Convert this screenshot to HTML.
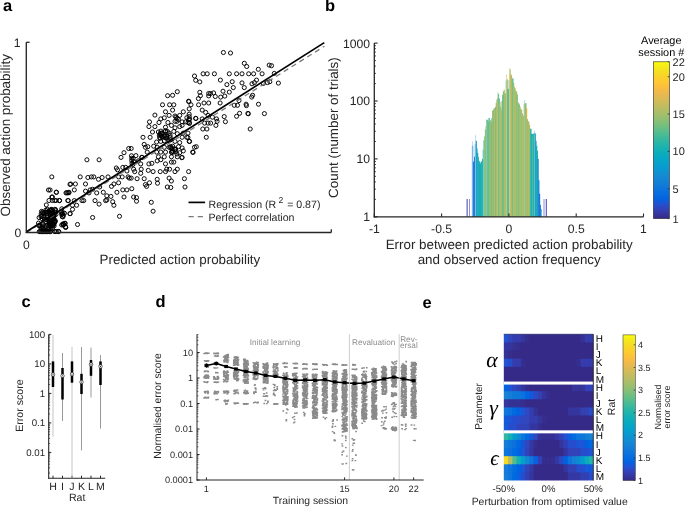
<!DOCTYPE html>
<html><head><meta charset="utf-8"><style>
html,body{margin:0;padding:0;background:#fff;}
body{width:685px;height:507px;overflow:hidden;}
svg{display:block;will-change:transform;text-rendering:geometricPrecision;}
</style></head><body>
<svg width="685" height="507" viewBox="0 0 685 507">
<rect width="685" height="507" fill="#fff"/>
<text x="3.00" y="11.40" font-size="16.5" text-anchor="start" fill="#000" font-family="&quot;Liberation Sans&quot;, sans-serif" font-weight="bold">a</text>
<text x="324.90" y="10.90" font-size="16.5" text-anchor="start" fill="#000" font-family="&quot;Liberation Sans&quot;, sans-serif" font-weight="bold">b</text>
<text x="21.40" y="307.30" font-size="16.5" text-anchor="start" fill="#000" font-family="&quot;Liberation Sans&quot;, sans-serif" font-weight="bold">c</text>
<text x="155.50" y="307.40" font-size="16.5" text-anchor="start" fill="#000" font-family="&quot;Liberation Sans&quot;, sans-serif" font-weight="bold">d</text>
<text x="422.60" y="307.60" font-size="16.5" text-anchor="start" fill="#000" font-family="&quot;Liberation Sans&quot;, sans-serif" font-weight="bold">e</text>
<g fill="none" stroke="#000" stroke-width="0.95">
<circle cx="223.4" cy="52.5" r="2.05"/>
<circle cx="230.5" cy="53.0" r="2.05"/>
<circle cx="244.3" cy="63.3" r="2.05"/>
<circle cx="246.7" cy="66.5" r="2.05"/>
<circle cx="269.2" cy="65.1" r="2.05"/>
<circle cx="271.5" cy="65.7" r="2.05"/>
<circle cx="258.3" cy="69.3" r="2.05"/>
<circle cx="214.4" cy="73.8" r="2.05"/>
<circle cx="229.3" cy="73.8" r="2.05"/>
<circle cx="236.6" cy="73.8" r="2.05"/>
<circle cx="242.0" cy="73.8" r="2.05"/>
<circle cx="248.7" cy="73.8" r="2.05"/>
<circle cx="253.6" cy="73.8" r="2.05"/>
<circle cx="262.1" cy="73.8" r="2.05"/>
<circle cx="274.3" cy="73.4" r="2.05"/>
<circle cx="220.4" cy="80.1" r="2.05"/>
<circle cx="232.2" cy="81.7" r="2.05"/>
<circle cx="226.9" cy="84.6" r="2.05"/>
<circle cx="233.3" cy="87.6" r="2.05"/>
<circle cx="242.0" cy="82.9" r="2.05"/>
<circle cx="244.3" cy="87.6" r="2.05"/>
<circle cx="256.5" cy="80.1" r="2.05"/>
<circle cx="252.0" cy="83.8" r="2.05"/>
<circle cx="254.4" cy="82.6" r="2.05"/>
<circle cx="263.3" cy="83.5" r="2.05"/>
<circle cx="267.4" cy="82.6" r="2.05"/>
<circle cx="269.8" cy="81.7" r="2.05"/>
<circle cx="278.4" cy="83.1" r="2.05"/>
<circle cx="223.0" cy="91.2" r="2.05"/>
<circle cx="229.3" cy="92.1" r="2.05"/>
<circle cx="213.6" cy="92.9" r="2.05"/>
<circle cx="215.3" cy="96.5" r="2.05"/>
<circle cx="220.7" cy="97.1" r="2.05"/>
<circle cx="224.8" cy="96.1" r="2.05"/>
<circle cx="252.6" cy="95.3" r="2.05"/>
<circle cx="251.7" cy="97.1" r="2.05"/>
<circle cx="239.0" cy="100.6" r="2.05"/>
<circle cx="220.1" cy="103.0" r="2.05"/>
<circle cx="246.1" cy="104.2" r="2.05"/>
<circle cx="258.5" cy="104.2" r="2.05"/>
<circle cx="210.5" cy="93.5" r="2.05"/>
<circle cx="234.3" cy="105.3" r="2.05"/>
<circle cx="237.5" cy="105.3" r="2.05"/>
<circle cx="246.4" cy="105.6" r="2.05"/>
<circle cx="239.6" cy="113.3" r="2.05"/>
<circle cx="236.6" cy="116.3" r="2.05"/>
<circle cx="247.9" cy="113.4" r="2.05"/>
<circle cx="248.3" cy="113.8" r="2.05"/>
<circle cx="264.4" cy="113.6" r="2.05"/>
<circle cx="224.2" cy="116.6" r="2.05"/>
<circle cx="225.4" cy="121.7" r="2.05"/>
<circle cx="216.5" cy="118.9" r="2.05"/>
<circle cx="217.1" cy="121.3" r="2.05"/>
<circle cx="215.9" cy="125.4" r="2.05"/>
<circle cx="210.6" cy="123.1" r="2.05"/>
<circle cx="250.2" cy="129.0" r="2.05"/>
<circle cx="212.4" cy="117.2" r="2.05"/>
<circle cx="194.5" cy="76.0" r="2.05"/>
<circle cx="195.7" cy="80.3" r="2.05"/>
<circle cx="199.8" cy="81.9" r="2.05"/>
<circle cx="203.1" cy="73.8" r="2.05"/>
<circle cx="207.2" cy="73.8" r="2.05"/>
<circle cx="177.3" cy="91.7" r="2.05"/>
<circle cx="172.6" cy="95.3" r="2.05"/>
<circle cx="167.6" cy="95.7" r="2.05"/>
<circle cx="199.8" cy="92.3" r="2.05"/>
<circle cx="200.4" cy="95.7" r="2.05"/>
<circle cx="198.4" cy="98.6" r="2.05"/>
<circle cx="208.7" cy="93.5" r="2.05"/>
<circle cx="208.7" cy="95.9" r="2.05"/>
<circle cx="188.6" cy="101.2" r="2.05"/>
<circle cx="188.9" cy="101.6" r="2.05"/>
<circle cx="204.0" cy="103.0" r="2.05"/>
<circle cx="162.5" cy="104.8" r="2.05"/>
<circle cx="169.6" cy="104.8" r="2.05"/>
<circle cx="173.8" cy="104.8" r="2.05"/>
<circle cx="191.0" cy="104.8" r="2.05"/>
<circle cx="198.6" cy="104.8" r="2.05"/>
<circle cx="208.7" cy="103.0" r="2.05"/>
<circle cx="165.5" cy="111.8" r="2.05"/>
<circle cx="172.6" cy="110.1" r="2.05"/>
<circle cx="183.3" cy="111.8" r="2.05"/>
<circle cx="189.2" cy="108.9" r="2.05"/>
<circle cx="202.2" cy="110.1" r="2.05"/>
<circle cx="205.7" cy="112.4" r="2.05"/>
<circle cx="154.9" cy="115.1" r="2.05"/>
<circle cx="160.8" cy="118.9" r="2.05"/>
<circle cx="164.3" cy="117.8" r="2.05"/>
<circle cx="169.1" cy="115.4" r="2.05"/>
<circle cx="175.0" cy="116.0" r="2.05"/>
<circle cx="179.7" cy="115.4" r="2.05"/>
<circle cx="189.2" cy="114.2" r="2.05"/>
<circle cx="189.2" cy="116.6" r="2.05"/>
<circle cx="195.7" cy="118.3" r="2.05"/>
<circle cx="195.9" cy="118.5" r="2.05"/>
<circle cx="202.2" cy="118.9" r="2.05"/>
<circle cx="208.1" cy="115.4" r="2.05"/>
<circle cx="149.5" cy="121.9" r="2.05"/>
<circle cx="159.0" cy="122.5" r="2.05"/>
<circle cx="167.9" cy="122.5" r="2.05"/>
<circle cx="175.0" cy="121.3" r="2.05"/>
<circle cx="178.5" cy="119.5" r="2.05"/>
<circle cx="182.1" cy="121.9" r="2.05"/>
<circle cx="185.6" cy="121.9" r="2.05"/>
<circle cx="188.0" cy="122.5" r="2.05"/>
<circle cx="204.6" cy="123.1" r="2.05"/>
<circle cx="208.1" cy="123.1" r="2.05"/>
<circle cx="148.9" cy="126.6" r="2.05"/>
<circle cx="154.9" cy="126.6" r="2.05"/>
<circle cx="165.5" cy="127.2" r="2.05"/>
<circle cx="171.4" cy="125.4" r="2.05"/>
<circle cx="175.0" cy="127.8" r="2.05"/>
<circle cx="179.7" cy="126.6" r="2.05"/>
<circle cx="182.1" cy="125.4" r="2.05"/>
<circle cx="202.8" cy="129.0" r="2.05"/>
<circle cx="206.9" cy="129.0" r="2.05"/>
<circle cx="152.5" cy="132.0" r="2.05"/>
<circle cx="158.4" cy="132.0" r="2.05"/>
<circle cx="162.0" cy="133.1" r="2.05"/>
<circle cx="165.5" cy="130.8" r="2.05"/>
<circle cx="169.1" cy="133.1" r="2.05"/>
<circle cx="173.8" cy="131.4" r="2.05"/>
<circle cx="177.3" cy="133.7" r="2.05"/>
<circle cx="183.3" cy="133.1" r="2.05"/>
<circle cx="188.0" cy="133.1" r="2.05"/>
<circle cx="143.0" cy="137.3" r="2.05"/>
<circle cx="150.1" cy="137.3" r="2.05"/>
<circle cx="159.6" cy="137.3" r="2.05"/>
<circle cx="162.0" cy="136.7" r="2.05"/>
<circle cx="165.5" cy="137.9" r="2.05"/>
<circle cx="170.2" cy="137.3" r="2.05"/>
<circle cx="182.1" cy="137.3" r="2.05"/>
<circle cx="186.8" cy="137.3" r="2.05"/>
<circle cx="206.3" cy="137.3" r="2.05"/>
<circle cx="156.6" cy="142.0" r="2.05"/>
<circle cx="160.8" cy="141.4" r="2.05"/>
<circle cx="164.3" cy="140.8" r="2.05"/>
<circle cx="169.1" cy="140.8" r="2.05"/>
<circle cx="175.0" cy="141.4" r="2.05"/>
<circle cx="179.7" cy="142.6" r="2.05"/>
<circle cx="189.2" cy="141.4" r="2.05"/>
<circle cx="144.2" cy="144.4" r="2.05"/>
<circle cx="145.4" cy="147.3" r="2.05"/>
<circle cx="147.8" cy="146.7" r="2.05"/>
<circle cx="153.7" cy="146.2" r="2.05"/>
<circle cx="157.2" cy="147.3" r="2.05"/>
<circle cx="164.3" cy="147.3" r="2.05"/>
<circle cx="169.1" cy="147.3" r="2.05"/>
<circle cx="172.6" cy="146.2" r="2.05"/>
<circle cx="178.5" cy="146.7" r="2.05"/>
<circle cx="182.1" cy="147.9" r="2.05"/>
<circle cx="194.5" cy="147.3" r="2.05"/>
<circle cx="196.3" cy="146.7" r="2.05"/>
<circle cx="131.2" cy="148.5" r="2.05"/>
<circle cx="135.9" cy="155.6" r="2.05"/>
<circle cx="147.2" cy="152.1" r="2.05"/>
<circle cx="156.6" cy="152.1" r="2.05"/>
<circle cx="160.8" cy="152.1" r="2.05"/>
<circle cx="165.5" cy="152.1" r="2.05"/>
<circle cx="171.4" cy="152.1" r="2.05"/>
<circle cx="175.0" cy="149.7" r="2.05"/>
<circle cx="179.7" cy="152.7" r="2.05"/>
<circle cx="183.3" cy="150.9" r="2.05"/>
<circle cx="192.7" cy="152.1" r="2.05"/>
<circle cx="141.8" cy="157.4" r="2.05"/>
<circle cx="158.4" cy="156.8" r="2.05"/>
<circle cx="164.3" cy="156.8" r="2.05"/>
<circle cx="171.4" cy="156.8" r="2.05"/>
<circle cx="177.3" cy="156.8" r="2.05"/>
<circle cx="182.1" cy="157.4" r="2.05"/>
<circle cx="193.1" cy="152.4" r="2.05"/>
<circle cx="181.8" cy="157.7" r="2.05"/>
<circle cx="187.9" cy="137.5" r="2.05"/>
<circle cx="189.6" cy="141.4" r="2.05"/>
<circle cx="164.4" cy="136.0" r="2.05"/>
<circle cx="170.1" cy="135.2" r="2.05"/>
<circle cx="165.1" cy="136.3" r="2.05"/>
<circle cx="161.2" cy="135.6" r="2.05"/>
<circle cx="166.6" cy="138.1" r="2.05"/>
<circle cx="160.1" cy="133.7" r="2.05"/>
<circle cx="160.1" cy="138.3" r="2.05"/>
<circle cx="167.3" cy="131.4" r="2.05"/>
<circle cx="170.8" cy="139.7" r="2.05"/>
<circle cx="166.8" cy="136.5" r="2.05"/>
<circle cx="160.9" cy="131.1" r="2.05"/>
<circle cx="165.3" cy="131.5" r="2.05"/>
<circle cx="161.3" cy="133.2" r="2.05"/>
<circle cx="159.4" cy="135.2" r="2.05"/>
<circle cx="172.0" cy="152.7" r="2.05"/>
<circle cx="172.7" cy="151.1" r="2.05"/>
<circle cx="172.5" cy="151.3" r="2.05"/>
<circle cx="172.1" cy="148.2" r="2.05"/>
<circle cx="177.0" cy="154.0" r="2.05"/>
<circle cx="175.6" cy="151.7" r="2.05"/>
<circle cx="170.8" cy="147.8" r="2.05"/>
<circle cx="170.6" cy="146.6" r="2.05"/>
<circle cx="174.9" cy="149.2" r="2.05"/>
<circle cx="175.6" cy="149.1" r="2.05"/>
<circle cx="189.4" cy="123.5" r="2.05"/>
<circle cx="176.0" cy="117.1" r="2.05"/>
<circle cx="188.7" cy="119.7" r="2.05"/>
<circle cx="189.7" cy="119.0" r="2.05"/>
<circle cx="177.0" cy="121.3" r="2.05"/>
<circle cx="186.9" cy="117.7" r="2.05"/>
<circle cx="177.2" cy="118.3" r="2.05"/>
<circle cx="189.5" cy="122.6" r="2.05"/>
<circle cx="148.9" cy="163.9" r="2.05"/>
<circle cx="151.9" cy="163.3" r="2.05"/>
<circle cx="157.2" cy="160.9" r="2.05"/>
<circle cx="160.8" cy="159.7" r="2.05"/>
<circle cx="165.5" cy="163.9" r="2.05"/>
<circle cx="171.4" cy="162.1" r="2.05"/>
<circle cx="173.8" cy="162.1" r="2.05"/>
<circle cx="140.7" cy="163.9" r="2.05"/>
<circle cx="133.6" cy="161.5" r="2.05"/>
<circle cx="133.6" cy="169.2" r="2.05"/>
<circle cx="134.7" cy="171.6" r="2.05"/>
<circle cx="141.2" cy="169.2" r="2.05"/>
<circle cx="148.3" cy="170.4" r="2.05"/>
<circle cx="153.1" cy="171.6" r="2.05"/>
<circle cx="160.2" cy="171.6" r="2.05"/>
<circle cx="165.5" cy="171.6" r="2.05"/>
<circle cx="166.7" cy="169.2" r="2.05"/>
<circle cx="169.6" cy="169.2" r="2.05"/>
<circle cx="175.0" cy="171.6" r="2.05"/>
<circle cx="177.3" cy="169.2" r="2.05"/>
<circle cx="188.6" cy="171.6" r="2.05"/>
<circle cx="140.7" cy="173.3" r="2.05"/>
<circle cx="131.2" cy="178.1" r="2.05"/>
<circle cx="137.1" cy="178.7" r="2.05"/>
<circle cx="144.2" cy="178.7" r="2.05"/>
<circle cx="149.5" cy="182.8" r="2.05"/>
<circle cx="145.4" cy="184.6" r="2.05"/>
<circle cx="146.6" cy="186.4" r="2.05"/>
<circle cx="157.2" cy="179.3" r="2.05"/>
<circle cx="157.5" cy="183.2" r="2.05"/>
<circle cx="169.1" cy="178.1" r="2.05"/>
<circle cx="171.4" cy="181.0" r="2.05"/>
<circle cx="184.4" cy="178.7" r="2.05"/>
<circle cx="131.8" cy="188.7" r="2.05"/>
<circle cx="167.3" cy="187.0" r="2.05"/>
<circle cx="170.8" cy="187.5" r="2.05"/>
<circle cx="185.0" cy="187.0" r="2.05"/>
<circle cx="133.6" cy="197.0" r="2.05"/>
<circle cx="136.5" cy="197.6" r="2.05"/>
<circle cx="136.5" cy="201.2" r="2.05"/>
<circle cx="151.3" cy="202.3" r="2.05"/>
<circle cx="153.1" cy="211.2" r="2.05"/>
<circle cx="131.8" cy="158.2" r="2.05"/>
<circle cx="131.5" cy="155.8" r="2.05"/>
<circle cx="142.0" cy="157.3" r="2.05"/>
<circle cx="138.4" cy="160.8" r="2.05"/>
<circle cx="132.9" cy="164.5" r="2.05"/>
<circle cx="132.0" cy="163.4" r="2.05"/>
<circle cx="131.7" cy="160.5" r="2.05"/>
<circle cx="133.2" cy="158.5" r="2.05"/>
<circle cx="121.0" cy="157.4" r="2.05"/>
<circle cx="124.0" cy="152.7" r="2.05"/>
<circle cx="128.7" cy="148.5" r="2.05"/>
<circle cx="86.9" cy="159.8" r="2.05"/>
<circle cx="99.1" cy="159.8" r="2.05"/>
<circle cx="51.8" cy="176.9" r="2.05"/>
<circle cx="80.2" cy="176.9" r="2.05"/>
<circle cx="87.9" cy="177.5" r="2.05"/>
<circle cx="91.4" cy="176.9" r="2.05"/>
<circle cx="93.8" cy="176.9" r="2.05"/>
<circle cx="98.5" cy="179.3" r="2.05"/>
<circle cx="102.1" cy="177.5" r="2.05"/>
<circle cx="108.0" cy="176.9" r="2.05"/>
<circle cx="116.3" cy="168.0" r="2.05"/>
<circle cx="117.5" cy="169.8" r="2.05"/>
<circle cx="122.8" cy="167.4" r="2.05"/>
<circle cx="125.7" cy="167.4" r="2.05"/>
<circle cx="126.9" cy="171.0" r="2.05"/>
<circle cx="118.6" cy="176.9" r="2.05"/>
<circle cx="122.2" cy="176.9" r="2.05"/>
<circle cx="128.1" cy="176.9" r="2.05"/>
<circle cx="129.3" cy="178.1" r="2.05"/>
<circle cx="70.7" cy="184.0" r="2.05"/>
<circle cx="75.4" cy="184.0" r="2.05"/>
<circle cx="85.5" cy="184.0" r="2.05"/>
<circle cx="74.3" cy="189.9" r="2.05"/>
<circle cx="56.5" cy="192.3" r="2.05"/>
<circle cx="66.0" cy="192.9" r="2.05"/>
<circle cx="67.8" cy="192.9" r="2.05"/>
<circle cx="68.9" cy="192.3" r="2.05"/>
<circle cx="85.5" cy="191.1" r="2.05"/>
<circle cx="89.0" cy="192.9" r="2.05"/>
<circle cx="90.2" cy="189.9" r="2.05"/>
<circle cx="92.6" cy="189.3" r="2.05"/>
<circle cx="99.7" cy="187.0" r="2.05"/>
<circle cx="96.7" cy="192.9" r="2.05"/>
<circle cx="103.3" cy="192.3" r="2.05"/>
<circle cx="106.8" cy="195.8" r="2.05"/>
<circle cx="110.9" cy="196.4" r="2.05"/>
<circle cx="111.5" cy="186.4" r="2.05"/>
<circle cx="113.9" cy="184.0" r="2.05"/>
<circle cx="118.6" cy="182.8" r="2.05"/>
<circle cx="116.9" cy="192.3" r="2.05"/>
<circle cx="122.8" cy="189.9" r="2.05"/>
<circle cx="126.9" cy="189.9" r="2.05"/>
<circle cx="124.0" cy="197.0" r="2.05"/>
<circle cx="52.4" cy="197.0" r="2.05"/>
<circle cx="54.7" cy="200.6" r="2.05"/>
<circle cx="59.5" cy="200.6" r="2.05"/>
<circle cx="68.3" cy="200.6" r="2.05"/>
<circle cx="74.3" cy="200.6" r="2.05"/>
<circle cx="82.0" cy="200.6" r="2.05"/>
<circle cx="83.7" cy="200.6" r="2.05"/>
<circle cx="95.0" cy="200.6" r="2.05"/>
<circle cx="99.1" cy="204.1" r="2.05"/>
<circle cx="105.6" cy="200.6" r="2.05"/>
<circle cx="106.8" cy="200.0" r="2.05"/>
<circle cx="112.7" cy="201.7" r="2.05"/>
<circle cx="113.9" cy="205.3" r="2.05"/>
<circle cx="72.5" cy="205.3" r="2.05"/>
<circle cx="76.6" cy="205.3" r="2.05"/>
<circle cx="72.5" cy="209.4" r="2.05"/>
<circle cx="70.1" cy="213.6" r="2.05"/>
<circle cx="61.8" cy="208.8" r="2.05"/>
<circle cx="63.0" cy="213.0" r="2.05"/>
<circle cx="92.6" cy="217.5" r="2.05"/>
<circle cx="119.5" cy="216.3" r="2.05"/>
<circle cx="77.5" cy="224.5" r="2.05"/>
<circle cx="65.8" cy="227.4" r="2.05"/>
<circle cx="62.9" cy="223.9" r="2.05"/>
<circle cx="58.8" cy="231.5" r="2.05"/>
<circle cx="56.4" cy="231.5" r="2.05"/>
<circle cx="54.7" cy="231.5" r="2.05"/>
<circle cx="61.7" cy="214.5" r="2.05"/>
<circle cx="62.9" cy="216.9" r="2.05"/>
<circle cx="65.2" cy="223.3" r="2.05"/>
<circle cx="64.0" cy="224.5" r="2.05"/>
<circle cx="61.7" cy="225.0" r="2.05"/>
<circle cx="48.5" cy="190.0" r="2.05"/>
<circle cx="50.1" cy="190.0" r="2.05"/>
<circle cx="56.2" cy="192.2" r="2.05"/>
<circle cx="66.7" cy="192.7" r="2.05"/>
<circle cx="68.9" cy="192.7" r="2.05"/>
<circle cx="70.0" cy="184.4" r="2.05"/>
<circle cx="51.8" cy="197.1" r="2.05"/>
<circle cx="49.0" cy="200.5" r="2.05"/>
<circle cx="52.3" cy="200.5" r="2.05"/>
<circle cx="56.2" cy="200.5" r="2.05"/>
<circle cx="59.5" cy="200.5" r="2.05"/>
<circle cx="67.8" cy="200.5" r="2.05"/>
<circle cx="46.3" cy="204.9" r="2.05"/>
<circle cx="70.0" cy="213.7" r="2.05"/>
<circle cx="61.2" cy="212.1" r="2.05"/>
<circle cx="63.4" cy="215.4" r="2.05"/>
<circle cx="64.5" cy="213.2" r="2.05"/>
<circle cx="65.6" cy="227.0" r="2.05"/>
<circle cx="63.4" cy="224.2" r="2.05"/>
<circle cx="39.1" cy="217.6" r="2.05"/>
<circle cx="38.5" cy="223.1" r="2.05"/>
<circle cx="39.1" cy="225.4" r="2.05"/>
<circle cx="52.9" cy="225.5" r="2.05"/>
<circle cx="54.2" cy="214.2" r="2.05"/>
<circle cx="46.3" cy="212.6" r="2.05"/>
<circle cx="50.3" cy="223.5" r="2.05"/>
<circle cx="55.8" cy="210.7" r="2.05"/>
<circle cx="44.1" cy="212.6" r="2.05"/>
<circle cx="45.3" cy="222.1" r="2.05"/>
<circle cx="41.2" cy="214.0" r="2.05"/>
<circle cx="50.2" cy="210.5" r="2.05"/>
<circle cx="49.6" cy="213.1" r="2.05"/>
<circle cx="47.3" cy="215.3" r="2.05"/>
<circle cx="47.7" cy="225.3" r="2.05"/>
<circle cx="53.9" cy="218.8" r="2.05"/>
<circle cx="42.5" cy="212.1" r="2.05"/>
<circle cx="53.1" cy="224.4" r="2.05"/>
<circle cx="43.0" cy="213.2" r="2.05"/>
<circle cx="55.0" cy="221.6" r="2.05"/>
<circle cx="55.2" cy="212.3" r="2.05"/>
<circle cx="49.7" cy="224.0" r="2.05"/>
<circle cx="41.7" cy="216.2" r="2.05"/>
<circle cx="55.5" cy="209.7" r="2.05"/>
<circle cx="51.3" cy="213.1" r="2.05"/>
<circle cx="53.2" cy="213.4" r="2.05"/>
<circle cx="44.7" cy="219.1" r="2.05"/>
<circle cx="51.5" cy="212.0" r="2.05"/>
<circle cx="45.8" cy="210.2" r="2.05"/>
<circle cx="53.6" cy="218.5" r="2.05"/>
<circle cx="44.5" cy="219.4" r="2.05"/>
<circle cx="43.3" cy="224.6" r="2.05"/>
<circle cx="47.3" cy="209.3" r="2.05"/>
<circle cx="41.0" cy="216.6" r="2.05"/>
<circle cx="45.9" cy="212.0" r="2.05"/>
<circle cx="42.1" cy="218.7" r="2.05"/>
<circle cx="54.3" cy="215.2" r="2.05"/>
<circle cx="50.5" cy="225.7" r="2.05"/>
<circle cx="49.4" cy="220.8" r="2.05"/>
<circle cx="41.5" cy="211.4" r="2.05"/>
<circle cx="54.9" cy="209.3" r="2.05"/>
<circle cx="55.4" cy="220.9" r="2.05"/>
<circle cx="51.6" cy="209.4" r="2.05"/>
<circle cx="51.7" cy="217.2" r="2.05"/>
<circle cx="56.0" cy="214.4" r="2.05"/>
<circle cx="49.9" cy="210.3" r="2.05"/>
<circle cx="54.4" cy="221.5" r="2.05"/>
<circle cx="51.3" cy="221.5" r="2.05"/>
<circle cx="54.6" cy="222.5" r="2.05"/>
<circle cx="51.0" cy="215.0" r="2.05"/>
<circle cx="53.9" cy="224.3" r="2.05"/>
<circle cx="52.6" cy="216.1" r="2.05"/>
<circle cx="49.2" cy="223.7" r="2.05"/>
<circle cx="46.1" cy="219.6" r="2.05"/>
<circle cx="49.7" cy="218.9" r="2.05"/>
<circle cx="51.1" cy="210.4" r="2.05"/>
<circle cx="54.1" cy="225.9" r="2.05"/>
<circle cx="46.2" cy="221.4" r="2.05"/>
<circle cx="49.3" cy="221.5" r="2.05"/>
<circle cx="53.4" cy="216.5" r="2.05"/>
<circle cx="52.6" cy="210.4" r="2.05"/>
<circle cx="51.1" cy="209.5" r="2.05"/>
<circle cx="43.7" cy="217.2" r="2.05"/>
<circle cx="52.0" cy="218.0" r="2.05"/>
<circle cx="51.1" cy="223.0" r="2.05"/>
<circle cx="47.6" cy="212.1" r="2.05"/>
<circle cx="48.0" cy="220.1" r="2.05"/>
<circle cx="47.0" cy="214.0" r="2.05"/>
<circle cx="54.1" cy="219.9" r="2.05"/>
<circle cx="49.4" cy="222.7" r="2.05"/>
<circle cx="48.3" cy="220.0" r="2.05"/>
<circle cx="47.0" cy="217.2" r="2.05"/>
<circle cx="53.1" cy="223.0" r="2.05"/>
<circle cx="53.8" cy="216.6" r="2.05"/>
<circle cx="50.8" cy="215.8" r="2.05"/>
<circle cx="40.9" cy="227.5" r="2.05"/>
<circle cx="50.7" cy="228.9" r="2.05"/>
<circle cx="49.0" cy="229.3" r="2.05"/>
<circle cx="42.9" cy="226.2" r="2.05"/>
<circle cx="45.3" cy="226.6" r="2.05"/>
<circle cx="42.0" cy="227.2" r="2.05"/>
<circle cx="47.8" cy="227.5" r="2.05"/>
<circle cx="43.4" cy="228.9" r="2.05"/>
<circle cx="52.7" cy="227.3" r="2.05"/>
<circle cx="40.0" cy="225.6" r="2.05"/>
<circle cx="51.2" cy="225.7" r="2.05"/>
<circle cx="48.9" cy="227.8" r="2.05"/>
<circle cx="43.3" cy="228.7" r="2.05"/>
<circle cx="39.3" cy="226.0" r="2.05"/>
<circle cx="39.3" cy="231.6" r="2.05"/>
<circle cx="40.1" cy="231.6" r="2.05"/>
<circle cx="40.9" cy="231.6" r="2.05"/>
<circle cx="41.7" cy="231.6" r="2.05"/>
<circle cx="42.5" cy="231.6" r="2.05"/>
<circle cx="43.3" cy="231.6" r="2.05"/>
<circle cx="44.1" cy="231.6" r="2.05"/>
<circle cx="44.9" cy="231.6" r="2.05"/>
<circle cx="45.7" cy="231.6" r="2.05"/>
<circle cx="46.5" cy="231.6" r="2.05"/>
<circle cx="47.3" cy="231.6" r="2.05"/>
<circle cx="48.1" cy="231.6" r="2.05"/>
<circle cx="48.9" cy="231.6" r="2.05"/>
<circle cx="49.7" cy="231.6" r="2.05"/>
<circle cx="50.5" cy="231.6" r="2.05"/>
<circle cx="55.2" cy="231.6" r="2.05"/>
<circle cx="58.4" cy="231.6" r="2.05"/>
<circle cx="62.3" cy="213.9" r="2.05"/>
<circle cx="62.3" cy="216.7" r="2.05"/>
<circle cx="61.5" cy="212.0" r="2.05"/>
<circle cx="64.7" cy="223.4" r="2.05"/>
<circle cx="65.5" cy="227.0" r="2.05"/>
<circle cx="63.1" cy="225.0" r="2.05"/>
</g>
<line x1="26.30" y1="232.45" x2="324.40" y2="46.30" stroke="#7a7a7a" stroke-width="1.3" stroke-dasharray="5.2,4.0"/>
<line x1="26.50" y1="231.80" x2="324.30" y2="42.60" stroke="#000" stroke-width="1.7"/>
<line x1="26.30" y1="42.30" x2="26.30" y2="233.05" stroke="#262626" stroke-width="1.35"/>
<line x1="25.70" y1="232.45" x2="331.30" y2="232.45" stroke="#262626" stroke-width="1.35"/>
<line x1="26.30" y1="42.30" x2="29.60" y2="42.30" stroke="#262626" stroke-width="1.3"/>
<line x1="331.30" y1="232.45" x2="331.30" y2="229.15" stroke="#262626" stroke-width="1.3"/>
<text x="20.60" y="46.60" font-size="12.2" text-anchor="end" fill="#262626" font-family="&quot;Liberation Sans&quot;, sans-serif">1</text>
<text x="21.40" y="236.85" font-size="12.2" text-anchor="end" fill="#262626" font-family="&quot;Liberation Sans&quot;, sans-serif">0</text>
<text x="26.30" y="248.50" font-size="12.2" text-anchor="middle" fill="#262626" font-family="&quot;Liberation Sans&quot;, sans-serif">0</text>
<text x="179.90" y="263.80" font-size="13.4" text-anchor="middle" fill="#262626" font-family="&quot;Liberation Sans&quot;, sans-serif">Predicted action probability</text>
<text x="9.80" y="135.30" font-size="13.4" text-anchor="middle" fill="#262626" font-family="&quot;Liberation Sans&quot;, sans-serif" transform="rotate(-90 9.80 135.30)">Observed action probability</text>
<line x1="188.50" y1="202.40" x2="205.10" y2="202.40" stroke="#000" stroke-width="1.7"/>
<line x1="188.50" y1="216.70" x2="205.10" y2="216.70" stroke="#7a7a7a" stroke-width="1.3" stroke-dasharray="5.2,4.0"/>
<text x="208.5" y="207.5" font-size="10.6" fill="#262626" font-family="&quot;Liberation Sans&quot;, sans-serif">Regression (R<tspan dx="2.2" dy="-4.8" font-size="8.6">2</tspan><tspan dx="1.0" dy="4.8"> = 0.87)</tspan></text>
<text x="208.50" y="220.70" font-size="10.6" text-anchor="start" fill="#262626" font-family="&quot;Liberation Sans&quot;, sans-serif">Perfect correlation</text>
<rect x="471.90" y="145.81" width="1.32" height="70.99" fill="#2a86d8"/>
<rect x="472.62" y="162.10" width="1.32" height="54.70" fill="#2a86d8"/>
<rect x="473.34" y="161.36" width="1.32" height="55.44" fill="#1f6fe0"/>
<rect x="474.06" y="156.74" width="1.32" height="60.06" fill="#1f6fe0"/>
<rect x="474.78" y="143.79" width="1.32" height="73.01" fill="#17a6c2"/>
<rect x="475.50" y="140.82" width="1.32" height="75.98" fill="#1590d0"/>
<rect x="476.22" y="148.38" width="1.32" height="68.42" fill="#17a6c2"/>
<rect x="476.94" y="152.79" width="1.32" height="64.01" fill="#15a8c0"/>
<rect x="477.66" y="156.81" width="1.32" height="59.99" fill="#3ab8a4"/>
<rect x="478.38" y="160.87" width="1.32" height="55.93" fill="#15a8c0"/>
<rect x="479.10" y="162.31" width="1.32" height="54.49" fill="#15a8c0"/>
<rect x="479.82" y="163.66" width="1.32" height="53.14" fill="#15a8c0"/>
<rect x="480.54" y="162.38" width="1.32" height="54.42" fill="#20b2b0"/>
<rect x="481.26" y="161.06" width="1.32" height="55.74" fill="#20b2b0"/>
<rect x="481.98" y="159.11" width="1.32" height="57.69" fill="#20b2b0"/>
<rect x="482.70" y="149.70" width="1.32" height="67.10" fill="#3ab8a4"/>
<rect x="483.42" y="140.48" width="1.32" height="76.32" fill="#20b2b0"/>
<rect x="484.14" y="136.33" width="1.32" height="80.47" fill="#8cc27a"/>
<rect x="484.86" y="129.46" width="1.32" height="87.34" fill="#8cc27a"/>
<rect x="485.58" y="125.94" width="1.32" height="90.86" fill="#8cc27a"/>
<rect x="486.30" y="120.00" width="1.32" height="96.80" fill="#30b4aa"/>
<rect x="487.02" y="119.76" width="1.32" height="97.04" fill="#6cbf88"/>
<rect x="487.74" y="121.88" width="1.32" height="94.92" fill="#8cc27a"/>
<rect x="488.46" y="117.93" width="1.32" height="98.87" fill="#4dbb98"/>
<rect x="489.18" y="120.15" width="1.32" height="96.65" fill="#8ac07a"/>
<rect x="489.90" y="120.59" width="1.32" height="96.21" fill="#80bf80"/>
<rect x="490.62" y="122.85" width="1.32" height="93.95" fill="#dcb446"/>
<rect x="491.34" y="118.28" width="1.32" height="98.52" fill="#4cbb9a"/>
<rect x="492.06" y="110.73" width="1.32" height="106.07" fill="#8cc07a"/>
<rect x="492.78" y="110.09" width="1.32" height="106.71" fill="#d0b854"/>
<rect x="493.50" y="108.37" width="1.32" height="108.43" fill="#55bb95"/>
<rect x="494.22" y="108.26" width="1.32" height="108.54" fill="#d0b854"/>
<rect x="494.94" y="106.98" width="1.32" height="109.82" fill="#62bd8e"/>
<rect x="495.66" y="102.88" width="1.32" height="113.92" fill="#d0b854"/>
<rect x="496.38" y="99.53" width="1.32" height="117.27" fill="#a4bd6c"/>
<rect x="497.10" y="98.35" width="1.32" height="118.45" fill="#b4bc62"/>
<rect x="497.82" y="93.90" width="1.32" height="122.90" fill="#62bd8e"/>
<rect x="498.54" y="98.47" width="1.32" height="118.33" fill="#55bb95"/>
<rect x="499.26" y="101.96" width="1.32" height="114.84" fill="#b4bc62"/>
<rect x="499.98" y="106.82" width="1.32" height="109.98" fill="#aabd68"/>
<rect x="500.70" y="110.48" width="1.32" height="106.32" fill="#d4b950"/>
<rect x="501.42" y="100.92" width="1.32" height="115.88" fill="#80bf80"/>
<rect x="502.14" y="94.88" width="1.32" height="121.92" fill="#62bd8e"/>
<rect x="502.86" y="91.53" width="1.32" height="125.27" fill="#4cbb9a"/>
<rect x="503.58" y="89.72" width="1.32" height="127.08" fill="#d4b950"/>
<rect x="504.30" y="93.55" width="1.32" height="123.25" fill="#8cc07a"/>
<rect x="505.02" y="93.26" width="1.32" height="123.54" fill="#d4b950"/>
<rect x="505.74" y="80.75" width="1.32" height="136.05" fill="#62bd8e"/>
<rect x="506.46" y="79.22" width="1.32" height="137.58" fill="#8cc07a"/>
<rect x="507.18" y="89.14" width="1.32" height="127.66" fill="#55bb95"/>
<rect x="507.90" y="88.87" width="1.32" height="127.93" fill="#62bd8e"/>
<rect x="508.62" y="80.18" width="1.32" height="136.62" fill="#4cbb9a"/>
<rect x="509.34" y="69.28" width="1.32" height="147.52" fill="#96c074"/>
<rect x="510.06" y="73.86" width="1.32" height="142.94" fill="#d0b854"/>
<rect x="510.78" y="75.37" width="1.32" height="141.43" fill="#b4bc62"/>
<rect x="511.50" y="79.15" width="1.32" height="137.65" fill="#96c074"/>
<rect x="512.22" y="78.26" width="1.32" height="138.54" fill="#62bd8e"/>
<rect x="512.94" y="82.79" width="1.32" height="134.01" fill="#96c074"/>
<rect x="513.66" y="86.86" width="1.32" height="129.94" fill="#d0b854"/>
<rect x="514.38" y="88.25" width="1.32" height="128.55" fill="#96c074"/>
<rect x="515.10" y="91.00" width="1.32" height="125.80" fill="#b4bc62"/>
<rect x="515.82" y="91.40" width="1.32" height="125.40" fill="#96c074"/>
<rect x="516.54" y="94.44" width="1.32" height="122.36" fill="#80bf80"/>
<rect x="517.26" y="102.31" width="1.32" height="114.49" fill="#a4bd6c"/>
<rect x="517.98" y="103.22" width="1.32" height="113.58" fill="#80bf80"/>
<rect x="518.70" y="104.58" width="1.32" height="112.22" fill="#80bf80"/>
<rect x="519.42" y="106.80" width="1.32" height="110.00" fill="#b4bc62"/>
<rect x="520.14" y="109.47" width="1.32" height="107.33" fill="#a4bd6c"/>
<rect x="520.86" y="109.62" width="1.32" height="107.18" fill="#a4bd6c"/>
<rect x="521.58" y="113.47" width="1.32" height="103.33" fill="#8cc07a"/>
<rect x="522.30" y="116.85" width="1.32" height="99.95" fill="#b4bc62"/>
<rect x="523.02" y="115.74" width="1.32" height="101.06" fill="#aabd68"/>
<rect x="523.74" y="103.88" width="1.32" height="112.92" fill="#aabd68"/>
<rect x="524.46" y="104.17" width="1.32" height="112.63" fill="#dcb446"/>
<rect x="525.18" y="102.98" width="1.32" height="113.82" fill="#80bf80"/>
<rect x="525.90" y="108.30" width="1.32" height="108.50" fill="#dcb446"/>
<rect x="526.62" y="119.17" width="1.32" height="97.63" fill="#8ac07a"/>
<rect x="527.34" y="121.21" width="1.32" height="95.59" fill="#96c074"/>
<rect x="528.06" y="121.67" width="1.32" height="95.13" fill="#aabd68"/>
<rect x="528.78" y="124.90" width="1.32" height="91.90" fill="#b4bc62"/>
<rect x="529.50" y="128.65" width="1.32" height="88.15" fill="#8cc27a"/>
<rect x="530.22" y="128.84" width="1.32" height="87.96" fill="#20b0b4"/>
<rect x="530.94" y="134.05" width="1.32" height="82.75" fill="#20b0b4"/>
<rect x="531.66" y="133.79" width="1.32" height="83.01" fill="#20b0b4"/>
<rect x="532.38" y="136.51" width="1.32" height="80.29" fill="#66be8a"/>
<rect x="533.10" y="133.71" width="1.32" height="83.09" fill="#20b0b4"/>
<rect x="533.82" y="133.07" width="1.32" height="83.73" fill="#18acbc"/>
<rect x="534.54" y="133.52" width="1.32" height="83.28" fill="#139ccc"/>
<rect x="535.26" y="140.83" width="1.32" height="75.97" fill="#139ccc"/>
<rect x="535.98" y="145.80" width="1.32" height="71.00" fill="#18acbc"/>
<rect x="536.70" y="150.77" width="1.32" height="66.03" fill="#22b2b0"/>
<rect x="537.42" y="158.87" width="1.32" height="57.93" fill="#1a8ad6"/>
<rect x="538.14" y="180.18" width="1.32" height="36.62" fill="#1a8ad6"/>
<rect x="538.86" y="193.72" width="1.32" height="23.08" fill="#1f72df"/>
<rect x="539.58" y="204.85" width="1.32" height="11.95" fill="#1f72df"/>
<rect x="540.30" y="209.06" width="1.32" height="7.74" fill="#1a8ad6"/>
<rect x="472.05" y="141.50" width="0.8" height="75.30" fill="#a8c8f0" opacity="0.85"/>
<rect x="475.15" y="135.00" width="0.8" height="81.80" fill="#a8d0f0" opacity="0.85"/>
<rect x="483.35" y="140.40" width="0.8" height="76.40" fill="#b0dcd8" opacity="0.85"/>
<rect x="486.05" y="119.40" width="0.8" height="97.40" fill="#9ad0c8" opacity="0.85"/>
<rect x="509.25" y="67.60" width="0.8" height="149.20" fill="#e6d6a0" opacity="0.85"/>
<rect x="506.05" y="74.50" width="0.8" height="142.30" fill="#e0c880" opacity="0.85"/>
<rect x="523.95" y="100.00" width="0.8" height="116.80" fill="#8ad0c0" opacity="0.85"/>
<rect x="534.25" y="130.80" width="0.8" height="86.00" fill="#80d0c8" opacity="0.85"/>
<rect x="497.55" y="91.80" width="0.8" height="125.00" fill="#a8d0a0" opacity="0.85"/>
<rect x="466.5" y="199.0" width="1.3" height="17.80" fill="#6a6ac6"/>
<rect x="469.0" y="199.0" width="1.0" height="17.80" fill="#8f8fda"/>
<rect x="543.5" y="199.0" width="1.0" height="17.80" fill="#8f8fda"/>
<rect x="545.7" y="199.0" width="1.3" height="17.80" fill="#6a6ac6"/>
<line x1="374.30" y1="43.10" x2="374.30" y2="217.40" stroke="#262626" stroke-width="1.3"/>
<line x1="373.70" y1="216.80" x2="643.50" y2="216.80" stroke="#262626" stroke-width="1.3"/>
<line x1="374.30" y1="216.80" x2="377.60" y2="216.80" stroke="#262626" stroke-width="1.1"/>
<line x1="374.30" y1="199.37" x2="376.00" y2="199.37" stroke="#262626" stroke-width="0.8"/>
<line x1="374.30" y1="189.17" x2="376.00" y2="189.17" stroke="#262626" stroke-width="0.8"/>
<line x1="374.30" y1="181.94" x2="376.00" y2="181.94" stroke="#262626" stroke-width="0.8"/>
<line x1="374.30" y1="176.33" x2="376.00" y2="176.33" stroke="#262626" stroke-width="0.8"/>
<line x1="374.30" y1="171.75" x2="376.00" y2="171.75" stroke="#262626" stroke-width="0.8"/>
<line x1="374.30" y1="167.87" x2="376.00" y2="167.87" stroke="#262626" stroke-width="0.8"/>
<line x1="374.30" y1="164.51" x2="376.00" y2="164.51" stroke="#262626" stroke-width="0.8"/>
<line x1="374.30" y1="161.55" x2="376.00" y2="161.55" stroke="#262626" stroke-width="0.8"/>
<line x1="374.30" y1="158.90" x2="377.60" y2="158.90" stroke="#262626" stroke-width="1.1"/>
<line x1="374.30" y1="141.47" x2="376.00" y2="141.47" stroke="#262626" stroke-width="0.8"/>
<line x1="374.30" y1="131.27" x2="376.00" y2="131.27" stroke="#262626" stroke-width="0.8"/>
<line x1="374.30" y1="124.04" x2="376.00" y2="124.04" stroke="#262626" stroke-width="0.8"/>
<line x1="374.30" y1="118.43" x2="376.00" y2="118.43" stroke="#262626" stroke-width="0.8"/>
<line x1="374.30" y1="113.85" x2="376.00" y2="113.85" stroke="#262626" stroke-width="0.8"/>
<line x1="374.30" y1="109.97" x2="376.00" y2="109.97" stroke="#262626" stroke-width="0.8"/>
<line x1="374.30" y1="106.61" x2="376.00" y2="106.61" stroke="#262626" stroke-width="0.8"/>
<line x1="374.30" y1="103.65" x2="376.00" y2="103.65" stroke="#262626" stroke-width="0.8"/>
<line x1="374.30" y1="101.00" x2="377.60" y2="101.00" stroke="#262626" stroke-width="1.1"/>
<line x1="374.30" y1="83.57" x2="376.00" y2="83.57" stroke="#262626" stroke-width="0.8"/>
<line x1="374.30" y1="73.37" x2="376.00" y2="73.37" stroke="#262626" stroke-width="0.8"/>
<line x1="374.30" y1="66.14" x2="376.00" y2="66.14" stroke="#262626" stroke-width="0.8"/>
<line x1="374.30" y1="60.53" x2="376.00" y2="60.53" stroke="#262626" stroke-width="0.8"/>
<line x1="374.30" y1="55.95" x2="376.00" y2="55.95" stroke="#262626" stroke-width="0.8"/>
<line x1="374.30" y1="52.07" x2="376.00" y2="52.07" stroke="#262626" stroke-width="0.8"/>
<line x1="374.30" y1="48.71" x2="376.00" y2="48.71" stroke="#262626" stroke-width="0.8"/>
<line x1="374.30" y1="45.75" x2="376.00" y2="45.75" stroke="#262626" stroke-width="0.8"/>
<line x1="374.30" y1="43.10" x2="377.60" y2="43.10" stroke="#262626" stroke-width="1.1"/>
<line x1="374.30" y1="216.80" x2="374.30" y2="213.50" stroke="#262626" stroke-width="1.1"/>
<text x="374.30" y="233.20" font-size="12.2" text-anchor="middle" fill="#262626" font-family="&quot;Liberation Sans&quot;, sans-serif">-1</text>
<line x1="441.60" y1="216.80" x2="441.60" y2="213.50" stroke="#262626" stroke-width="1.1"/>
<text x="441.60" y="233.20" font-size="12.2" text-anchor="middle" fill="#262626" font-family="&quot;Liberation Sans&quot;, sans-serif">-0.5</text>
<line x1="508.90" y1="216.80" x2="508.90" y2="213.50" stroke="#262626" stroke-width="1.1"/>
<text x="508.90" y="233.20" font-size="12.2" text-anchor="middle" fill="#262626" font-family="&quot;Liberation Sans&quot;, sans-serif">0</text>
<line x1="576.20" y1="216.80" x2="576.20" y2="213.50" stroke="#262626" stroke-width="1.1"/>
<text x="576.20" y="233.20" font-size="12.2" text-anchor="middle" fill="#262626" font-family="&quot;Liberation Sans&quot;, sans-serif">0.5</text>
<line x1="643.50" y1="216.80" x2="643.50" y2="213.50" stroke="#262626" stroke-width="1.1"/>
<text x="643.50" y="233.20" font-size="12.2" text-anchor="middle" fill="#262626" font-family="&quot;Liberation Sans&quot;, sans-serif">1</text>
<text x="370.00" y="221.20" font-size="12.2" text-anchor="end" fill="#262626" font-family="&quot;Liberation Sans&quot;, sans-serif">1</text>
<text x="370.00" y="163.30" font-size="12.2" text-anchor="end" fill="#262626" font-family="&quot;Liberation Sans&quot;, sans-serif">10</text>
<text x="370.00" y="105.40" font-size="12.2" text-anchor="end" fill="#262626" font-family="&quot;Liberation Sans&quot;, sans-serif">100</text>
<text x="370.00" y="47.50" font-size="12.2" text-anchor="end" fill="#262626" font-family="&quot;Liberation Sans&quot;, sans-serif">1000</text>
<text x="337.60" y="127.60" font-size="13.4" text-anchor="middle" fill="#262626" font-family="&quot;Liberation Sans&quot;, sans-serif" transform="rotate(-90 337.60 127.60)">Count (number of trials)</text>
<text x="509.20" y="248.50" font-size="13.4" text-anchor="middle" fill="#262626" font-family="&quot;Liberation Sans&quot;, sans-serif">Error between predicted action probability</text>
<text x="509.20" y="263.80" font-size="13.4" text-anchor="middle" fill="#262626" font-family="&quot;Liberation Sans&quot;, sans-serif">and observed action frequency</text>
<defs><linearGradient id="par1" x1="0" y1="1" x2="0" y2="0"><stop offset="0.0000" stop-color="#352a87"/><stop offset="0.0312" stop-color="#36369f"/><stop offset="0.0625" stop-color="#3243b9"/><stop offset="0.0938" stop-color="#2152d3"/><stop offset="0.1250" stop-color="#0462e0"/><stop offset="0.1562" stop-color="#046ce0"/><stop offset="0.1875" stop-color="#0c74dd"/><stop offset="0.2188" stop-color="#127cd8"/><stop offset="0.2500" stop-color="#1484d4"/><stop offset="0.2812" stop-color="#118dd2"/><stop offset="0.3125" stop-color="#0a97d1"/><stop offset="0.3438" stop-color="#069fce"/><stop offset="0.3750" stop-color="#06a6c7"/><stop offset="0.4062" stop-color="#09abbf"/><stop offset="0.4375" stop-color="#13b0b6"/><stop offset="0.4688" stop-color="#21b4ac"/><stop offset="0.5000" stop-color="#33b8a1"/><stop offset="0.5312" stop-color="#47bb95"/><stop offset="0.5625" stop-color="#5ebe89"/><stop offset="0.5938" stop-color="#75bf7e"/><stop offset="0.6250" stop-color="#8bbf75"/><stop offset="0.6562" stop-color="#9fbe6d"/><stop offset="0.6875" stop-color="#b1bd66"/><stop offset="0.7188" stop-color="#c2bc5f"/><stop offset="0.7500" stop-color="#d3bb58"/><stop offset="0.7812" stop-color="#e3b951"/><stop offset="0.8125" stop-color="#f2b949"/><stop offset="0.8438" stop-color="#febf3c"/><stop offset="0.8750" stop-color="#fec932"/><stop offset="0.9062" stop-color="#f9d329"/><stop offset="0.9375" stop-color="#f5de21"/><stop offset="0.9688" stop-color="#f5eb18"/><stop offset="1.0000" stop-color="#f9fb0e"/></linearGradient></defs>
<rect x="653.40" y="61.80" width="16.00" height="156.80" fill="url(#par1)" stroke="#262626" stroke-width="0.6"/>
<line x1="667.70" y1="218.60" x2="669.40" y2="218.60" stroke="#262626" stroke-width="0.8"/>
<text x="672.60" y="222.60" font-size="11.0" text-anchor="start" fill="#262626" font-family="&quot;Liberation Sans&quot;, sans-serif">1</text>
<line x1="667.70" y1="188.73" x2="669.40" y2="188.73" stroke="#262626" stroke-width="0.8"/>
<text x="672.60" y="192.73" font-size="11.0" text-anchor="start" fill="#262626" font-family="&quot;Liberation Sans&quot;, sans-serif">5</text>
<line x1="667.70" y1="151.40" x2="669.40" y2="151.40" stroke="#262626" stroke-width="0.8"/>
<text x="672.60" y="155.40" font-size="11.0" text-anchor="start" fill="#262626" font-family="&quot;Liberation Sans&quot;, sans-serif">10</text>
<line x1="667.70" y1="114.07" x2="669.40" y2="114.07" stroke="#262626" stroke-width="0.8"/>
<text x="672.60" y="118.07" font-size="11.0" text-anchor="start" fill="#262626" font-family="&quot;Liberation Sans&quot;, sans-serif">15</text>
<line x1="667.70" y1="76.73" x2="669.40" y2="76.73" stroke="#262626" stroke-width="0.8"/>
<text x="672.60" y="80.73" font-size="11.0" text-anchor="start" fill="#262626" font-family="&quot;Liberation Sans&quot;, sans-serif">20</text>
<line x1="667.70" y1="61.80" x2="669.40" y2="61.80" stroke="#262626" stroke-width="0.8"/>
<text x="672.60" y="65.80" font-size="11.0" text-anchor="start" fill="#262626" font-family="&quot;Liberation Sans&quot;, sans-serif">22</text>
<text x="661.30" y="43.60" font-size="10.9" text-anchor="middle" fill="#000" font-family="&quot;Liberation Sans&quot;, sans-serif">Average</text>
<text x="661.30" y="56.20" font-size="10.9" text-anchor="middle" fill="#000" font-family="&quot;Liberation Sans&quot;, sans-serif">session #</text>
<line x1="48.70" y1="334.40" x2="48.70" y2="478.80" stroke="#262626" stroke-width="1.1"/>
<line x1="48.20" y1="478.30" x2="105.20" y2="478.30" stroke="#262626" stroke-width="1.1"/>
<line x1="48.70" y1="473.02" x2="50.10" y2="473.02" stroke="#262626" stroke-width="0.7"/>
<line x1="48.70" y1="467.82" x2="50.10" y2="467.82" stroke="#262626" stroke-width="0.7"/>
<line x1="48.70" y1="464.14" x2="50.10" y2="464.14" stroke="#262626" stroke-width="0.7"/>
<line x1="48.70" y1="461.28" x2="50.10" y2="461.28" stroke="#262626" stroke-width="0.7"/>
<line x1="48.70" y1="458.94" x2="50.10" y2="458.94" stroke="#262626" stroke-width="0.7"/>
<line x1="48.70" y1="456.97" x2="50.10" y2="456.97" stroke="#262626" stroke-width="0.7"/>
<line x1="48.70" y1="455.26" x2="50.10" y2="455.26" stroke="#262626" stroke-width="0.7"/>
<line x1="48.70" y1="453.75" x2="50.10" y2="453.75" stroke="#262626" stroke-width="0.7"/>
<line x1="48.70" y1="452.40" x2="51.30" y2="452.40" stroke="#262626" stroke-width="1.0"/>
<line x1="48.70" y1="443.52" x2="50.10" y2="443.52" stroke="#262626" stroke-width="0.7"/>
<line x1="48.70" y1="438.32" x2="50.10" y2="438.32" stroke="#262626" stroke-width="0.7"/>
<line x1="48.70" y1="434.64" x2="50.10" y2="434.64" stroke="#262626" stroke-width="0.7"/>
<line x1="48.70" y1="431.78" x2="50.10" y2="431.78" stroke="#262626" stroke-width="0.7"/>
<line x1="48.70" y1="429.44" x2="50.10" y2="429.44" stroke="#262626" stroke-width="0.7"/>
<line x1="48.70" y1="427.47" x2="50.10" y2="427.47" stroke="#262626" stroke-width="0.7"/>
<line x1="48.70" y1="425.76" x2="50.10" y2="425.76" stroke="#262626" stroke-width="0.7"/>
<line x1="48.70" y1="424.25" x2="50.10" y2="424.25" stroke="#262626" stroke-width="0.7"/>
<line x1="48.70" y1="422.90" x2="51.30" y2="422.90" stroke="#262626" stroke-width="1.0"/>
<line x1="48.70" y1="414.02" x2="50.10" y2="414.02" stroke="#262626" stroke-width="0.7"/>
<line x1="48.70" y1="408.82" x2="50.10" y2="408.82" stroke="#262626" stroke-width="0.7"/>
<line x1="48.70" y1="405.14" x2="50.10" y2="405.14" stroke="#262626" stroke-width="0.7"/>
<line x1="48.70" y1="402.28" x2="50.10" y2="402.28" stroke="#262626" stroke-width="0.7"/>
<line x1="48.70" y1="399.94" x2="50.10" y2="399.94" stroke="#262626" stroke-width="0.7"/>
<line x1="48.70" y1="397.97" x2="50.10" y2="397.97" stroke="#262626" stroke-width="0.7"/>
<line x1="48.70" y1="396.26" x2="50.10" y2="396.26" stroke="#262626" stroke-width="0.7"/>
<line x1="48.70" y1="394.75" x2="50.10" y2="394.75" stroke="#262626" stroke-width="0.7"/>
<line x1="48.70" y1="393.40" x2="51.30" y2="393.40" stroke="#262626" stroke-width="1.0"/>
<line x1="48.70" y1="384.52" x2="50.10" y2="384.52" stroke="#262626" stroke-width="0.7"/>
<line x1="48.70" y1="379.32" x2="50.10" y2="379.32" stroke="#262626" stroke-width="0.7"/>
<line x1="48.70" y1="375.64" x2="50.10" y2="375.64" stroke="#262626" stroke-width="0.7"/>
<line x1="48.70" y1="372.78" x2="50.10" y2="372.78" stroke="#262626" stroke-width="0.7"/>
<line x1="48.70" y1="370.44" x2="50.10" y2="370.44" stroke="#262626" stroke-width="0.7"/>
<line x1="48.70" y1="368.47" x2="50.10" y2="368.47" stroke="#262626" stroke-width="0.7"/>
<line x1="48.70" y1="366.76" x2="50.10" y2="366.76" stroke="#262626" stroke-width="0.7"/>
<line x1="48.70" y1="365.25" x2="50.10" y2="365.25" stroke="#262626" stroke-width="0.7"/>
<line x1="48.70" y1="363.90" x2="51.30" y2="363.90" stroke="#262626" stroke-width="1.0"/>
<line x1="48.70" y1="355.02" x2="50.10" y2="355.02" stroke="#262626" stroke-width="0.7"/>
<line x1="48.70" y1="349.82" x2="50.10" y2="349.82" stroke="#262626" stroke-width="0.7"/>
<line x1="48.70" y1="346.14" x2="50.10" y2="346.14" stroke="#262626" stroke-width="0.7"/>
<line x1="48.70" y1="343.28" x2="50.10" y2="343.28" stroke="#262626" stroke-width="0.7"/>
<line x1="48.70" y1="340.94" x2="50.10" y2="340.94" stroke="#262626" stroke-width="0.7"/>
<line x1="48.70" y1="338.97" x2="50.10" y2="338.97" stroke="#262626" stroke-width="0.7"/>
<line x1="48.70" y1="337.26" x2="50.10" y2="337.26" stroke="#262626" stroke-width="0.7"/>
<line x1="48.70" y1="335.75" x2="50.10" y2="335.75" stroke="#262626" stroke-width="0.7"/>
<line x1="48.70" y1="334.40" x2="51.30" y2="334.40" stroke="#262626" stroke-width="1.0"/>
<text x="45.10" y="337.80" font-size="9.7" text-anchor="end" fill="#262626" font-family="&quot;Liberation Sans&quot;, sans-serif">100</text>
<text x="45.10" y="367.30" font-size="9.7" text-anchor="end" fill="#262626" font-family="&quot;Liberation Sans&quot;, sans-serif">10</text>
<text x="45.10" y="396.80" font-size="9.7" text-anchor="end" fill="#262626" font-family="&quot;Liberation Sans&quot;, sans-serif">1</text>
<text x="45.10" y="426.30" font-size="9.7" text-anchor="end" fill="#262626" font-family="&quot;Liberation Sans&quot;, sans-serif">0.1</text>
<text x="45.10" y="455.80" font-size="9.7" text-anchor="end" fill="#262626" font-family="&quot;Liberation Sans&quot;, sans-serif">0.01</text>
<line x1="53.00" y1="478.30" x2="53.00" y2="475.70" stroke="#262626" stroke-width="1.0"/>
<text x="53.00" y="490.30" font-size="10.6" text-anchor="middle" fill="#262626" font-family="&quot;Liberation Sans&quot;, sans-serif">H</text>
<line x1="53.00" y1="334.80" x2="53.00" y2="436.50" stroke="#bdbdbd" stroke-width="0.9"/>
<line x1="53.00" y1="361.40" x2="53.00" y2="387.00" stroke="#000" stroke-width="2.5"/>
<circle cx="53.00" cy="374.60" r="1.75" fill="#fff" stroke="#333" stroke-width="0.7"/><circle cx="53.00" cy="374.60" r="0.55" fill="#222"/>
<line x1="62.50" y1="478.30" x2="62.50" y2="475.70" stroke="#262626" stroke-width="1.0"/>
<text x="62.50" y="490.30" font-size="10.6" text-anchor="middle" fill="#262626" font-family="&quot;Liberation Sans&quot;, sans-serif">I</text>
<line x1="62.50" y1="353.00" x2="62.50" y2="421.00" stroke="#8c8c8c" stroke-width="0.9"/>
<line x1="62.50" y1="368.00" x2="62.50" y2="399.50" stroke="#000" stroke-width="2.5"/>
<circle cx="62.50" cy="375.80" r="1.75" fill="#fff" stroke="#333" stroke-width="0.7"/><circle cx="62.50" cy="375.80" r="0.55" fill="#222"/>
<line x1="72.00" y1="478.30" x2="72.00" y2="475.70" stroke="#262626" stroke-width="1.0"/>
<text x="72.00" y="490.30" font-size="10.6" text-anchor="middle" fill="#262626" font-family="&quot;Liberation Sans&quot;, sans-serif">J</text>
<line x1="72.00" y1="347.00" x2="72.00" y2="478.30" stroke="#bdbdbd" stroke-width="0.9"/>
<line x1="72.00" y1="361.40" x2="72.00" y2="382.70" stroke="#000" stroke-width="2.5"/>
<circle cx="72.00" cy="374.20" r="1.75" fill="#fff" stroke="#333" stroke-width="0.7"/><circle cx="72.00" cy="374.20" r="0.55" fill="#222"/>
<line x1="81.50" y1="478.30" x2="81.50" y2="475.70" stroke="#262626" stroke-width="1.0"/>
<text x="81.50" y="490.30" font-size="10.6" text-anchor="middle" fill="#262626" font-family="&quot;Liberation Sans&quot;, sans-serif">K</text>
<line x1="81.50" y1="347.00" x2="81.50" y2="450.30" stroke="#8c8c8c" stroke-width="0.9"/>
<line x1="81.50" y1="373.80" x2="81.50" y2="394.00" stroke="#000" stroke-width="2.5"/>
<circle cx="81.50" cy="382.10" r="1.75" fill="#fff" stroke="#333" stroke-width="0.7"/><circle cx="81.50" cy="382.10" r="0.55" fill="#222"/>
<line x1="91.00" y1="478.30" x2="91.00" y2="475.70" stroke="#262626" stroke-width="1.0"/>
<text x="91.00" y="490.30" font-size="10.6" text-anchor="middle" fill="#262626" font-family="&quot;Liberation Sans&quot;, sans-serif">L</text>
<line x1="91.00" y1="347.60" x2="91.00" y2="397.50" stroke="#8c8c8c" stroke-width="0.9"/>
<line x1="91.00" y1="360.00" x2="91.00" y2="375.80" stroke="#000" stroke-width="2.5"/>
<circle cx="91.00" cy="364.40" r="1.75" fill="#fff" stroke="#333" stroke-width="0.7"/><circle cx="91.00" cy="364.40" r="0.55" fill="#222"/>
<line x1="100.50" y1="478.30" x2="100.50" y2="475.70" stroke="#262626" stroke-width="1.0"/>
<text x="100.50" y="490.30" font-size="10.6" text-anchor="middle" fill="#262626" font-family="&quot;Liberation Sans&quot;, sans-serif">M</text>
<line x1="100.50" y1="355.00" x2="100.50" y2="428.60" stroke="#8c8c8c" stroke-width="0.9"/>
<line x1="100.50" y1="361.40" x2="100.50" y2="385.00" stroke="#000" stroke-width="2.5"/>
<circle cx="100.50" cy="366.40" r="1.75" fill="#fff" stroke="#333" stroke-width="0.7"/><circle cx="100.50" cy="366.40" r="0.55" fill="#222"/>
<text x="77.20" y="501.40" font-size="10.6" text-anchor="middle" fill="#262626" font-family="&quot;Liberation Sans&quot;, sans-serif">Rat</text>
<text x="23.00" y="405.60" font-size="10.6" text-anchor="middle" fill="#262626" font-family="&quot;Liberation Sans&quot;, sans-serif" transform="rotate(-90 23.00 405.60)">Error score</text>
<path fill="#8a8a8a" d="M204.3 352.6h1.7v1.4h-1.7zM204.9 352.7h1.7v1.4h-1.7zM206.2 352.3h1.7v1.4h-1.7zM203.2 352.9h1.7v1.4h-1.7zM204.4 352.4h1.7v1.4h-1.7zM207.9 352.6h1.7v1.4h-1.7zM207.2 352.6h1.7v1.4h-1.7zM206.2 352.3h1.7v1.4h-1.7zM206.2 352.9h1.7v1.4h-1.7zM205.7 352.8h1.7v1.4h-1.7zM206.4 352.3h1.7v1.4h-1.7zM206.8 352.7h1.7v1.4h-1.7zM204.6 352.2h1.7v1.4h-1.7zM207.3 360.3h1.7v1.4h-1.7zM206.6 360.6h1.7v1.4h-1.7zM206.6 360.6h1.7v1.4h-1.7zM205.0 360.5h1.7v1.4h-1.7zM205.3 360.6h1.7v1.4h-1.7zM207.4 360.0h1.7v1.4h-1.7zM203.8 360.1h1.7v1.4h-1.7zM207.8 360.2h1.7v1.4h-1.7zM206.2 360.1h1.7v1.4h-1.7zM205.6 360.2h1.7v1.4h-1.7zM204.8 360.4h1.7v1.4h-1.7zM206.0 366.0h1.7v1.4h-1.7zM206.5 366.1h1.7v1.4h-1.7zM207.3 366.3h1.7v1.4h-1.7zM206.4 363.8h1.7v1.4h-1.7zM207.4 366.2h1.7v1.4h-1.7zM207.5 370.7h1.7v1.4h-1.7zM206.6 370.4h1.7v1.4h-1.7zM207.1 370.7h1.7v1.4h-1.7zM204.5 370.3h1.7v1.4h-1.7zM207.2 371.0h1.7v1.4h-1.7zM203.6 370.8h1.7v1.4h-1.7zM205.1 370.3h1.7v1.4h-1.7zM204.6 370.8h1.7v1.4h-1.7zM207.4 374.4h1.7v1.4h-1.7zM206.1 374.4h1.7v1.4h-1.7zM206.6 375.4h1.7v1.4h-1.7zM207.5 377.5h1.7v1.4h-1.7zM205.6 377.6h1.7v1.4h-1.7zM204.6 374.6h1.7v1.4h-1.7zM206.0 374.4h1.7v1.4h-1.7zM204.0 375.6h1.7v1.4h-1.7zM206.1 374.8h1.7v1.4h-1.7zM203.3 377.2h1.7v1.4h-1.7zM204.6 377.5h1.7v1.4h-1.7zM207.5 375.5h1.7v1.4h-1.7zM205.4 376.0h1.7v1.4h-1.7zM206.3 376.3h1.7v1.4h-1.7zM205.8 376.3h1.7v1.4h-1.7zM207.8 376.0h1.7v1.4h-1.7zM205.2 376.7h1.7v1.4h-1.7zM204.2 375.3h1.7v1.4h-1.7zM207.9 376.0h1.7v1.4h-1.7zM205.8 374.3h1.7v1.4h-1.7zM205.1 376.2h1.7v1.4h-1.7zM203.2 376.3h1.7v1.4h-1.7zM206.2 374.5h1.7v1.4h-1.7zM206.2 375.8h1.7v1.4h-1.7zM206.4 381.4h1.7v1.4h-1.7zM206.5 381.7h1.7v1.4h-1.7zM203.3 381.1h1.7v1.4h-1.7zM206.4 381.9h1.7v1.4h-1.7zM204.4 381.5h1.7v1.4h-1.7zM206.0 381.4h1.7v1.4h-1.7zM204.9 381.4h1.7v1.4h-1.7zM204.9 381.6h1.7v1.4h-1.7zM204.6 381.4h1.7v1.4h-1.7zM206.9 381.1h1.7v1.4h-1.7zM205.9 381.7h1.7v1.4h-1.7zM204.6 391.0h1.7v1.4h-1.7zM207.1 391.0h1.7v1.4h-1.7zM204.0 391.6h1.7v1.4h-1.7zM206.5 390.6h1.7v1.4h-1.7zM204.7 391.3h1.7v1.4h-1.7zM207.2 391.6h1.7v1.4h-1.7zM207.3 390.8h1.7v1.4h-1.7zM204.7 392.3h1.7v1.4h-1.7zM207.5 391.7h1.7v1.4h-1.7zM204.2 390.7h1.7v1.4h-1.7zM205.7 390.9h1.7v1.4h-1.7zM207.1 392.8h1.7v1.4h-1.7zM204.0 391.1h1.7v1.4h-1.7zM207.1 392.2h1.7v1.4h-1.7zM207.1 391.3h1.7v1.4h-1.7zM203.7 391.2h1.7v1.4h-1.7zM207.0 391.1h1.7v1.4h-1.7zM204.8 391.6h1.7v1.4h-1.7zM205.2 396.8h1.7v1.4h-1.7zM207.6 396.6h1.7v1.4h-1.7zM203.2 397.3h1.7v1.4h-1.7zM207.4 397.3h1.7v1.4h-1.7zM205.2 397.3h1.7v1.4h-1.7zM207.6 396.7h1.7v1.4h-1.7zM206.7 397.2h1.7v1.4h-1.7zM206.3 396.9h1.7v1.4h-1.7zM204.5 396.8h1.7v1.4h-1.7zM204.2 396.6h1.7v1.4h-1.7zM206.0 396.7h1.7v1.4h-1.7zM216.9 352.2h1.7v1.4h-1.7zM217.4 352.8h1.7v1.4h-1.7zM217.5 352.9h1.7v1.4h-1.7zM217.3 352.7h1.7v1.4h-1.7zM213.1 352.8h1.7v1.4h-1.7zM213.8 352.4h1.7v1.4h-1.7zM216.2 352.6h1.7v1.4h-1.7zM215.0 353.0h1.7v1.4h-1.7zM216.0 352.5h1.7v1.4h-1.7zM214.2 352.9h1.7v1.4h-1.7zM215.3 352.8h1.7v1.4h-1.7zM214.7 355.0h1.7v1.4h-1.7zM215.6 355.5h1.7v1.4h-1.7zM213.8 355.4h1.7v1.4h-1.7zM217.4 355.4h1.7v1.4h-1.7zM217.0 354.8h1.7v1.4h-1.7zM216.0 355.5h1.7v1.4h-1.7zM213.3 362.7h1.7v1.4h-1.7zM214.3 362.9h1.7v1.4h-1.7zM215.1 362.9h1.7v1.4h-1.7zM216.7 362.5h1.7v1.4h-1.7zM213.3 362.6h1.7v1.4h-1.7zM213.6 362.6h1.7v1.4h-1.7zM217.7 363.2h1.7v1.4h-1.7zM213.4 362.9h1.7v1.4h-1.7zM214.5 362.8h1.7v1.4h-1.7zM214.7 363.0h1.7v1.4h-1.7zM215.8 362.8h1.7v1.4h-1.7zM213.9 367.2h1.7v1.4h-1.7zM213.6 367.3h1.7v1.4h-1.7zM216.5 367.2h1.7v1.4h-1.7zM213.4 367.0h1.7v1.4h-1.7zM214.8 367.4h1.7v1.4h-1.7zM216.8 367.2h1.7v1.4h-1.7zM216.9 372.0h1.7v1.4h-1.7zM215.1 371.8h1.7v1.4h-1.7zM215.4 372.1h1.7v1.4h-1.7zM215.0 372.1h1.7v1.4h-1.7zM215.2 371.7h1.7v1.4h-1.7zM215.6 372.1h1.7v1.4h-1.7zM213.3 377.1h1.7v1.4h-1.7zM215.0 378.5h1.7v1.4h-1.7zM217.6 376.9h1.7v1.4h-1.7zM217.4 378.2h1.7v1.4h-1.7zM214.2 377.2h1.7v1.4h-1.7zM213.5 378.3h1.7v1.4h-1.7zM216.2 378.5h1.7v1.4h-1.7zM216.9 377.8h1.7v1.4h-1.7zM216.6 377.5h1.7v1.4h-1.7zM213.4 377.6h1.7v1.4h-1.7zM212.9 376.2h1.7v1.4h-1.7zM216.8 375.8h1.7v1.4h-1.7zM213.4 376.0h1.7v1.4h-1.7zM217.3 376.3h1.7v1.4h-1.7zM213.0 378.4h1.7v1.4h-1.7zM213.5 378.4h1.7v1.4h-1.7zM216.3 378.4h1.7v1.4h-1.7zM217.7 377.6h1.7v1.4h-1.7zM216.9 375.8h1.7v1.4h-1.7zM216.8 377.3h1.7v1.4h-1.7zM216.5 376.0h1.7v1.4h-1.7zM216.7 378.7h1.7v1.4h-1.7zM213.2 376.7h1.7v1.4h-1.7zM215.7 381.8h1.7v1.4h-1.7zM214.2 381.2h1.7v1.4h-1.7zM214.2 381.6h1.7v1.4h-1.7zM216.6 381.4h1.7v1.4h-1.7zM214.8 381.4h1.7v1.4h-1.7zM214.7 381.4h1.7v1.4h-1.7zM213.4 381.5h1.7v1.4h-1.7zM217.7 381.4h1.7v1.4h-1.7zM216.6 381.2h1.7v1.4h-1.7zM216.3 381.7h1.7v1.4h-1.7zM216.3 381.5h1.7v1.4h-1.7zM215.3 392.2h1.7v1.4h-1.7zM217.4 390.7h1.7v1.4h-1.7zM213.4 392.5h1.7v1.4h-1.7zM217.5 391.9h1.7v1.4h-1.7zM215.1 392.5h1.7v1.4h-1.7zM213.9 391.1h1.7v1.4h-1.7zM213.9 392.1h1.7v1.4h-1.7zM214.5 391.0h1.7v1.4h-1.7zM216.4 393.2h1.7v1.4h-1.7zM214.4 392.4h1.7v1.4h-1.7zM215.0 392.9h1.7v1.4h-1.7zM215.8 391.1h1.7v1.4h-1.7zM214.0 390.4h1.7v1.4h-1.7zM215.3 391.4h1.7v1.4h-1.7zM213.8 391.4h1.7v1.4h-1.7zM214.5 392.6h1.7v1.4h-1.7zM213.6 393.3h1.7v1.4h-1.7zM215.3 398.9h1.7v1.4h-1.7zM215.3 399.1h1.7v1.4h-1.7zM217.0 398.8h1.7v1.4h-1.7zM215.3 399.0h1.7v1.4h-1.7zM227.1 356.9h1.7v1.4h-1.7zM226.5 361.9h1.7v1.4h-1.7zM225.1 355.4h1.7v1.4h-1.7zM224.0 359.8h1.7v1.4h-1.7zM226.2 361.9h1.7v1.4h-1.7zM227.1 355.5h1.7v1.4h-1.7zM223.7 355.6h1.7v1.4h-1.7zM223.7 359.6h1.7v1.4h-1.7zM227.1 361.4h1.7v1.4h-1.7zM224.1 361.1h1.7v1.4h-1.7zM224.4 357.1h1.7v1.4h-1.7zM226.4 354.1h1.7v1.4h-1.7zM223.3 360.8h1.7v1.4h-1.7zM224.2 356.5h1.7v1.4h-1.7zM225.7 359.4h1.7v1.4h-1.7zM222.8 356.3h1.7v1.4h-1.7zM225.0 357.7h1.7v1.4h-1.7zM223.8 358.6h1.7v1.4h-1.7zM227.6 356.8h1.7v1.4h-1.7zM225.5 354.4h1.7v1.4h-1.7zM224.2 359.3h1.7v1.4h-1.7zM223.4 361.3h1.7v1.4h-1.7zM227.3 354.2h1.7v1.4h-1.7zM227.5 356.7h1.7v1.4h-1.7zM226.7 360.1h1.7v1.4h-1.7zM224.3 359.4h1.7v1.4h-1.7zM226.1 360.6h1.7v1.4h-1.7zM224.1 360.1h1.7v1.4h-1.7zM227.6 359.4h1.7v1.4h-1.7zM225.5 354.3h1.7v1.4h-1.7zM225.3 356.5h1.7v1.4h-1.7zM226.4 359.4h1.7v1.4h-1.7zM225.6 354.9h1.7v1.4h-1.7zM226.0 359.0h1.7v1.4h-1.7zM223.7 361.3h1.7v1.4h-1.7zM226.1 354.4h1.7v1.4h-1.7zM227.4 354.6h1.7v1.4h-1.7zM224.4 359.8h1.7v1.4h-1.7zM225.8 358.3h1.7v1.4h-1.7zM226.0 357.4h1.7v1.4h-1.7zM224.4 354.9h1.7v1.4h-1.7zM223.1 359.7h1.7v1.4h-1.7zM226.6 358.2h1.7v1.4h-1.7zM226.5 356.5h1.7v1.4h-1.7zM224.1 356.8h1.7v1.4h-1.7zM227.2 353.7h1.7v1.4h-1.7zM225.3 355.5h1.7v1.4h-1.7zM226.6 356.5h1.7v1.4h-1.7zM224.5 356.9h1.7v1.4h-1.7zM225.5 360.2h1.7v1.4h-1.7zM224.6 379.7h1.7v1.4h-1.7zM223.4 373.0h1.7v1.4h-1.7zM223.3 371.2h1.7v1.4h-1.7zM226.7 378.3h1.7v1.4h-1.7zM223.7 372.1h1.7v1.4h-1.7zM224.9 378.5h1.7v1.4h-1.7zM226.9 378.6h1.7v1.4h-1.7zM225.7 371.6h1.7v1.4h-1.7zM224.8 372.1h1.7v1.4h-1.7zM225.4 376.5h1.7v1.4h-1.7zM223.8 372.8h1.7v1.4h-1.7zM226.7 370.2h1.7v1.4h-1.7zM226.8 380.2h1.7v1.4h-1.7zM227.5 374.3h1.7v1.4h-1.7zM225.6 376.7h1.7v1.4h-1.7zM226.0 381.2h1.7v1.4h-1.7zM226.2 373.4h1.7v1.4h-1.7zM227.1 375.5h1.7v1.4h-1.7zM225.8 378.3h1.7v1.4h-1.7zM222.8 378.8h1.7v1.4h-1.7zM226.1 375.6h1.7v1.4h-1.7zM225.4 375.2h1.7v1.4h-1.7zM223.8 376.0h1.7v1.4h-1.7zM223.0 375.7h1.7v1.4h-1.7zM226.0 375.1h1.7v1.4h-1.7zM225.6 381.0h1.7v1.4h-1.7zM227.3 371.5h1.7v1.4h-1.7zM226.8 377.1h1.7v1.4h-1.7zM223.0 374.1h1.7v1.4h-1.7zM224.0 370.8h1.7v1.4h-1.7zM225.5 380.7h1.7v1.4h-1.7zM224.4 380.0h1.7v1.4h-1.7zM226.3 371.5h1.7v1.4h-1.7zM227.1 376.9h1.7v1.4h-1.7zM227.4 378.2h1.7v1.4h-1.7zM226.5 373.9h1.7v1.4h-1.7zM226.8 380.7h1.7v1.4h-1.7zM227.1 375.0h1.7v1.4h-1.7zM226.6 375.5h1.7v1.4h-1.7zM223.3 370.4h1.7v1.4h-1.7zM223.2 372.2h1.7v1.4h-1.7zM223.6 375.7h1.7v1.4h-1.7zM226.3 376.1h1.7v1.4h-1.7zM224.9 377.4h1.7v1.4h-1.7zM224.3 375.3h1.7v1.4h-1.7zM226.6 374.6h1.7v1.4h-1.7zM223.7 380.3h1.7v1.4h-1.7zM226.4 374.2h1.7v1.4h-1.7zM224.6 376.0h1.7v1.4h-1.7zM225.8 372.5h1.7v1.4h-1.7zM222.8 372.3h1.7v1.4h-1.7zM226.7 371.6h1.7v1.4h-1.7zM225.1 372.2h1.7v1.4h-1.7zM223.8 371.9h1.7v1.4h-1.7zM224.8 371.9h1.7v1.4h-1.7zM222.9 371.2h1.7v1.4h-1.7zM223.6 375.6h1.7v1.4h-1.7zM223.1 370.2h1.7v1.4h-1.7zM225.0 374.6h1.7v1.4h-1.7zM226.3 370.5h1.7v1.4h-1.7zM224.8 374.5h1.7v1.4h-1.7zM222.9 381.1h1.7v1.4h-1.7zM223.9 371.0h1.7v1.4h-1.7zM225.2 371.8h1.7v1.4h-1.7zM225.9 391.3h1.7v1.4h-1.7zM223.4 390.5h1.7v1.4h-1.7zM226.4 391.1h1.7v1.4h-1.7zM226.7 391.7h1.7v1.4h-1.7zM227.5 391.2h1.7v1.4h-1.7zM224.0 391.1h1.7v1.4h-1.7zM226.9 392.2h1.7v1.4h-1.7zM224.5 390.6h1.7v1.4h-1.7zM226.2 393.2h1.7v1.4h-1.7zM225.8 390.3h1.7v1.4h-1.7zM222.9 390.6h1.7v1.4h-1.7zM223.6 390.4h1.7v1.4h-1.7zM223.1 392.3h1.7v1.4h-1.7zM227.3 390.9h1.7v1.4h-1.7zM227.7 391.7h1.7v1.4h-1.7zM226.8 393.1h1.7v1.4h-1.7zM227.5 390.4h1.7v1.4h-1.7zM224.3 392.1h1.7v1.4h-1.7zM227.5 390.6h1.7v1.4h-1.7zM224.3 401.0h1.7v1.4h-1.7zM223.4 400.1h1.7v1.4h-1.7zM224.5 400.7h1.7v1.4h-1.7zM227.4 399.6h1.7v1.4h-1.7zM226.5 400.8h1.7v1.4h-1.7zM227.0 400.4h1.7v1.4h-1.7zM227.4 400.0h1.7v1.4h-1.7zM224.9 399.8h1.7v1.4h-1.7zM226.7 400.3h1.7v1.4h-1.7zM224.1 399.6h1.7v1.4h-1.7zM226.4 400.5h1.7v1.4h-1.7zM226.3 400.1h1.7v1.4h-1.7zM225.2 403.0h1.7v1.4h-1.7zM226.3 402.9h1.7v1.4h-1.7zM225.1 403.5h1.7v1.4h-1.7zM226.1 403.0h1.7v1.4h-1.7zM233.8 363.4h1.7v1.4h-1.7zM235.9 363.7h1.7v1.4h-1.7zM237.0 359.8h1.7v1.4h-1.7zM237.1 362.4h1.7v1.4h-1.7zM234.3 359.1h1.7v1.4h-1.7zM233.0 359.4h1.7v1.4h-1.7zM237.4 356.7h1.7v1.4h-1.7zM235.5 356.8h1.7v1.4h-1.7zM233.1 361.6h1.7v1.4h-1.7zM233.9 356.2h1.7v1.4h-1.7zM233.4 361.6h1.7v1.4h-1.7zM235.6 355.9h1.7v1.4h-1.7zM233.8 364.5h1.7v1.4h-1.7zM233.8 360.9h1.7v1.4h-1.7zM234.8 362.8h1.7v1.4h-1.7zM235.7 362.9h1.7v1.4h-1.7zM235.3 357.5h1.7v1.4h-1.7zM233.5 356.5h1.7v1.4h-1.7zM236.8 356.8h1.7v1.4h-1.7zM232.8 364.5h1.7v1.4h-1.7zM233.7 363.8h1.7v1.4h-1.7zM233.1 360.0h1.7v1.4h-1.7zM233.8 363.3h1.7v1.4h-1.7zM235.7 361.6h1.7v1.4h-1.7zM236.5 363.6h1.7v1.4h-1.7zM234.4 361.2h1.7v1.4h-1.7zM234.9 356.8h1.7v1.4h-1.7zM236.8 361.1h1.7v1.4h-1.7zM236.7 357.7h1.7v1.4h-1.7zM235.4 360.0h1.7v1.4h-1.7zM236.3 356.5h1.7v1.4h-1.7zM234.4 360.2h1.7v1.4h-1.7zM233.0 360.8h1.7v1.4h-1.7zM236.3 359.6h1.7v1.4h-1.7zM235.9 361.3h1.7v1.4h-1.7zM233.7 359.0h1.7v1.4h-1.7zM237.6 358.8h1.7v1.4h-1.7zM234.8 356.6h1.7v1.4h-1.7zM233.7 357.3h1.7v1.4h-1.7zM237.3 362.3h1.7v1.4h-1.7zM237.0 364.7h1.7v1.4h-1.7zM235.7 364.2h1.7v1.4h-1.7zM235.3 359.6h1.7v1.4h-1.7zM237.4 363.9h1.7v1.4h-1.7zM237.4 360.2h1.7v1.4h-1.7zM236.5 359.5h1.7v1.4h-1.7zM237.6 364.1h1.7v1.4h-1.7zM234.1 364.2h1.7v1.4h-1.7zM233.6 356.7h1.7v1.4h-1.7zM236.3 358.4h1.7v1.4h-1.7zM235.3 361.6h1.7v1.4h-1.7zM232.9 362.5h1.7v1.4h-1.7zM234.0 374.4h1.7v1.4h-1.7zM234.4 377.5h1.7v1.4h-1.7zM236.4 372.9h1.7v1.4h-1.7zM233.2 373.0h1.7v1.4h-1.7zM234.7 370.7h1.7v1.4h-1.7zM233.4 377.8h1.7v1.4h-1.7zM236.2 380.0h1.7v1.4h-1.7zM237.6 378.9h1.7v1.4h-1.7zM234.5 371.6h1.7v1.4h-1.7zM234.2 374.7h1.7v1.4h-1.7zM235.3 375.5h1.7v1.4h-1.7zM234.5 378.7h1.7v1.4h-1.7zM234.1 374.7h1.7v1.4h-1.7zM237.1 378.2h1.7v1.4h-1.7zM234.1 372.4h1.7v1.4h-1.7zM236.7 370.0h1.7v1.4h-1.7zM233.3 375.4h1.7v1.4h-1.7zM235.3 371.6h1.7v1.4h-1.7zM232.9 372.0h1.7v1.4h-1.7zM236.5 374.7h1.7v1.4h-1.7zM237.6 378.0h1.7v1.4h-1.7zM237.6 370.3h1.7v1.4h-1.7zM233.6 370.0h1.7v1.4h-1.7zM234.8 373.4h1.7v1.4h-1.7zM232.9 375.5h1.7v1.4h-1.7zM233.1 373.1h1.7v1.4h-1.7zM233.9 378.2h1.7v1.4h-1.7zM234.8 372.6h1.7v1.4h-1.7zM232.9 374.3h1.7v1.4h-1.7zM235.8 376.9h1.7v1.4h-1.7zM237.2 378.2h1.7v1.4h-1.7zM233.9 371.3h1.7v1.4h-1.7zM236.5 378.0h1.7v1.4h-1.7zM235.2 378.5h1.7v1.4h-1.7zM235.4 372.8h1.7v1.4h-1.7zM233.5 370.1h1.7v1.4h-1.7zM235.9 379.1h1.7v1.4h-1.7zM237.2 374.7h1.7v1.4h-1.7zM236.0 379.5h1.7v1.4h-1.7zM236.7 376.1h1.7v1.4h-1.7zM234.7 375.2h1.7v1.4h-1.7zM233.5 371.8h1.7v1.4h-1.7zM236.1 380.1h1.7v1.4h-1.7zM235.4 374.1h1.7v1.4h-1.7zM234.4 374.6h1.7v1.4h-1.7zM236.7 374.6h1.7v1.4h-1.7zM237.5 371.5h1.7v1.4h-1.7zM234.2 375.3h1.7v1.4h-1.7zM234.7 378.7h1.7v1.4h-1.7zM236.8 379.5h1.7v1.4h-1.7zM235.7 370.2h1.7v1.4h-1.7zM235.5 375.6h1.7v1.4h-1.7zM235.1 372.8h1.7v1.4h-1.7zM236.2 379.3h1.7v1.4h-1.7zM233.2 376.8h1.7v1.4h-1.7zM234.5 375.2h1.7v1.4h-1.7zM237.1 379.8h1.7v1.4h-1.7zM235.9 371.9h1.7v1.4h-1.7zM237.3 371.8h1.7v1.4h-1.7zM234.6 392.4h1.7v1.4h-1.7zM234.2 390.3h1.7v1.4h-1.7zM237.4 392.8h1.7v1.4h-1.7zM234.2 390.8h1.7v1.4h-1.7zM234.1 389.8h1.7v1.4h-1.7zM233.9 392.9h1.7v1.4h-1.7zM233.1 390.2h1.7v1.4h-1.7zM233.7 389.6h1.7v1.4h-1.7zM235.3 392.0h1.7v1.4h-1.7zM236.9 391.6h1.7v1.4h-1.7zM236.7 389.3h1.7v1.4h-1.7zM234.1 392.9h1.7v1.4h-1.7zM233.0 390.3h1.7v1.4h-1.7zM235.1 390.3h1.7v1.4h-1.7zM235.4 389.5h1.7v1.4h-1.7zM233.8 392.8h1.7v1.4h-1.7zM233.4 392.7h1.7v1.4h-1.7zM233.5 393.0h1.7v1.4h-1.7zM236.0 402.7h1.7v1.4h-1.7zM233.4 402.2h1.7v1.4h-1.7zM236.4 402.3h1.7v1.4h-1.7zM233.7 402.9h1.7v1.4h-1.7zM237.0 402.2h1.7v1.4h-1.7zM237.4 402.6h1.7v1.4h-1.7zM234.6 402.3h1.7v1.4h-1.7zM234.6 403.0h1.7v1.4h-1.7zM243.9 361.5h1.7v1.4h-1.7zM243.3 361.4h1.7v1.4h-1.7zM244.3 380.7h1.7v1.4h-1.7zM242.9 363.0h1.7v1.4h-1.7zM247.2 382.7h1.7v1.4h-1.7zM247.4 364.3h1.7v1.4h-1.7zM244.3 381.6h1.7v1.4h-1.7zM245.0 375.5h1.7v1.4h-1.7zM244.1 358.8h1.7v1.4h-1.7zM244.3 376.6h1.7v1.4h-1.7zM246.4 372.2h1.7v1.4h-1.7zM244.9 371.5h1.7v1.4h-1.7zM244.7 371.4h1.7v1.4h-1.7zM246.7 363.2h1.7v1.4h-1.7zM245.5 381.2h1.7v1.4h-1.7zM246.8 362.7h1.7v1.4h-1.7zM247.3 378.9h1.7v1.4h-1.7zM243.4 364.8h1.7v1.4h-1.7zM243.5 359.6h1.7v1.4h-1.7zM247.4 368.3h1.7v1.4h-1.7zM246.9 361.1h1.7v1.4h-1.7zM242.6 379.6h1.7v1.4h-1.7zM246.5 382.6h1.7v1.4h-1.7zM246.0 371.2h1.7v1.4h-1.7zM246.4 360.6h1.7v1.4h-1.7zM245.2 369.1h1.7v1.4h-1.7zM243.3 373.0h1.7v1.4h-1.7zM244.1 370.7h1.7v1.4h-1.7zM244.4 366.1h1.7v1.4h-1.7zM244.3 373.0h1.7v1.4h-1.7zM247.4 381.2h1.7v1.4h-1.7zM246.8 378.8h1.7v1.4h-1.7zM244.0 382.2h1.7v1.4h-1.7zM243.9 361.3h1.7v1.4h-1.7zM245.0 376.2h1.7v1.4h-1.7zM244.2 374.1h1.7v1.4h-1.7zM243.9 382.0h1.7v1.4h-1.7zM244.8 370.0h1.7v1.4h-1.7zM245.2 379.7h1.7v1.4h-1.7zM247.5 371.2h1.7v1.4h-1.7zM244.7 373.4h1.7v1.4h-1.7zM242.9 368.7h1.7v1.4h-1.7zM246.8 377.3h1.7v1.4h-1.7zM242.8 379.2h1.7v1.4h-1.7zM244.5 382.3h1.7v1.4h-1.7zM244.4 363.6h1.7v1.4h-1.7zM245.3 380.0h1.7v1.4h-1.7zM244.7 379.6h1.7v1.4h-1.7zM246.1 367.2h1.7v1.4h-1.7zM244.0 370.7h1.7v1.4h-1.7zM244.5 367.4h1.7v1.4h-1.7zM245.8 379.7h1.7v1.4h-1.7zM245.5 361.9h1.7v1.4h-1.7zM243.6 367.4h1.7v1.4h-1.7zM245.6 361.7h1.7v1.4h-1.7zM242.9 366.2h1.7v1.4h-1.7zM243.9 359.0h1.7v1.4h-1.7zM245.2 380.9h1.7v1.4h-1.7zM245.2 376.4h1.7v1.4h-1.7zM246.7 378.8h1.7v1.4h-1.7zM247.1 369.1h1.7v1.4h-1.7zM245.9 361.3h1.7v1.4h-1.7zM246.9 367.6h1.7v1.4h-1.7zM244.9 380.1h1.7v1.4h-1.7zM244.0 363.0h1.7v1.4h-1.7zM246.6 373.0h1.7v1.4h-1.7zM243.0 359.0h1.7v1.4h-1.7zM244.3 358.5h1.7v1.4h-1.7zM246.7 362.8h1.7v1.4h-1.7zM243.9 367.8h1.7v1.4h-1.7zM245.1 368.9h1.7v1.4h-1.7zM245.7 374.5h1.7v1.4h-1.7zM244.7 360.7h1.7v1.4h-1.7zM247.4 375.2h1.7v1.4h-1.7zM242.9 369.1h1.7v1.4h-1.7zM246.3 382.6h1.7v1.4h-1.7zM242.9 358.5h1.7v1.4h-1.7zM244.9 368.6h1.7v1.4h-1.7zM247.0 378.5h1.7v1.4h-1.7zM244.2 368.6h1.7v1.4h-1.7zM245.4 380.0h1.7v1.4h-1.7zM243.5 367.9h1.7v1.4h-1.7zM243.0 374.0h1.7v1.4h-1.7zM242.7 381.2h1.7v1.4h-1.7zM245.1 372.4h1.7v1.4h-1.7zM243.0 364.0h1.7v1.4h-1.7zM244.9 379.3h1.7v1.4h-1.7zM245.2 365.3h1.7v1.4h-1.7zM247.4 374.5h1.7v1.4h-1.7zM245.2 363.3h1.7v1.4h-1.7zM244.0 380.3h1.7v1.4h-1.7zM243.2 371.3h1.7v1.4h-1.7zM245.6 367.0h1.7v1.4h-1.7zM246.4 380.6h1.7v1.4h-1.7zM246.8 376.4h1.7v1.4h-1.7zM243.5 359.8h1.7v1.4h-1.7zM244.7 365.9h1.7v1.4h-1.7zM243.5 379.6h1.7v1.4h-1.7zM243.6 378.5h1.7v1.4h-1.7zM247.2 361.2h1.7v1.4h-1.7zM247.1 368.0h1.7v1.4h-1.7zM243.6 362.9h1.7v1.4h-1.7zM242.7 370.5h1.7v1.4h-1.7zM244.5 379.2h1.7v1.4h-1.7zM246.7 359.7h1.7v1.4h-1.7zM244.5 367.8h1.7v1.4h-1.7zM243.4 364.4h1.7v1.4h-1.7zM243.8 375.3h1.7v1.4h-1.7zM244.2 361.0h1.7v1.4h-1.7zM243.6 369.1h1.7v1.4h-1.7zM245.4 364.3h1.7v1.4h-1.7zM246.0 363.6h1.7v1.4h-1.7zM245.9 373.2h1.7v1.4h-1.7zM243.4 376.7h1.7v1.4h-1.7zM244.5 371.5h1.7v1.4h-1.7zM245.5 373.7h1.7v1.4h-1.7zM244.7 359.7h1.7v1.4h-1.7zM246.5 379.4h1.7v1.4h-1.7zM245.0 372.5h1.7v1.4h-1.7zM243.9 380.3h1.7v1.4h-1.7zM246.0 363.7h1.7v1.4h-1.7zM246.6 382.5h1.7v1.4h-1.7zM244.3 382.7h1.7v1.4h-1.7zM244.9 362.7h1.7v1.4h-1.7zM246.1 366.6h1.7v1.4h-1.7zM246.2 372.6h1.7v1.4h-1.7zM243.1 371.2h1.7v1.4h-1.7zM246.8 370.0h1.7v1.4h-1.7zM245.2 379.4h1.7v1.4h-1.7zM244.8 370.4h1.7v1.4h-1.7zM245.4 378.5h1.7v1.4h-1.7zM243.5 360.6h1.7v1.4h-1.7zM246.3 371.8h1.7v1.4h-1.7zM244.0 380.2h1.7v1.4h-1.7zM247.0 371.6h1.7v1.4h-1.7zM247.5 378.8h1.7v1.4h-1.7zM246.3 365.4h1.7v1.4h-1.7zM242.6 374.9h1.7v1.4h-1.7zM246.2 366.9h1.7v1.4h-1.7zM244.9 372.2h1.7v1.4h-1.7zM243.8 375.4h1.7v1.4h-1.7zM245.3 367.7h1.7v1.4h-1.7zM243.1 371.9h1.7v1.4h-1.7zM244.1 376.1h1.7v1.4h-1.7zM243.4 368.0h1.7v1.4h-1.7zM243.5 368.3h1.7v1.4h-1.7zM245.4 360.9h1.7v1.4h-1.7zM242.8 370.1h1.7v1.4h-1.7zM243.5 370.7h1.7v1.4h-1.7zM243.4 360.8h1.7v1.4h-1.7zM245.2 380.9h1.7v1.4h-1.7zM246.9 370.9h1.7v1.4h-1.7zM244.5 359.9h1.7v1.4h-1.7zM243.9 366.0h1.7v1.4h-1.7zM247.2 361.2h1.7v1.4h-1.7zM247.3 370.0h1.7v1.4h-1.7zM244.7 364.7h1.7v1.4h-1.7zM247.3 362.9h1.7v1.4h-1.7zM245.4 370.8h1.7v1.4h-1.7zM243.5 390.2h1.7v1.4h-1.7zM247.5 392.5h1.7v1.4h-1.7zM246.2 392.9h1.7v1.4h-1.7zM243.0 392.1h1.7v1.4h-1.7zM246.3 390.2h1.7v1.4h-1.7zM244.8 393.2h1.7v1.4h-1.7zM244.2 392.3h1.7v1.4h-1.7zM243.4 392.0h1.7v1.4h-1.7zM243.9 391.3h1.7v1.4h-1.7zM244.4 392.8h1.7v1.4h-1.7zM246.3 391.3h1.7v1.4h-1.7zM246.0 391.0h1.7v1.4h-1.7zM246.6 390.3h1.7v1.4h-1.7zM245.3 391.6h1.7v1.4h-1.7zM244.5 389.5h1.7v1.4h-1.7zM243.4 391.9h1.7v1.4h-1.7zM243.6 392.3h1.7v1.4h-1.7zM245.1 393.1h1.7v1.4h-1.7zM246.8 392.2h1.7v1.4h-1.7zM244.4 402.9h1.7v1.4h-1.7zM245.3 403.5h1.7v1.4h-1.7zM247.1 403.1h1.7v1.4h-1.7zM243.4 403.7h1.7v1.4h-1.7zM246.2 403.3h1.7v1.4h-1.7zM246.2 403.0h1.7v1.4h-1.7zM245.2 403.4h1.7v1.4h-1.7zM245.5 403.0h1.7v1.4h-1.7zM243.3 403.4h1.7v1.4h-1.7zM246.9 403.0h1.7v1.4h-1.7zM242.7 403.0h1.7v1.4h-1.7zM256.3 368.4h1.7v1.4h-1.7zM254.7 378.8h1.7v1.4h-1.7zM255.5 366.2h1.7v1.4h-1.7zM255.9 361.6h1.7v1.4h-1.7zM253.8 373.7h1.7v1.4h-1.7zM253.3 362.2h1.7v1.4h-1.7zM255.0 367.3h1.7v1.4h-1.7zM257.3 363.4h1.7v1.4h-1.7zM256.4 368.3h1.7v1.4h-1.7zM256.4 369.3h1.7v1.4h-1.7zM255.7 367.3h1.7v1.4h-1.7zM253.5 369.4h1.7v1.4h-1.7zM256.4 367.6h1.7v1.4h-1.7zM253.5 368.8h1.7v1.4h-1.7zM252.9 367.1h1.7v1.4h-1.7zM255.3 371.0h1.7v1.4h-1.7zM255.4 366.6h1.7v1.4h-1.7zM252.5 362.1h1.7v1.4h-1.7zM254.1 365.0h1.7v1.4h-1.7zM255.2 366.2h1.7v1.4h-1.7zM256.2 372.0h1.7v1.4h-1.7zM255.7 374.3h1.7v1.4h-1.7zM255.0 369.0h1.7v1.4h-1.7zM253.9 362.7h1.7v1.4h-1.7zM256.4 370.3h1.7v1.4h-1.7zM252.9 377.6h1.7v1.4h-1.7zM255.3 372.4h1.7v1.4h-1.7zM254.6 363.8h1.7v1.4h-1.7zM257.4 364.5h1.7v1.4h-1.7zM254.2 378.9h1.7v1.4h-1.7zM253.0 370.2h1.7v1.4h-1.7zM254.8 365.9h1.7v1.4h-1.7zM257.0 368.8h1.7v1.4h-1.7zM252.5 369.8h1.7v1.4h-1.7zM252.4 373.9h1.7v1.4h-1.7zM256.7 377.3h1.7v1.4h-1.7zM252.6 373.3h1.7v1.4h-1.7zM253.9 369.8h1.7v1.4h-1.7zM253.9 366.9h1.7v1.4h-1.7zM253.1 372.4h1.7v1.4h-1.7zM252.8 378.3h1.7v1.4h-1.7zM252.6 378.3h1.7v1.4h-1.7zM253.4 363.0h1.7v1.4h-1.7zM256.1 370.8h1.7v1.4h-1.7zM256.2 370.4h1.7v1.4h-1.7zM255.6 363.0h1.7v1.4h-1.7zM255.8 370.5h1.7v1.4h-1.7zM257.2 361.7h1.7v1.4h-1.7zM252.7 373.3h1.7v1.4h-1.7zM257.0 368.9h1.7v1.4h-1.7zM256.0 371.3h1.7v1.4h-1.7zM254.4 369.7h1.7v1.4h-1.7zM255.4 362.1h1.7v1.4h-1.7zM253.9 374.4h1.7v1.4h-1.7zM253.7 369.8h1.7v1.4h-1.7zM253.7 367.8h1.7v1.4h-1.7zM255.7 374.5h1.7v1.4h-1.7zM257.2 369.8h1.7v1.4h-1.7zM253.4 367.4h1.7v1.4h-1.7zM252.7 365.7h1.7v1.4h-1.7zM255.3 372.2h1.7v1.4h-1.7zM253.6 364.7h1.7v1.4h-1.7zM252.9 364.7h1.7v1.4h-1.7zM254.9 366.0h1.7v1.4h-1.7zM256.8 371.4h1.7v1.4h-1.7zM254.1 369.1h1.7v1.4h-1.7zM252.6 374.3h1.7v1.4h-1.7zM256.2 367.9h1.7v1.4h-1.7zM256.0 366.3h1.7v1.4h-1.7zM253.5 365.5h1.7v1.4h-1.7zM253.4 372.1h1.7v1.4h-1.7zM255.6 374.2h1.7v1.4h-1.7zM252.9 374.9h1.7v1.4h-1.7zM254.8 368.1h1.7v1.4h-1.7zM254.9 369.1h1.7v1.4h-1.7zM253.4 368.4h1.7v1.4h-1.7zM255.6 374.0h1.7v1.4h-1.7zM257.0 365.0h1.7v1.4h-1.7zM256.9 375.4h1.7v1.4h-1.7zM256.0 378.5h1.7v1.4h-1.7zM253.1 375.0h1.7v1.4h-1.7zM256.9 363.7h1.7v1.4h-1.7zM255.4 378.0h1.7v1.4h-1.7zM253.9 376.4h1.7v1.4h-1.7zM256.9 369.1h1.7v1.4h-1.7zM253.1 365.3h1.7v1.4h-1.7zM256.5 368.9h1.7v1.4h-1.7zM254.0 369.3h1.7v1.4h-1.7zM257.0 366.0h1.7v1.4h-1.7zM252.5 378.0h1.7v1.4h-1.7zM254.0 368.3h1.7v1.4h-1.7zM257.3 366.5h1.7v1.4h-1.7zM252.8 377.0h1.7v1.4h-1.7zM253.6 365.4h1.7v1.4h-1.7zM257.1 365.6h1.7v1.4h-1.7zM256.9 367.4h1.7v1.4h-1.7zM253.9 365.3h1.7v1.4h-1.7zM255.1 371.3h1.7v1.4h-1.7zM254.4 370.4h1.7v1.4h-1.7zM253.9 376.1h1.7v1.4h-1.7zM257.1 374.6h1.7v1.4h-1.7zM256.5 362.8h1.7v1.4h-1.7zM253.7 365.1h1.7v1.4h-1.7zM253.2 378.4h1.7v1.4h-1.7zM256.9 377.4h1.7v1.4h-1.7zM255.2 363.6h1.7v1.4h-1.7zM254.5 362.6h1.7v1.4h-1.7zM256.9 366.2h1.7v1.4h-1.7zM253.8 378.0h1.7v1.4h-1.7zM253.4 377.6h1.7v1.4h-1.7zM254.0 373.1h1.7v1.4h-1.7zM252.9 377.1h1.7v1.4h-1.7zM254.4 367.6h1.7v1.4h-1.7zM255.7 371.9h1.7v1.4h-1.7zM253.7 363.7h1.7v1.4h-1.7zM255.3 362.0h1.7v1.4h-1.7zM256.8 367.5h1.7v1.4h-1.7zM253.2 367.3h1.7v1.4h-1.7zM253.0 367.1h1.7v1.4h-1.7zM255.1 368.6h1.7v1.4h-1.7zM254.1 366.6h1.7v1.4h-1.7zM254.8 375.1h1.7v1.4h-1.7zM254.6 374.9h1.7v1.4h-1.7zM254.8 363.7h1.7v1.4h-1.7zM253.3 376.3h1.7v1.4h-1.7zM254.8 387.4h1.7v1.4h-1.7zM255.0 391.6h1.7v1.4h-1.7zM254.3 387.3h1.7v1.4h-1.7zM254.2 384.1h1.7v1.4h-1.7zM255.1 388.3h1.7v1.4h-1.7zM254.9 388.1h1.7v1.4h-1.7zM254.8 390.4h1.7v1.4h-1.7zM253.3 392.8h1.7v1.4h-1.7zM253.0 391.8h1.7v1.4h-1.7zM253.3 391.2h1.7v1.4h-1.7zM253.7 384.7h1.7v1.4h-1.7zM255.1 391.6h1.7v1.4h-1.7zM256.6 402.1h1.7v1.4h-1.7zM257.2 401.4h1.7v1.4h-1.7zM254.3 401.5h1.7v1.4h-1.7zM256.1 401.8h1.7v1.4h-1.7zM256.1 402.0h1.7v1.4h-1.7zM257.3 401.9h1.7v1.4h-1.7zM256.7 401.8h1.7v1.4h-1.7zM252.9 402.1h1.7v1.4h-1.7zM262.7 364.1h1.7v1.4h-1.7zM266.4 368.1h1.7v1.4h-1.7zM265.6 362.9h1.7v1.4h-1.7zM263.3 377.0h1.7v1.4h-1.7zM262.5 372.8h1.7v1.4h-1.7zM267.0 366.7h1.7v1.4h-1.7zM265.8 377.5h1.7v1.4h-1.7zM265.4 378.0h1.7v1.4h-1.7zM265.8 362.6h1.7v1.4h-1.7zM263.2 373.3h1.7v1.4h-1.7zM267.1 366.7h1.7v1.4h-1.7zM265.2 364.9h1.7v1.4h-1.7zM266.5 371.4h1.7v1.4h-1.7zM264.9 376.0h1.7v1.4h-1.7zM263.0 377.2h1.7v1.4h-1.7zM266.3 379.9h1.7v1.4h-1.7zM263.7 367.1h1.7v1.4h-1.7zM263.1 380.7h1.7v1.4h-1.7zM264.5 370.3h1.7v1.4h-1.7zM264.9 376.6h1.7v1.4h-1.7zM263.9 369.2h1.7v1.4h-1.7zM266.1 378.2h1.7v1.4h-1.7zM263.7 363.8h1.7v1.4h-1.7zM266.9 377.3h1.7v1.4h-1.7zM265.2 370.6h1.7v1.4h-1.7zM267.1 371.1h1.7v1.4h-1.7zM263.4 364.4h1.7v1.4h-1.7zM264.0 374.6h1.7v1.4h-1.7zM264.1 381.7h1.7v1.4h-1.7zM265.5 371.7h1.7v1.4h-1.7zM265.6 374.6h1.7v1.4h-1.7zM265.4 372.5h1.7v1.4h-1.7zM264.9 372.4h1.7v1.4h-1.7zM266.4 366.2h1.7v1.4h-1.7zM266.2 368.4h1.7v1.4h-1.7zM266.5 363.8h1.7v1.4h-1.7zM264.7 371.4h1.7v1.4h-1.7zM265.8 366.4h1.7v1.4h-1.7zM263.6 365.0h1.7v1.4h-1.7zM265.1 374.1h1.7v1.4h-1.7zM262.3 365.9h1.7v1.4h-1.7zM263.3 381.9h1.7v1.4h-1.7zM264.5 373.9h1.7v1.4h-1.7zM263.7 375.8h1.7v1.4h-1.7zM266.3 376.1h1.7v1.4h-1.7zM262.3 371.3h1.7v1.4h-1.7zM264.7 363.2h1.7v1.4h-1.7zM266.2 368.8h1.7v1.4h-1.7zM263.7 375.1h1.7v1.4h-1.7zM265.2 372.5h1.7v1.4h-1.7zM266.6 372.9h1.7v1.4h-1.7zM264.0 363.6h1.7v1.4h-1.7zM265.0 369.8h1.7v1.4h-1.7zM265.0 369.4h1.7v1.4h-1.7zM262.3 363.1h1.7v1.4h-1.7zM263.1 364.2h1.7v1.4h-1.7zM266.5 374.2h1.7v1.4h-1.7zM263.5 376.9h1.7v1.4h-1.7zM265.4 363.6h1.7v1.4h-1.7zM266.0 367.0h1.7v1.4h-1.7zM267.3 365.2h1.7v1.4h-1.7zM263.7 367.4h1.7v1.4h-1.7zM266.6 379.1h1.7v1.4h-1.7zM265.2 365.4h1.7v1.4h-1.7zM264.4 376.7h1.7v1.4h-1.7zM262.6 381.2h1.7v1.4h-1.7zM266.5 381.4h1.7v1.4h-1.7zM265.8 375.0h1.7v1.4h-1.7zM267.1 367.8h1.7v1.4h-1.7zM263.8 364.8h1.7v1.4h-1.7zM263.2 378.7h1.7v1.4h-1.7zM262.7 377.6h1.7v1.4h-1.7zM264.3 380.3h1.7v1.4h-1.7zM266.1 376.4h1.7v1.4h-1.7zM266.5 363.2h1.7v1.4h-1.7zM263.6 369.9h1.7v1.4h-1.7zM264.4 376.0h1.7v1.4h-1.7zM266.7 377.5h1.7v1.4h-1.7zM266.9 376.6h1.7v1.4h-1.7zM264.1 372.7h1.7v1.4h-1.7zM266.0 379.0h1.7v1.4h-1.7zM264.1 369.6h1.7v1.4h-1.7zM265.3 367.0h1.7v1.4h-1.7zM266.7 362.3h1.7v1.4h-1.7zM265.5 372.3h1.7v1.4h-1.7zM263.2 374.0h1.7v1.4h-1.7zM264.6 382.0h1.7v1.4h-1.7zM266.7 374.3h1.7v1.4h-1.7zM266.6 380.4h1.7v1.4h-1.7zM263.1 379.3h1.7v1.4h-1.7zM266.4 382.6h1.7v1.4h-1.7zM266.1 370.3h1.7v1.4h-1.7zM263.3 375.7h1.7v1.4h-1.7zM263.3 377.8h1.7v1.4h-1.7zM265.1 379.2h1.7v1.4h-1.7zM264.1 368.5h1.7v1.4h-1.7zM266.8 375.9h1.7v1.4h-1.7zM264.2 373.8h1.7v1.4h-1.7zM264.4 375.5h1.7v1.4h-1.7zM264.9 368.2h1.7v1.4h-1.7zM267.2 380.4h1.7v1.4h-1.7zM266.1 368.0h1.7v1.4h-1.7zM263.2 377.3h1.7v1.4h-1.7zM266.4 375.7h1.7v1.4h-1.7zM263.3 377.1h1.7v1.4h-1.7zM264.9 370.0h1.7v1.4h-1.7zM265.2 371.5h1.7v1.4h-1.7zM265.5 377.7h1.7v1.4h-1.7zM267.2 364.6h1.7v1.4h-1.7zM265.1 381.7h1.7v1.4h-1.7zM265.6 374.2h1.7v1.4h-1.7zM266.5 362.9h1.7v1.4h-1.7zM266.2 375.1h1.7v1.4h-1.7zM265.2 368.7h1.7v1.4h-1.7zM265.4 364.9h1.7v1.4h-1.7zM264.9 367.6h1.7v1.4h-1.7zM266.9 378.8h1.7v1.4h-1.7zM264.6 377.8h1.7v1.4h-1.7zM264.2 373.0h1.7v1.4h-1.7zM263.1 379.9h1.7v1.4h-1.7zM266.1 377.9h1.7v1.4h-1.7zM262.7 379.1h1.7v1.4h-1.7zM262.3 373.9h1.7v1.4h-1.7zM264.7 363.5h1.7v1.4h-1.7zM264.4 380.5h1.7v1.4h-1.7zM265.4 368.7h1.7v1.4h-1.7zM266.3 369.6h1.7v1.4h-1.7zM266.8 370.5h1.7v1.4h-1.7zM262.7 382.2h1.7v1.4h-1.7zM262.6 367.5h1.7v1.4h-1.7zM266.1 364.7h1.7v1.4h-1.7zM265.0 379.9h1.7v1.4h-1.7zM265.2 369.4h1.7v1.4h-1.7zM266.1 379.2h1.7v1.4h-1.7zM265.2 375.2h1.7v1.4h-1.7zM263.9 370.7h1.7v1.4h-1.7zM267.2 382.2h1.7v1.4h-1.7zM262.3 366.3h1.7v1.4h-1.7zM263.4 378.6h1.7v1.4h-1.7zM263.3 365.8h1.7v1.4h-1.7zM266.1 365.8h1.7v1.4h-1.7zM267.2 371.6h1.7v1.4h-1.7zM266.8 379.1h1.7v1.4h-1.7zM263.3 378.4h1.7v1.4h-1.7zM264.3 366.9h1.7v1.4h-1.7zM262.5 376.7h1.7v1.4h-1.7zM265.1 368.5h1.7v1.4h-1.7zM266.4 366.3h1.7v1.4h-1.7zM264.5 387.5h1.7v1.4h-1.7zM264.0 395.7h1.7v1.4h-1.7zM264.8 388.2h1.7v1.4h-1.7zM263.5 393.2h1.7v1.4h-1.7zM263.7 395.7h1.7v1.4h-1.7zM262.6 395.5h1.7v1.4h-1.7zM265.4 395.1h1.7v1.4h-1.7zM264.0 387.3h1.7v1.4h-1.7zM263.1 393.1h1.7v1.4h-1.7zM262.4 387.7h1.7v1.4h-1.7zM266.2 395.6h1.7v1.4h-1.7zM266.6 395.2h1.7v1.4h-1.7zM265.0 395.6h1.7v1.4h-1.7zM265.8 392.3h1.7v1.4h-1.7zM264.4 386.9h1.7v1.4h-1.7zM262.7 389.2h1.7v1.4h-1.7zM264.6 399.8h1.7v1.4h-1.7zM267.1 401.6h1.7v1.4h-1.7zM266.0 402.9h1.7v1.4h-1.7zM263.4 402.8h1.7v1.4h-1.7zM267.1 400.4h1.7v1.4h-1.7zM272.8 373.6h1.7v1.4h-1.7zM276.6 373.6h1.7v1.4h-1.7zM274.2 371.0h1.7v1.4h-1.7zM272.7 366.0h1.7v1.4h-1.7zM274.2 372.9h1.7v1.4h-1.7zM272.6 375.3h1.7v1.4h-1.7zM272.3 375.9h1.7v1.4h-1.7zM273.3 373.9h1.7v1.4h-1.7zM276.2 375.7h1.7v1.4h-1.7zM274.5 372.3h1.7v1.4h-1.7zM273.6 374.1h1.7v1.4h-1.7zM272.7 374.7h1.7v1.4h-1.7zM275.1 363.7h1.7v1.4h-1.7zM276.8 367.1h1.7v1.4h-1.7zM272.5 366.4h1.7v1.4h-1.7zM272.3 366.7h1.7v1.4h-1.7zM275.7 376.1h1.7v1.4h-1.7zM275.3 374.3h1.7v1.4h-1.7zM276.3 372.5h1.7v1.4h-1.7zM274.1 366.3h1.7v1.4h-1.7zM272.9 370.2h1.7v1.4h-1.7zM273.2 372.8h1.7v1.4h-1.7zM273.7 370.7h1.7v1.4h-1.7zM274.9 371.3h1.7v1.4h-1.7zM272.9 366.3h1.7v1.4h-1.7zM275.6 365.8h1.7v1.4h-1.7zM275.5 375.8h1.7v1.4h-1.7zM274.1 375.8h1.7v1.4h-1.7zM275.2 375.6h1.7v1.4h-1.7zM274.8 373.0h1.7v1.4h-1.7zM275.6 365.5h1.7v1.4h-1.7zM274.7 370.7h1.7v1.4h-1.7zM274.5 371.7h1.7v1.4h-1.7zM276.7 373.6h1.7v1.4h-1.7zM276.2 364.8h1.7v1.4h-1.7zM275.7 371.3h1.7v1.4h-1.7zM276.8 362.9h1.7v1.4h-1.7zM273.0 376.0h1.7v1.4h-1.7zM274.0 372.4h1.7v1.4h-1.7zM275.1 368.2h1.7v1.4h-1.7zM274.3 370.4h1.7v1.4h-1.7zM277.1 370.0h1.7v1.4h-1.7zM276.1 367.0h1.7v1.4h-1.7zM275.7 371.0h1.7v1.4h-1.7zM275.9 374.7h1.7v1.4h-1.7zM272.5 375.9h1.7v1.4h-1.7zM275.2 366.4h1.7v1.4h-1.7zM274.5 364.2h1.7v1.4h-1.7zM273.3 374.1h1.7v1.4h-1.7zM275.7 374.5h1.7v1.4h-1.7zM273.0 364.3h1.7v1.4h-1.7zM274.0 369.5h1.7v1.4h-1.7zM275.7 366.9h1.7v1.4h-1.7zM275.8 370.7h1.7v1.4h-1.7zM273.6 373.5h1.7v1.4h-1.7zM272.5 370.8h1.7v1.4h-1.7zM273.1 363.5h1.7v1.4h-1.7zM274.5 369.9h1.7v1.4h-1.7zM275.2 367.9h1.7v1.4h-1.7zM276.8 373.4h1.7v1.4h-1.7zM272.9 363.0h1.7v1.4h-1.7zM276.9 368.4h1.7v1.4h-1.7zM272.7 365.3h1.7v1.4h-1.7zM275.6 365.3h1.7v1.4h-1.7zM274.0 372.0h1.7v1.4h-1.7zM273.9 371.7h1.7v1.4h-1.7zM276.9 373.5h1.7v1.4h-1.7zM275.3 371.3h1.7v1.4h-1.7zM273.7 371.5h1.7v1.4h-1.7zM275.4 370.8h1.7v1.4h-1.7zM274.6 373.0h1.7v1.4h-1.7zM273.2 372.5h1.7v1.4h-1.7zM277.0 363.4h1.7v1.4h-1.7zM273.4 376.1h1.7v1.4h-1.7zM272.6 373.9h1.7v1.4h-1.7zM275.0 363.8h1.7v1.4h-1.7zM275.3 363.0h1.7v1.4h-1.7zM276.4 367.0h1.7v1.4h-1.7zM276.8 374.9h1.7v1.4h-1.7zM272.8 368.3h1.7v1.4h-1.7zM272.9 392.5h1.7v1.4h-1.7zM272.6 383.7h1.7v1.4h-1.7zM272.7 393.8h1.7v1.4h-1.7zM273.4 386.9h1.7v1.4h-1.7zM274.4 389.9h1.7v1.4h-1.7zM274.2 394.9h1.7v1.4h-1.7zM273.8 388.9h1.7v1.4h-1.7zM276.5 385.9h1.7v1.4h-1.7zM273.0 393.5h1.7v1.4h-1.7zM273.7 394.2h1.7v1.4h-1.7zM276.3 387.6h1.7v1.4h-1.7zM273.8 384.1h1.7v1.4h-1.7zM276.5 388.5h1.7v1.4h-1.7zM273.9 385.1h1.7v1.4h-1.7zM273.3 394.0h1.7v1.4h-1.7zM272.8 389.9h1.7v1.4h-1.7zM275.3 389.5h1.7v1.4h-1.7zM274.7 403.2h1.7v1.4h-1.7zM273.2 403.6h1.7v1.4h-1.7zM276.5 403.4h1.7v1.4h-1.7zM273.4 403.6h1.7v1.4h-1.7zM273.2 403.0h1.7v1.4h-1.7zM275.2 403.6h1.7v1.4h-1.7zM275.0 403.0h1.7v1.4h-1.7zM276.9 403.0h1.7v1.4h-1.7zM283.8 362.9h1.7v1.4h-1.7zM285.9 362.7h1.7v1.4h-1.7zM282.5 362.8h1.7v1.4h-1.7zM284.0 362.1h1.7v1.4h-1.7zM285.9 362.8h1.7v1.4h-1.7zM282.3 362.5h1.7v1.4h-1.7zM286.4 362.4h1.7v1.4h-1.7zM283.6 362.7h1.7v1.4h-1.7zM284.2 366.5h1.7v1.4h-1.7zM286.2 366.4h1.7v1.4h-1.7zM285.5 365.9h1.7v1.4h-1.7zM285.4 366.2h1.7v1.4h-1.7zM284.4 366.2h1.7v1.4h-1.7zM283.6 365.9h1.7v1.4h-1.7zM286.6 383.8h1.7v1.4h-1.7zM282.5 403.5h1.7v1.4h-1.7zM284.6 393.8h1.7v1.4h-1.7zM283.7 376.7h1.7v1.4h-1.7zM283.7 398.9h1.7v1.4h-1.7zM283.4 401.5h1.7v1.4h-1.7zM283.5 401.0h1.7v1.4h-1.7zM282.9 386.3h1.7v1.4h-1.7zM282.7 376.7h1.7v1.4h-1.7zM284.6 383.7h1.7v1.4h-1.7zM284.7 378.9h1.7v1.4h-1.7zM283.6 382.3h1.7v1.4h-1.7zM286.5 374.5h1.7v1.4h-1.7zM284.1 399.6h1.7v1.4h-1.7zM284.9 380.2h1.7v1.4h-1.7zM287.0 375.4h1.7v1.4h-1.7zM282.7 372.5h1.7v1.4h-1.7zM284.2 399.7h1.7v1.4h-1.7zM283.4 381.2h1.7v1.4h-1.7zM286.0 374.4h1.7v1.4h-1.7zM282.1 393.4h1.7v1.4h-1.7zM282.5 389.0h1.7v1.4h-1.7zM282.7 391.4h1.7v1.4h-1.7zM286.3 386.6h1.7v1.4h-1.7zM283.4 392.1h1.7v1.4h-1.7zM285.5 373.7h1.7v1.4h-1.7zM283.2 384.1h1.7v1.4h-1.7zM284.5 380.8h1.7v1.4h-1.7zM285.3 380.2h1.7v1.4h-1.7zM286.5 383.3h1.7v1.4h-1.7zM283.1 374.4h1.7v1.4h-1.7zM282.6 378.9h1.7v1.4h-1.7zM286.4 385.4h1.7v1.4h-1.7zM284.2 403.0h1.7v1.4h-1.7zM286.8 396.7h1.7v1.4h-1.7zM283.2 382.5h1.7v1.4h-1.7zM284.5 380.3h1.7v1.4h-1.7zM283.7 378.8h1.7v1.4h-1.7zM283.2 396.2h1.7v1.4h-1.7zM285.0 386.3h1.7v1.4h-1.7zM284.4 391.8h1.7v1.4h-1.7zM285.4 372.6h1.7v1.4h-1.7zM286.2 386.9h1.7v1.4h-1.7zM283.7 403.0h1.7v1.4h-1.7zM285.8 383.3h1.7v1.4h-1.7zM282.1 386.1h1.7v1.4h-1.7zM284.2 384.0h1.7v1.4h-1.7zM282.5 390.6h1.7v1.4h-1.7zM283.3 396.6h1.7v1.4h-1.7zM284.7 381.4h1.7v1.4h-1.7zM286.1 386.4h1.7v1.4h-1.7zM282.4 381.0h1.7v1.4h-1.7zM282.3 385.8h1.7v1.4h-1.7zM286.6 402.4h1.7v1.4h-1.7zM285.3 376.9h1.7v1.4h-1.7zM283.2 378.5h1.7v1.4h-1.7zM283.9 392.6h1.7v1.4h-1.7zM282.1 387.8h1.7v1.4h-1.7zM284.1 393.3h1.7v1.4h-1.7zM286.1 384.8h1.7v1.4h-1.7zM285.0 380.7h1.7v1.4h-1.7zM284.3 392.5h1.7v1.4h-1.7zM282.3 388.6h1.7v1.4h-1.7zM284.5 377.8h1.7v1.4h-1.7zM283.3 398.6h1.7v1.4h-1.7zM283.8 378.1h1.7v1.4h-1.7zM283.4 388.8h1.7v1.4h-1.7zM284.0 383.3h1.7v1.4h-1.7zM283.6 378.9h1.7v1.4h-1.7zM284.5 391.3h1.7v1.4h-1.7zM282.5 391.0h1.7v1.4h-1.7zM283.5 403.6h1.7v1.4h-1.7zM286.7 376.2h1.7v1.4h-1.7zM285.5 383.1h1.7v1.4h-1.7zM282.6 400.3h1.7v1.4h-1.7zM286.6 397.4h1.7v1.4h-1.7zM285.2 403.6h1.7v1.4h-1.7zM284.8 393.8h1.7v1.4h-1.7zM285.3 399.7h1.7v1.4h-1.7zM286.3 381.8h1.7v1.4h-1.7zM283.0 389.6h1.7v1.4h-1.7zM285.0 383.3h1.7v1.4h-1.7zM286.3 399.4h1.7v1.4h-1.7zM285.4 389.2h1.7v1.4h-1.7zM285.5 378.2h1.7v1.4h-1.7zM286.0 376.0h1.7v1.4h-1.7zM286.5 392.2h1.7v1.4h-1.7zM283.4 378.1h1.7v1.4h-1.7zM285.0 386.9h1.7v1.4h-1.7zM285.5 375.1h1.7v1.4h-1.7zM286.4 385.8h1.7v1.4h-1.7zM284.2 395.8h1.7v1.4h-1.7zM285.0 386.3h1.7v1.4h-1.7zM283.5 387.0h1.7v1.4h-1.7zM282.2 380.2h1.7v1.4h-1.7zM286.1 375.8h1.7v1.4h-1.7zM282.4 399.4h1.7v1.4h-1.7zM283.9 389.1h1.7v1.4h-1.7zM284.9 395.2h1.7v1.4h-1.7zM283.6 396.8h1.7v1.4h-1.7zM282.0 399.4h1.7v1.4h-1.7zM283.6 392.2h1.7v1.4h-1.7zM283.5 396.2h1.7v1.4h-1.7zM283.9 391.4h1.7v1.4h-1.7zM283.6 398.9h1.7v1.4h-1.7zM285.9 378.4h1.7v1.4h-1.7zM285.8 402.4h1.7v1.4h-1.7zM283.2 378.1h1.7v1.4h-1.7zM286.7 403.1h1.7v1.4h-1.7zM282.7 397.0h1.7v1.4h-1.7zM286.7 380.4h1.7v1.4h-1.7zM285.9 381.5h1.7v1.4h-1.7zM285.9 388.4h1.7v1.4h-1.7zM284.4 375.9h1.7v1.4h-1.7zM285.3 394.6h1.7v1.4h-1.7zM283.5 373.4h1.7v1.4h-1.7zM282.5 380.3h1.7v1.4h-1.7zM287.0 396.0h1.7v1.4h-1.7zM286.5 396.2h1.7v1.4h-1.7zM282.7 384.4h1.7v1.4h-1.7zM286.8 399.5h1.7v1.4h-1.7zM287.0 398.5h1.7v1.4h-1.7zM285.6 396.6h1.7v1.4h-1.7zM286.6 385.8h1.7v1.4h-1.7zM282.2 382.0h1.7v1.4h-1.7zM282.1 380.7h1.7v1.4h-1.7zM285.0 380.8h1.7v1.4h-1.7zM283.3 375.0h1.7v1.4h-1.7zM283.8 388.6h1.7v1.4h-1.7zM285.0 402.5h1.7v1.4h-1.7zM282.4 380.2h1.7v1.4h-1.7zM282.4 402.0h1.7v1.4h-1.7zM285.2 393.2h1.7v1.4h-1.7zM286.1 372.0h1.7v1.4h-1.7zM286.5 382.7h1.7v1.4h-1.7zM285.2 385.0h1.7v1.4h-1.7zM285.7 381.7h1.7v1.4h-1.7zM283.4 380.0h1.7v1.4h-1.7zM285.6 386.7h1.7v1.4h-1.7zM282.8 383.4h1.7v1.4h-1.7zM284.8 384.0h1.7v1.4h-1.7zM285.0 399.2h1.7v1.4h-1.7zM285.2 397.9h1.7v1.4h-1.7zM283.5 400.1h1.7v1.4h-1.7zM286.7 389.1h1.7v1.4h-1.7zM282.1 374.7h1.7v1.4h-1.7zM285.8 400.0h1.7v1.4h-1.7zM285.6 388.4h1.7v1.4h-1.7zM284.7 375.6h1.7v1.4h-1.7zM285.0 404.3h1.7v1.4h-1.7zM283.0 391.7h1.7v1.4h-1.7zM286.3 393.0h1.7v1.4h-1.7zM283.8 379.6h1.7v1.4h-1.7zM285.7 402.0h1.7v1.4h-1.7zM286.4 384.9h1.7v1.4h-1.7zM285.7 398.2h1.7v1.4h-1.7zM283.9 396.4h1.7v1.4h-1.7zM283.9 378.4h1.7v1.4h-1.7zM282.0 395.4h1.7v1.4h-1.7zM285.8 373.3h1.7v1.4h-1.7zM282.3 382.2h1.7v1.4h-1.7zM283.1 395.6h1.7v1.4h-1.7zM283.0 390.9h1.7v1.4h-1.7zM284.8 383.2h1.7v1.4h-1.7zM286.3 386.1h1.7v1.4h-1.7zM284.6 393.5h1.7v1.4h-1.7zM284.0 377.9h1.7v1.4h-1.7zM286.8 396.3h1.7v1.4h-1.7zM284.7 388.0h1.7v1.4h-1.7zM285.1 381.5h1.7v1.4h-1.7zM282.4 389.6h1.7v1.4h-1.7zM286.5 375.1h1.7v1.4h-1.7zM286.9 384.0h1.7v1.4h-1.7zM287.0 396.8h1.7v1.4h-1.7zM283.4 378.8h1.7v1.4h-1.7zM286.5 403.6h1.7v1.4h-1.7zM286.0 390.8h1.7v1.4h-1.7zM284.7 397.2h1.7v1.4h-1.7zM286.1 398.9h1.7v1.4h-1.7zM283.5 398.7h1.7v1.4h-1.7zM286.8 390.5h1.7v1.4h-1.7zM282.1 378.0h1.7v1.4h-1.7zM285.3 385.7h1.7v1.4h-1.7zM286.6 392.7h1.7v1.4h-1.7zM285.5 376.8h1.7v1.4h-1.7zM284.6 394.9h1.7v1.4h-1.7zM286.6 401.1h1.7v1.4h-1.7zM283.3 388.2h1.7v1.4h-1.7zM286.9 409.0h1.7v1.4h-1.7zM282.4 410.3h1.7v1.4h-1.7zM285.7 412.3h1.7v1.4h-1.7zM285.5 419.5h1.7v1.4h-1.7zM286.1 408.3h1.7v1.4h-1.7zM285.5 419.1h1.7v1.4h-1.7zM285.5 420.1h1.7v1.4h-1.7zM295.9 363.0h1.7v1.4h-1.7zM296.1 362.9h1.7v1.4h-1.7zM292.5 362.7h1.7v1.4h-1.7zM296.5 362.8h1.7v1.4h-1.7zM294.2 363.2h1.7v1.4h-1.7zM295.3 363.1h1.7v1.4h-1.7zM294.2 362.9h1.7v1.4h-1.7zM292.4 362.7h1.7v1.4h-1.7zM292.7 362.9h1.7v1.4h-1.7zM294.5 362.6h1.7v1.4h-1.7zM295.0 362.6h1.7v1.4h-1.7zM293.8 366.9h1.7v1.4h-1.7zM294.3 367.0h1.7v1.4h-1.7zM296.5 367.2h1.7v1.4h-1.7zM296.0 367.3h1.7v1.4h-1.7zM293.6 367.6h1.7v1.4h-1.7zM293.3 367.3h1.7v1.4h-1.7zM295.0 367.7h1.7v1.4h-1.7zM295.4 366.9h1.7v1.4h-1.7zM294.2 405.2h1.7v1.4h-1.7zM296.2 385.1h1.7v1.4h-1.7zM292.5 381.6h1.7v1.4h-1.7zM295.7 378.5h1.7v1.4h-1.7zM296.3 381.5h1.7v1.4h-1.7zM295.3 396.3h1.7v1.4h-1.7zM293.1 390.2h1.7v1.4h-1.7zM295.0 381.6h1.7v1.4h-1.7zM294.5 394.0h1.7v1.4h-1.7zM296.7 382.1h1.7v1.4h-1.7zM292.7 389.8h1.7v1.4h-1.7zM294.9 389.2h1.7v1.4h-1.7zM296.4 379.3h1.7v1.4h-1.7zM294.4 388.6h1.7v1.4h-1.7zM292.9 388.0h1.7v1.4h-1.7zM294.1 385.3h1.7v1.4h-1.7zM295.7 406.4h1.7v1.4h-1.7zM296.7 379.8h1.7v1.4h-1.7zM293.7 405.1h1.7v1.4h-1.7zM292.3 375.4h1.7v1.4h-1.7zM292.2 405.5h1.7v1.4h-1.7zM294.4 387.3h1.7v1.4h-1.7zM292.4 402.9h1.7v1.4h-1.7zM296.8 396.1h1.7v1.4h-1.7zM296.4 392.0h1.7v1.4h-1.7zM293.4 378.5h1.7v1.4h-1.7zM293.4 377.5h1.7v1.4h-1.7zM293.7 373.9h1.7v1.4h-1.7zM292.1 403.3h1.7v1.4h-1.7zM296.1 400.5h1.7v1.4h-1.7zM293.6 387.9h1.7v1.4h-1.7zM294.6 399.5h1.7v1.4h-1.7zM293.4 390.0h1.7v1.4h-1.7zM294.6 401.4h1.7v1.4h-1.7zM293.6 372.4h1.7v1.4h-1.7zM293.9 402.9h1.7v1.4h-1.7zM292.8 394.0h1.7v1.4h-1.7zM292.5 381.7h1.7v1.4h-1.7zM295.0 375.9h1.7v1.4h-1.7zM294.2 392.6h1.7v1.4h-1.7zM293.8 398.5h1.7v1.4h-1.7zM296.1 382.0h1.7v1.4h-1.7zM295.7 398.4h1.7v1.4h-1.7zM294.9 392.8h1.7v1.4h-1.7zM294.7 397.9h1.7v1.4h-1.7zM295.3 381.7h1.7v1.4h-1.7zM295.1 396.9h1.7v1.4h-1.7zM294.2 403.3h1.7v1.4h-1.7zM293.5 391.4h1.7v1.4h-1.7zM294.7 393.2h1.7v1.4h-1.7zM292.8 395.4h1.7v1.4h-1.7zM292.5 390.8h1.7v1.4h-1.7zM294.1 396.4h1.7v1.4h-1.7zM296.2 406.4h1.7v1.4h-1.7zM293.0 403.8h1.7v1.4h-1.7zM294.2 389.8h1.7v1.4h-1.7zM292.1 402.0h1.7v1.4h-1.7zM293.0 381.9h1.7v1.4h-1.7zM293.4 380.4h1.7v1.4h-1.7zM293.3 382.3h1.7v1.4h-1.7zM294.5 384.8h1.7v1.4h-1.7zM295.7 404.6h1.7v1.4h-1.7zM296.5 385.3h1.7v1.4h-1.7zM295.3 397.6h1.7v1.4h-1.7zM295.5 386.1h1.7v1.4h-1.7zM292.8 398.5h1.7v1.4h-1.7zM295.2 384.5h1.7v1.4h-1.7zM295.2 374.6h1.7v1.4h-1.7zM295.8 403.4h1.7v1.4h-1.7zM296.7 376.2h1.7v1.4h-1.7zM295.3 399.3h1.7v1.4h-1.7zM292.6 393.4h1.7v1.4h-1.7zM292.8 379.8h1.7v1.4h-1.7zM292.0 382.0h1.7v1.4h-1.7zM296.1 392.6h1.7v1.4h-1.7zM295.9 405.9h1.7v1.4h-1.7zM292.6 401.6h1.7v1.4h-1.7zM296.4 394.8h1.7v1.4h-1.7zM293.5 378.4h1.7v1.4h-1.7zM294.1 385.2h1.7v1.4h-1.7zM293.2 395.6h1.7v1.4h-1.7zM295.1 381.2h1.7v1.4h-1.7zM292.7 389.6h1.7v1.4h-1.7zM295.4 395.3h1.7v1.4h-1.7zM295.1 403.3h1.7v1.4h-1.7zM295.7 387.6h1.7v1.4h-1.7zM295.6 395.3h1.7v1.4h-1.7zM293.6 378.1h1.7v1.4h-1.7zM293.8 397.1h1.7v1.4h-1.7zM295.6 382.8h1.7v1.4h-1.7zM294.6 374.9h1.7v1.4h-1.7zM294.9 387.8h1.7v1.4h-1.7zM295.7 402.1h1.7v1.4h-1.7zM292.1 405.7h1.7v1.4h-1.7zM292.7 405.7h1.7v1.4h-1.7zM296.8 380.0h1.7v1.4h-1.7zM293.3 377.3h1.7v1.4h-1.7zM296.4 398.5h1.7v1.4h-1.7zM296.7 400.2h1.7v1.4h-1.7zM293.7 399.1h1.7v1.4h-1.7zM293.7 383.7h1.7v1.4h-1.7zM294.0 396.5h1.7v1.4h-1.7zM293.5 391.7h1.7v1.4h-1.7zM294.7 399.8h1.7v1.4h-1.7zM294.2 386.8h1.7v1.4h-1.7zM294.7 388.2h1.7v1.4h-1.7zM295.5 376.0h1.7v1.4h-1.7zM292.8 373.6h1.7v1.4h-1.7zM293.9 401.7h1.7v1.4h-1.7zM294.9 394.3h1.7v1.4h-1.7zM296.6 400.7h1.7v1.4h-1.7zM293.3 380.0h1.7v1.4h-1.7zM294.6 380.2h1.7v1.4h-1.7zM294.9 375.0h1.7v1.4h-1.7zM293.8 397.3h1.7v1.4h-1.7zM293.2 377.5h1.7v1.4h-1.7zM295.6 379.0h1.7v1.4h-1.7zM296.4 393.5h1.7v1.4h-1.7zM296.3 390.7h1.7v1.4h-1.7zM294.3 381.2h1.7v1.4h-1.7zM292.2 405.3h1.7v1.4h-1.7zM293.0 375.1h1.7v1.4h-1.7zM296.5 390.9h1.7v1.4h-1.7zM294.8 404.1h1.7v1.4h-1.7zM295.5 381.3h1.7v1.4h-1.7zM293.3 395.0h1.7v1.4h-1.7zM295.3 380.1h1.7v1.4h-1.7zM293.1 389.9h1.7v1.4h-1.7zM292.2 400.1h1.7v1.4h-1.7zM295.2 377.5h1.7v1.4h-1.7zM294.8 392.8h1.7v1.4h-1.7zM292.3 387.2h1.7v1.4h-1.7zM295.8 388.0h1.7v1.4h-1.7zM295.5 380.4h1.7v1.4h-1.7zM296.9 395.4h1.7v1.4h-1.7zM294.7 372.7h1.7v1.4h-1.7zM293.7 372.4h1.7v1.4h-1.7zM294.1 378.4h1.7v1.4h-1.7zM293.1 382.9h1.7v1.4h-1.7zM292.6 382.1h1.7v1.4h-1.7zM294.4 376.9h1.7v1.4h-1.7zM294.7 405.1h1.7v1.4h-1.7zM295.5 405.3h1.7v1.4h-1.7zM292.4 395.2h1.7v1.4h-1.7zM293.1 404.6h1.7v1.4h-1.7zM294.4 397.3h1.7v1.4h-1.7zM295.8 376.9h1.7v1.4h-1.7zM292.4 400.3h1.7v1.4h-1.7zM296.0 387.3h1.7v1.4h-1.7zM292.0 373.1h1.7v1.4h-1.7zM295.9 396.4h1.7v1.4h-1.7zM293.7 395.7h1.7v1.4h-1.7zM295.9 372.5h1.7v1.4h-1.7zM295.6 406.1h1.7v1.4h-1.7zM296.2 402.9h1.7v1.4h-1.7zM294.1 393.3h1.7v1.4h-1.7zM292.5 399.7h1.7v1.4h-1.7zM295.2 386.3h1.7v1.4h-1.7zM292.1 378.5h1.7v1.4h-1.7zM293.9 404.2h1.7v1.4h-1.7zM294.2 402.3h1.7v1.4h-1.7zM292.8 381.1h1.7v1.4h-1.7zM293.1 382.2h1.7v1.4h-1.7zM295.9 385.1h1.7v1.4h-1.7zM293.5 395.9h1.7v1.4h-1.7zM294.1 402.7h1.7v1.4h-1.7zM295.4 401.1h1.7v1.4h-1.7zM294.0 386.0h1.7v1.4h-1.7zM294.1 406.5h1.7v1.4h-1.7zM296.6 391.9h1.7v1.4h-1.7zM294.3 374.8h1.7v1.4h-1.7zM296.2 393.4h1.7v1.4h-1.7zM293.9 378.1h1.7v1.4h-1.7zM294.2 396.8h1.7v1.4h-1.7zM293.2 381.5h1.7v1.4h-1.7zM294.4 389.5h1.7v1.4h-1.7zM291.9 374.5h1.7v1.4h-1.7zM293.8 396.8h1.7v1.4h-1.7zM293.8 372.8h1.7v1.4h-1.7zM293.1 379.1h1.7v1.4h-1.7zM295.7 380.2h1.7v1.4h-1.7zM296.8 382.3h1.7v1.4h-1.7zM292.8 373.0h1.7v1.4h-1.7zM294.3 390.1h1.7v1.4h-1.7zM295.8 395.4h1.7v1.4h-1.7zM294.6 374.1h1.7v1.4h-1.7zM296.5 380.9h1.7v1.4h-1.7zM293.1 378.3h1.7v1.4h-1.7zM294.8 395.0h1.7v1.4h-1.7zM293.5 381.2h1.7v1.4h-1.7zM291.9 392.8h1.7v1.4h-1.7zM295.4 376.4h1.7v1.4h-1.7zM293.1 398.3h1.7v1.4h-1.7zM295.4 377.0h1.7v1.4h-1.7zM296.8 397.1h1.7v1.4h-1.7zM295.5 383.4h1.7v1.4h-1.7zM296.7 387.6h1.7v1.4h-1.7zM295.1 406.3h1.7v1.4h-1.7zM296.1 378.4h1.7v1.4h-1.7zM292.5 379.5h1.7v1.4h-1.7zM292.5 402.9h1.7v1.4h-1.7zM294.6 388.8h1.7v1.4h-1.7zM293.7 389.5h1.7v1.4h-1.7zM294.1 397.4h1.7v1.4h-1.7zM294.0 402.3h1.7v1.4h-1.7zM296.1 402.3h1.7v1.4h-1.7zM295.6 378.3h1.7v1.4h-1.7zM294.0 401.4h1.7v1.4h-1.7zM293.7 418.8h1.7v1.4h-1.7zM292.9 422.2h1.7v1.4h-1.7zM293.5 415.9h1.7v1.4h-1.7zM296.0 412.3h1.7v1.4h-1.7zM291.9 416.8h1.7v1.4h-1.7zM294.1 412.6h1.7v1.4h-1.7zM293.8 421.4h1.7v1.4h-1.7zM306.1 363.8h1.7v1.4h-1.7zM305.7 363.2h1.7v1.4h-1.7zM303.6 363.5h1.7v1.4h-1.7zM302.0 363.7h1.7v1.4h-1.7zM303.2 363.7h1.7v1.4h-1.7zM305.1 363.3h1.7v1.4h-1.7zM303.5 363.5h1.7v1.4h-1.7zM302.8 363.1h1.7v1.4h-1.7zM303.9 363.3h1.7v1.4h-1.7zM303.1 363.7h1.7v1.4h-1.7zM305.4 363.4h1.7v1.4h-1.7zM302.0 368.2h1.7v1.4h-1.7zM303.1 367.7h1.7v1.4h-1.7zM305.5 368.3h1.7v1.4h-1.7zM303.1 368.0h1.7v1.4h-1.7zM306.1 368.0h1.7v1.4h-1.7zM303.5 367.7h1.7v1.4h-1.7zM302.0 368.3h1.7v1.4h-1.7zM305.7 367.7h1.7v1.4h-1.7zM304.9 367.8h1.7v1.4h-1.7zM305.4 367.9h1.7v1.4h-1.7zM305.2 368.0h1.7v1.4h-1.7zM302.2 392.8h1.7v1.4h-1.7zM305.0 374.7h1.7v1.4h-1.7zM301.9 382.4h1.7v1.4h-1.7zM305.4 406.9h1.7v1.4h-1.7zM304.0 402.8h1.7v1.4h-1.7zM305.3 382.5h1.7v1.4h-1.7zM304.0 402.3h1.7v1.4h-1.7zM304.2 390.6h1.7v1.4h-1.7zM305.4 378.2h1.7v1.4h-1.7zM304.0 391.1h1.7v1.4h-1.7zM304.6 397.1h1.7v1.4h-1.7zM303.1 389.5h1.7v1.4h-1.7zM304.1 376.7h1.7v1.4h-1.7zM305.7 406.3h1.7v1.4h-1.7zM304.5 387.3h1.7v1.4h-1.7zM303.6 388.8h1.7v1.4h-1.7zM303.6 382.5h1.7v1.4h-1.7zM306.5 385.8h1.7v1.4h-1.7zM302.8 395.9h1.7v1.4h-1.7zM301.8 385.3h1.7v1.4h-1.7zM304.6 401.4h1.7v1.4h-1.7zM303.3 374.9h1.7v1.4h-1.7zM306.6 373.5h1.7v1.4h-1.7zM303.8 390.8h1.7v1.4h-1.7zM306.7 385.4h1.7v1.4h-1.7zM303.0 383.0h1.7v1.4h-1.7zM303.6 378.1h1.7v1.4h-1.7zM306.2 390.9h1.7v1.4h-1.7zM305.4 382.7h1.7v1.4h-1.7zM305.1 404.7h1.7v1.4h-1.7zM302.9 406.2h1.7v1.4h-1.7zM303.2 397.9h1.7v1.4h-1.7zM306.5 389.1h1.7v1.4h-1.7zM306.4 386.8h1.7v1.4h-1.7zM303.9 405.1h1.7v1.4h-1.7zM304.8 374.9h1.7v1.4h-1.7zM302.5 391.6h1.7v1.4h-1.7zM303.4 375.1h1.7v1.4h-1.7zM305.8 384.4h1.7v1.4h-1.7zM306.3 385.8h1.7v1.4h-1.7zM302.7 387.7h1.7v1.4h-1.7zM305.9 404.4h1.7v1.4h-1.7zM304.6 381.8h1.7v1.4h-1.7zM304.4 382.2h1.7v1.4h-1.7zM303.6 373.4h1.7v1.4h-1.7zM301.8 405.4h1.7v1.4h-1.7zM305.6 381.5h1.7v1.4h-1.7zM304.8 374.5h1.7v1.4h-1.7zM305.9 394.3h1.7v1.4h-1.7zM305.4 388.0h1.7v1.4h-1.7zM303.9 401.3h1.7v1.4h-1.7zM303.3 375.8h1.7v1.4h-1.7zM302.3 404.8h1.7v1.4h-1.7zM303.1 375.3h1.7v1.4h-1.7zM304.6 377.6h1.7v1.4h-1.7zM303.9 399.9h1.7v1.4h-1.7zM302.9 387.7h1.7v1.4h-1.7zM306.4 403.2h1.7v1.4h-1.7zM306.1 374.4h1.7v1.4h-1.7zM306.6 392.5h1.7v1.4h-1.7zM302.5 407.2h1.7v1.4h-1.7zM302.4 407.2h1.7v1.4h-1.7zM301.9 375.8h1.7v1.4h-1.7zM304.1 394.2h1.7v1.4h-1.7zM304.7 401.4h1.7v1.4h-1.7zM302.3 398.2h1.7v1.4h-1.7zM303.4 406.1h1.7v1.4h-1.7zM304.9 397.0h1.7v1.4h-1.7zM302.4 404.7h1.7v1.4h-1.7zM303.2 380.3h1.7v1.4h-1.7zM303.9 400.2h1.7v1.4h-1.7zM303.4 389.4h1.7v1.4h-1.7zM304.8 381.6h1.7v1.4h-1.7zM302.3 387.2h1.7v1.4h-1.7zM305.3 396.6h1.7v1.4h-1.7zM302.8 395.9h1.7v1.4h-1.7zM305.9 397.4h1.7v1.4h-1.7zM302.7 374.6h1.7v1.4h-1.7zM306.7 397.7h1.7v1.4h-1.7zM303.1 398.8h1.7v1.4h-1.7zM304.7 394.9h1.7v1.4h-1.7zM303.5 396.2h1.7v1.4h-1.7zM303.7 386.4h1.7v1.4h-1.7zM303.4 398.6h1.7v1.4h-1.7zM306.1 383.2h1.7v1.4h-1.7zM302.1 381.8h1.7v1.4h-1.7zM305.5 385.4h1.7v1.4h-1.7zM301.8 402.3h1.7v1.4h-1.7zM303.9 375.4h1.7v1.4h-1.7zM305.5 390.7h1.7v1.4h-1.7zM306.0 402.0h1.7v1.4h-1.7zM305.9 403.6h1.7v1.4h-1.7zM303.7 401.1h1.7v1.4h-1.7zM304.2 395.7h1.7v1.4h-1.7zM302.8 394.7h1.7v1.4h-1.7zM302.1 402.9h1.7v1.4h-1.7zM302.6 392.8h1.7v1.4h-1.7zM306.0 401.7h1.7v1.4h-1.7zM306.0 387.8h1.7v1.4h-1.7zM302.1 407.2h1.7v1.4h-1.7zM303.3 403.0h1.7v1.4h-1.7zM303.8 388.4h1.7v1.4h-1.7zM304.5 392.0h1.7v1.4h-1.7zM305.6 393.4h1.7v1.4h-1.7zM302.6 391.5h1.7v1.4h-1.7zM302.2 402.6h1.7v1.4h-1.7zM302.6 385.7h1.7v1.4h-1.7zM304.7 384.9h1.7v1.4h-1.7zM306.2 400.5h1.7v1.4h-1.7zM303.4 387.9h1.7v1.4h-1.7zM305.4 390.8h1.7v1.4h-1.7zM304.9 384.7h1.7v1.4h-1.7zM304.6 393.6h1.7v1.4h-1.7zM306.2 385.3h1.7v1.4h-1.7zM305.8 380.5h1.7v1.4h-1.7zM303.2 381.1h1.7v1.4h-1.7zM306.4 376.4h1.7v1.4h-1.7zM303.2 389.3h1.7v1.4h-1.7zM305.3 396.0h1.7v1.4h-1.7zM302.4 386.6h1.7v1.4h-1.7zM305.4 378.1h1.7v1.4h-1.7zM302.4 401.6h1.7v1.4h-1.7zM301.8 375.9h1.7v1.4h-1.7zM302.7 402.0h1.7v1.4h-1.7zM303.5 388.0h1.7v1.4h-1.7zM304.5 403.9h1.7v1.4h-1.7zM302.0 379.8h1.7v1.4h-1.7zM303.8 395.3h1.7v1.4h-1.7zM302.4 388.2h1.7v1.4h-1.7zM304.6 375.3h1.7v1.4h-1.7zM303.4 375.2h1.7v1.4h-1.7zM306.3 373.5h1.7v1.4h-1.7zM302.5 394.3h1.7v1.4h-1.7zM302.9 393.0h1.7v1.4h-1.7zM303.5 407.4h1.7v1.4h-1.7zM304.6 385.3h1.7v1.4h-1.7zM302.7 389.7h1.7v1.4h-1.7zM305.6 397.9h1.7v1.4h-1.7zM305.3 391.0h1.7v1.4h-1.7zM306.4 386.9h1.7v1.4h-1.7zM304.5 406.2h1.7v1.4h-1.7zM305.7 389.5h1.7v1.4h-1.7zM305.7 399.8h1.7v1.4h-1.7zM303.2 386.9h1.7v1.4h-1.7zM305.5 386.0h1.7v1.4h-1.7zM303.5 391.7h1.7v1.4h-1.7zM302.1 382.1h1.7v1.4h-1.7zM306.7 381.7h1.7v1.4h-1.7zM305.8 373.3h1.7v1.4h-1.7zM303.3 390.9h1.7v1.4h-1.7zM303.3 405.7h1.7v1.4h-1.7zM306.5 383.4h1.7v1.4h-1.7zM302.4 404.9h1.7v1.4h-1.7zM305.7 391.1h1.7v1.4h-1.7zM302.0 373.4h1.7v1.4h-1.7zM305.2 396.8h1.7v1.4h-1.7zM304.1 384.6h1.7v1.4h-1.7zM303.1 385.9h1.7v1.4h-1.7zM303.8 394.3h1.7v1.4h-1.7zM303.8 384.8h1.7v1.4h-1.7zM302.9 396.0h1.7v1.4h-1.7zM306.4 379.5h1.7v1.4h-1.7zM305.6 395.5h1.7v1.4h-1.7zM302.9 377.8h1.7v1.4h-1.7zM305.9 378.2h1.7v1.4h-1.7zM302.3 376.2h1.7v1.4h-1.7zM305.8 386.2h1.7v1.4h-1.7zM301.8 382.8h1.7v1.4h-1.7zM304.3 389.5h1.7v1.4h-1.7zM302.5 402.5h1.7v1.4h-1.7zM305.2 382.6h1.7v1.4h-1.7zM303.3 381.9h1.7v1.4h-1.7zM301.9 394.2h1.7v1.4h-1.7zM303.1 396.0h1.7v1.4h-1.7zM305.9 384.2h1.7v1.4h-1.7zM303.2 385.7h1.7v1.4h-1.7zM304.1 374.7h1.7v1.4h-1.7zM303.7 383.9h1.7v1.4h-1.7zM302.3 402.0h1.7v1.4h-1.7zM305.2 390.0h1.7v1.4h-1.7zM302.1 398.3h1.7v1.4h-1.7zM303.6 403.6h1.7v1.4h-1.7zM305.0 381.4h1.7v1.4h-1.7zM305.5 393.6h1.7v1.4h-1.7zM303.5 400.6h1.7v1.4h-1.7zM303.4 378.1h1.7v1.4h-1.7zM302.0 394.3h1.7v1.4h-1.7zM303.1 378.6h1.7v1.4h-1.7zM302.0 399.9h1.7v1.4h-1.7zM303.1 402.8h1.7v1.4h-1.7zM306.2 401.4h1.7v1.4h-1.7zM302.9 405.7h1.7v1.4h-1.7zM304.9 402.4h1.7v1.4h-1.7zM306.3 384.1h1.7v1.4h-1.7zM303.6 404.1h1.7v1.4h-1.7zM303.2 376.5h1.7v1.4h-1.7zM301.9 392.3h1.7v1.4h-1.7zM303.3 405.8h1.7v1.4h-1.7zM301.8 386.9h1.7v1.4h-1.7zM305.3 394.1h1.7v1.4h-1.7zM305.9 395.6h1.7v1.4h-1.7zM306.1 406.6h1.7v1.4h-1.7zM306.1 394.0h1.7v1.4h-1.7zM303.7 391.5h1.7v1.4h-1.7zM302.9 381.9h1.7v1.4h-1.7zM304.3 388.3h1.7v1.4h-1.7zM303.7 376.0h1.7v1.4h-1.7zM306.7 384.6h1.7v1.4h-1.7zM304.1 385.2h1.7v1.4h-1.7zM304.5 400.1h1.7v1.4h-1.7zM306.4 394.0h1.7v1.4h-1.7zM306.4 385.8h1.7v1.4h-1.7zM304.1 384.8h1.7v1.4h-1.7zM306.6 377.6h1.7v1.4h-1.7zM302.9 399.7h1.7v1.4h-1.7zM302.9 411.7h1.7v1.4h-1.7zM303.6 415.0h1.7v1.4h-1.7zM304.0 413.1h1.7v1.4h-1.7zM303.5 413.5h1.7v1.4h-1.7zM312.6 363.5h1.7v1.4h-1.7zM312.8 363.3h1.7v1.4h-1.7zM316.2 363.8h1.7v1.4h-1.7zM313.5 363.5h1.7v1.4h-1.7zM312.2 363.1h1.7v1.4h-1.7zM314.2 363.9h1.7v1.4h-1.7zM312.1 363.5h1.7v1.4h-1.7zM315.5 363.1h1.7v1.4h-1.7zM314.5 363.3h1.7v1.4h-1.7zM315.3 363.8h1.7v1.4h-1.7zM316.0 363.7h1.7v1.4h-1.7zM312.1 368.8h1.7v1.4h-1.7zM314.4 368.5h1.7v1.4h-1.7zM312.7 368.7h1.7v1.4h-1.7zM313.7 368.6h1.7v1.4h-1.7zM316.3 368.5h1.7v1.4h-1.7zM315.8 368.4h1.7v1.4h-1.7zM315.0 368.7h1.7v1.4h-1.7zM313.6 368.7h1.7v1.4h-1.7zM312.3 382.9h1.7v1.4h-1.7zM313.7 381.7h1.7v1.4h-1.7zM315.8 404.0h1.7v1.4h-1.7zM314.8 404.2h1.7v1.4h-1.7zM312.4 373.6h1.7v1.4h-1.7zM312.0 412.6h1.7v1.4h-1.7zM314.1 416.6h1.7v1.4h-1.7zM313.2 390.3h1.7v1.4h-1.7zM314.9 411.0h1.7v1.4h-1.7zM313.8 394.7h1.7v1.4h-1.7zM313.4 383.7h1.7v1.4h-1.7zM316.2 413.5h1.7v1.4h-1.7zM313.8 379.3h1.7v1.4h-1.7zM316.0 393.9h1.7v1.4h-1.7zM315.4 391.7h1.7v1.4h-1.7zM312.0 406.4h1.7v1.4h-1.7zM312.1 415.0h1.7v1.4h-1.7zM312.5 388.4h1.7v1.4h-1.7zM311.6 382.9h1.7v1.4h-1.7zM314.9 377.2h1.7v1.4h-1.7zM312.2 375.8h1.7v1.4h-1.7zM311.7 396.1h1.7v1.4h-1.7zM312.7 406.7h1.7v1.4h-1.7zM315.0 395.7h1.7v1.4h-1.7zM316.3 416.5h1.7v1.4h-1.7zM313.2 407.7h1.7v1.4h-1.7zM315.1 381.5h1.7v1.4h-1.7zM315.5 374.7h1.7v1.4h-1.7zM315.0 413.6h1.7v1.4h-1.7zM314.9 404.3h1.7v1.4h-1.7zM314.9 391.5h1.7v1.4h-1.7zM312.2 390.0h1.7v1.4h-1.7zM313.2 409.4h1.7v1.4h-1.7zM316.0 416.4h1.7v1.4h-1.7zM313.3 413.1h1.7v1.4h-1.7zM316.1 374.0h1.7v1.4h-1.7zM314.4 377.4h1.7v1.4h-1.7zM312.0 392.9h1.7v1.4h-1.7zM315.1 381.1h1.7v1.4h-1.7zM313.2 394.7h1.7v1.4h-1.7zM314.3 378.6h1.7v1.4h-1.7zM312.5 373.7h1.7v1.4h-1.7zM313.2 417.3h1.7v1.4h-1.7zM312.6 406.9h1.7v1.4h-1.7zM314.9 411.5h1.7v1.4h-1.7zM315.6 375.9h1.7v1.4h-1.7zM313.3 410.4h1.7v1.4h-1.7zM314.8 411.3h1.7v1.4h-1.7zM311.8 410.6h1.7v1.4h-1.7zM313.6 408.3h1.7v1.4h-1.7zM314.5 389.0h1.7v1.4h-1.7zM314.2 374.2h1.7v1.4h-1.7zM316.3 412.2h1.7v1.4h-1.7zM314.9 402.0h1.7v1.4h-1.7zM315.3 392.7h1.7v1.4h-1.7zM312.8 402.1h1.7v1.4h-1.7zM316.5 411.9h1.7v1.4h-1.7zM315.6 380.5h1.7v1.4h-1.7zM313.2 385.6h1.7v1.4h-1.7zM314.4 413.4h1.7v1.4h-1.7zM314.7 399.2h1.7v1.4h-1.7zM313.8 381.0h1.7v1.4h-1.7zM312.9 417.0h1.7v1.4h-1.7zM316.2 402.2h1.7v1.4h-1.7zM315.1 383.2h1.7v1.4h-1.7zM311.7 374.2h1.7v1.4h-1.7zM311.7 382.2h1.7v1.4h-1.7zM316.5 398.9h1.7v1.4h-1.7zM312.7 377.2h1.7v1.4h-1.7zM311.7 373.7h1.7v1.4h-1.7zM312.3 388.1h1.7v1.4h-1.7zM312.4 383.3h1.7v1.4h-1.7zM314.7 378.8h1.7v1.4h-1.7zM312.3 407.6h1.7v1.4h-1.7zM313.0 401.2h1.7v1.4h-1.7zM313.0 404.2h1.7v1.4h-1.7zM311.7 385.2h1.7v1.4h-1.7zM315.9 386.2h1.7v1.4h-1.7zM314.8 382.5h1.7v1.4h-1.7zM312.2 392.1h1.7v1.4h-1.7zM313.9 374.7h1.7v1.4h-1.7zM314.3 392.0h1.7v1.4h-1.7zM313.4 407.0h1.7v1.4h-1.7zM316.1 391.3h1.7v1.4h-1.7zM313.1 407.5h1.7v1.4h-1.7zM315.4 396.0h1.7v1.4h-1.7zM314.7 388.4h1.7v1.4h-1.7zM315.2 398.9h1.7v1.4h-1.7zM315.9 386.5h1.7v1.4h-1.7zM312.0 411.8h1.7v1.4h-1.7zM314.5 408.9h1.7v1.4h-1.7zM315.4 407.6h1.7v1.4h-1.7zM313.4 411.8h1.7v1.4h-1.7zM314.7 391.3h1.7v1.4h-1.7zM312.5 377.4h1.7v1.4h-1.7zM312.8 387.4h1.7v1.4h-1.7zM313.3 400.8h1.7v1.4h-1.7zM316.4 398.3h1.7v1.4h-1.7zM314.9 373.6h1.7v1.4h-1.7zM315.1 397.0h1.7v1.4h-1.7zM315.5 388.7h1.7v1.4h-1.7zM314.8 396.0h1.7v1.4h-1.7zM315.5 392.5h1.7v1.4h-1.7zM315.7 411.9h1.7v1.4h-1.7zM314.3 395.5h1.7v1.4h-1.7zM315.1 396.3h1.7v1.4h-1.7zM316.5 414.9h1.7v1.4h-1.7zM314.1 403.8h1.7v1.4h-1.7zM312.1 413.5h1.7v1.4h-1.7zM314.7 374.3h1.7v1.4h-1.7zM311.7 410.9h1.7v1.4h-1.7zM315.5 400.7h1.7v1.4h-1.7zM313.6 384.0h1.7v1.4h-1.7zM314.0 413.7h1.7v1.4h-1.7zM314.8 375.1h1.7v1.4h-1.7zM312.7 376.9h1.7v1.4h-1.7zM315.9 411.0h1.7v1.4h-1.7zM316.2 392.3h1.7v1.4h-1.7zM313.2 375.8h1.7v1.4h-1.7zM312.9 388.5h1.7v1.4h-1.7zM313.6 388.3h1.7v1.4h-1.7zM315.3 411.5h1.7v1.4h-1.7zM313.5 409.6h1.7v1.4h-1.7zM313.1 385.0h1.7v1.4h-1.7zM315.6 377.1h1.7v1.4h-1.7zM312.0 417.5h1.7v1.4h-1.7zM314.0 391.4h1.7v1.4h-1.7zM315.5 412.9h1.7v1.4h-1.7zM313.5 409.1h1.7v1.4h-1.7zM312.3 412.8h1.7v1.4h-1.7zM313.7 390.3h1.7v1.4h-1.7zM311.7 376.2h1.7v1.4h-1.7zM313.6 378.2h1.7v1.4h-1.7zM314.9 417.6h1.7v1.4h-1.7zM313.1 406.8h1.7v1.4h-1.7zM314.5 400.8h1.7v1.4h-1.7zM315.5 394.8h1.7v1.4h-1.7zM315.8 380.2h1.7v1.4h-1.7zM315.0 396.7h1.7v1.4h-1.7zM312.6 383.3h1.7v1.4h-1.7zM316.4 401.6h1.7v1.4h-1.7zM314.1 395.5h1.7v1.4h-1.7zM315.9 401.4h1.7v1.4h-1.7zM312.7 415.0h1.7v1.4h-1.7zM315.9 408.0h1.7v1.4h-1.7zM315.2 403.2h1.7v1.4h-1.7zM313.2 416.8h1.7v1.4h-1.7zM315.2 380.4h1.7v1.4h-1.7zM315.7 392.2h1.7v1.4h-1.7zM311.9 412.5h1.7v1.4h-1.7zM312.7 391.9h1.7v1.4h-1.7zM312.1 396.4h1.7v1.4h-1.7zM314.3 409.8h1.7v1.4h-1.7zM316.4 412.7h1.7v1.4h-1.7zM315.0 391.0h1.7v1.4h-1.7zM316.3 383.3h1.7v1.4h-1.7zM313.2 398.3h1.7v1.4h-1.7zM313.5 398.5h1.7v1.4h-1.7zM312.2 384.1h1.7v1.4h-1.7zM311.7 392.3h1.7v1.4h-1.7zM312.8 409.5h1.7v1.4h-1.7zM312.9 381.7h1.7v1.4h-1.7zM315.2 381.8h1.7v1.4h-1.7zM315.8 396.8h1.7v1.4h-1.7zM312.3 404.4h1.7v1.4h-1.7zM316.6 386.9h1.7v1.4h-1.7zM314.4 397.5h1.7v1.4h-1.7zM316.4 417.2h1.7v1.4h-1.7zM311.9 390.2h1.7v1.4h-1.7zM315.7 391.8h1.7v1.4h-1.7zM314.2 398.4h1.7v1.4h-1.7zM311.7 374.8h1.7v1.4h-1.7zM316.1 390.8h1.7v1.4h-1.7zM313.8 398.1h1.7v1.4h-1.7zM315.4 413.0h1.7v1.4h-1.7zM312.0 401.3h1.7v1.4h-1.7zM311.6 397.5h1.7v1.4h-1.7zM315.7 394.5h1.7v1.4h-1.7zM313.5 411.4h1.7v1.4h-1.7zM315.1 414.0h1.7v1.4h-1.7zM314.3 386.9h1.7v1.4h-1.7zM315.1 394.9h1.7v1.4h-1.7zM311.6 378.9h1.7v1.4h-1.7zM316.4 402.0h1.7v1.4h-1.7zM311.8 406.7h1.7v1.4h-1.7zM315.4 375.2h1.7v1.4h-1.7zM316.6 380.9h1.7v1.4h-1.7zM314.2 404.9h1.7v1.4h-1.7zM314.1 388.7h1.7v1.4h-1.7zM314.0 401.3h1.7v1.4h-1.7zM316.4 412.5h1.7v1.4h-1.7zM316.6 409.1h1.7v1.4h-1.7zM314.0 389.0h1.7v1.4h-1.7zM316.2 414.3h1.7v1.4h-1.7zM313.1 408.2h1.7v1.4h-1.7zM313.4 375.6h1.7v1.4h-1.7zM314.0 413.3h1.7v1.4h-1.7zM314.3 409.5h1.7v1.4h-1.7zM315.8 408.7h1.7v1.4h-1.7zM313.1 413.8h1.7v1.4h-1.7zM312.0 395.7h1.7v1.4h-1.7zM312.0 390.2h1.7v1.4h-1.7zM316.1 409.4h1.7v1.4h-1.7zM316.6 398.2h1.7v1.4h-1.7zM314.2 380.5h1.7v1.4h-1.7zM314.0 413.6h1.7v1.4h-1.7zM313.3 411.3h1.7v1.4h-1.7zM313.1 408.9h1.7v1.4h-1.7zM312.6 416.2h1.7v1.4h-1.7zM312.2 376.7h1.7v1.4h-1.7zM314.5 407.8h1.7v1.4h-1.7zM315.2 391.2h1.7v1.4h-1.7zM315.2 382.2h1.7v1.4h-1.7zM313.3 386.0h1.7v1.4h-1.7zM312.8 375.0h1.7v1.4h-1.7zM312.7 397.3h1.7v1.4h-1.7zM314.7 388.1h1.7v1.4h-1.7zM314.7 387.9h1.7v1.4h-1.7zM315.7 373.7h1.7v1.4h-1.7zM315.5 413.3h1.7v1.4h-1.7zM314.5 401.6h1.7v1.4h-1.7zM316.5 379.6h1.7v1.4h-1.7zM312.1 395.8h1.7v1.4h-1.7zM315.2 397.1h1.7v1.4h-1.7zM314.0 392.4h1.7v1.4h-1.7zM313.9 412.3h1.7v1.4h-1.7zM312.0 402.4h1.7v1.4h-1.7zM312.1 410.8h1.7v1.4h-1.7zM312.9 408.8h1.7v1.4h-1.7zM313.2 401.4h1.7v1.4h-1.7zM314.2 415.8h1.7v1.4h-1.7zM314.0 396.0h1.7v1.4h-1.7zM314.1 384.3h1.7v1.4h-1.7zM316.3 388.4h1.7v1.4h-1.7zM312.4 382.4h1.7v1.4h-1.7zM315.2 413.5h1.7v1.4h-1.7zM314.6 415.8h1.7v1.4h-1.7zM312.7 412.7h1.7v1.4h-1.7zM315.5 382.7h1.7v1.4h-1.7zM312.1 392.0h1.7v1.4h-1.7zM313.7 395.0h1.7v1.4h-1.7zM315.2 383.3h1.7v1.4h-1.7zM312.9 388.0h1.7v1.4h-1.7zM312.4 392.8h1.7v1.4h-1.7zM314.6 385.3h1.7v1.4h-1.7zM312.3 405.7h1.7v1.4h-1.7zM312.1 411.5h1.7v1.4h-1.7zM314.7 383.2h1.7v1.4h-1.7zM311.7 410.9h1.7v1.4h-1.7zM311.7 406.8h1.7v1.4h-1.7zM314.3 404.0h1.7v1.4h-1.7zM312.6 405.8h1.7v1.4h-1.7zM312.9 399.5h1.7v1.4h-1.7zM316.4 399.7h1.7v1.4h-1.7zM312.4 383.9h1.7v1.4h-1.7zM313.7 410.2h1.7v1.4h-1.7zM315.6 390.6h1.7v1.4h-1.7zM314.6 388.9h1.7v1.4h-1.7zM314.1 387.2h1.7v1.4h-1.7zM316.3 389.8h1.7v1.4h-1.7zM313.2 400.9h1.7v1.4h-1.7zM312.7 378.1h1.7v1.4h-1.7zM313.8 410.1h1.7v1.4h-1.7zM313.5 385.7h1.7v1.4h-1.7zM313.1 400.1h1.7v1.4h-1.7zM313.0 396.9h1.7v1.4h-1.7zM314.2 374.9h1.7v1.4h-1.7zM313.2 409.8h1.7v1.4h-1.7zM312.7 406.6h1.7v1.4h-1.7zM312.0 394.9h1.7v1.4h-1.7zM313.7 402.2h1.7v1.4h-1.7zM311.6 378.6h1.7v1.4h-1.7zM313.6 414.1h1.7v1.4h-1.7zM314.1 411.6h1.7v1.4h-1.7zM314.3 417.2h1.7v1.4h-1.7zM312.0 411.9h1.7v1.4h-1.7zM312.9 382.9h1.7v1.4h-1.7zM324.1 364.1h1.7v1.4h-1.7zM326.4 364.5h1.7v1.4h-1.7zM325.1 364.0h1.7v1.4h-1.7zM322.7 364.2h1.7v1.4h-1.7zM323.1 364.0h1.7v1.4h-1.7zM322.6 364.0h1.7v1.4h-1.7zM323.0 363.9h1.7v1.4h-1.7zM323.1 364.6h1.7v1.4h-1.7zM325.6 364.3h1.7v1.4h-1.7zM326.2 364.6h1.7v1.4h-1.7zM322.0 363.8h1.7v1.4h-1.7zM323.2 393.1h1.7v1.4h-1.7zM326.5 371.7h1.7v1.4h-1.7zM325.0 404.0h1.7v1.4h-1.7zM322.8 403.0h1.7v1.4h-1.7zM325.8 374.5h1.7v1.4h-1.7zM324.8 390.6h1.7v1.4h-1.7zM325.3 376.9h1.7v1.4h-1.7zM324.8 371.1h1.7v1.4h-1.7zM321.7 388.8h1.7v1.4h-1.7zM323.2 388.8h1.7v1.4h-1.7zM322.5 412.6h1.7v1.4h-1.7zM323.6 391.6h1.7v1.4h-1.7zM323.3 407.8h1.7v1.4h-1.7zM322.3 409.9h1.7v1.4h-1.7zM322.4 407.5h1.7v1.4h-1.7zM323.6 395.9h1.7v1.4h-1.7zM322.7 405.1h1.7v1.4h-1.7zM322.6 403.8h1.7v1.4h-1.7zM324.8 408.5h1.7v1.4h-1.7zM326.4 404.4h1.7v1.4h-1.7zM322.4 405.0h1.7v1.4h-1.7zM322.0 404.8h1.7v1.4h-1.7zM326.1 376.4h1.7v1.4h-1.7zM321.7 404.8h1.7v1.4h-1.7zM323.2 399.3h1.7v1.4h-1.7zM325.6 410.3h1.7v1.4h-1.7zM324.1 406.1h1.7v1.4h-1.7zM326.0 403.1h1.7v1.4h-1.7zM323.3 409.3h1.7v1.4h-1.7zM323.6 408.6h1.7v1.4h-1.7zM323.4 391.1h1.7v1.4h-1.7zM321.7 375.1h1.7v1.4h-1.7zM326.1 389.8h1.7v1.4h-1.7zM325.1 390.6h1.7v1.4h-1.7zM325.1 392.7h1.7v1.4h-1.7zM322.2 383.9h1.7v1.4h-1.7zM324.7 377.2h1.7v1.4h-1.7zM326.2 373.2h1.7v1.4h-1.7zM324.3 407.4h1.7v1.4h-1.7zM325.1 376.7h1.7v1.4h-1.7zM322.0 400.4h1.7v1.4h-1.7zM323.5 374.7h1.7v1.4h-1.7zM322.1 398.7h1.7v1.4h-1.7zM321.6 382.8h1.7v1.4h-1.7zM326.2 381.2h1.7v1.4h-1.7zM325.7 371.7h1.7v1.4h-1.7zM322.5 372.7h1.7v1.4h-1.7zM325.1 394.5h1.7v1.4h-1.7zM325.3 405.0h1.7v1.4h-1.7zM325.1 375.1h1.7v1.4h-1.7zM323.8 372.0h1.7v1.4h-1.7zM325.5 386.5h1.7v1.4h-1.7zM323.8 408.2h1.7v1.4h-1.7zM326.4 396.1h1.7v1.4h-1.7zM323.4 407.4h1.7v1.4h-1.7zM325.7 379.7h1.7v1.4h-1.7zM323.8 410.6h1.7v1.4h-1.7zM326.4 409.2h1.7v1.4h-1.7zM323.9 377.5h1.7v1.4h-1.7zM325.9 379.3h1.7v1.4h-1.7zM324.5 387.0h1.7v1.4h-1.7zM325.7 386.1h1.7v1.4h-1.7zM323.4 406.4h1.7v1.4h-1.7zM325.1 412.7h1.7v1.4h-1.7zM322.1 376.1h1.7v1.4h-1.7zM324.9 391.6h1.7v1.4h-1.7zM326.0 390.2h1.7v1.4h-1.7zM321.7 390.7h1.7v1.4h-1.7zM322.7 404.4h1.7v1.4h-1.7zM325.5 407.1h1.7v1.4h-1.7zM322.0 394.4h1.7v1.4h-1.7zM322.5 411.9h1.7v1.4h-1.7zM322.2 398.1h1.7v1.4h-1.7zM325.1 379.1h1.7v1.4h-1.7zM324.4 375.7h1.7v1.4h-1.7zM321.8 382.6h1.7v1.4h-1.7zM321.9 389.2h1.7v1.4h-1.7zM324.9 409.6h1.7v1.4h-1.7zM322.8 390.7h1.7v1.4h-1.7zM324.9 383.9h1.7v1.4h-1.7zM323.0 386.2h1.7v1.4h-1.7zM325.7 385.9h1.7v1.4h-1.7zM325.3 376.8h1.7v1.4h-1.7zM323.0 382.9h1.7v1.4h-1.7zM322.6 377.3h1.7v1.4h-1.7zM323.5 405.0h1.7v1.4h-1.7zM324.8 412.5h1.7v1.4h-1.7zM323.1 383.4h1.7v1.4h-1.7zM322.7 391.4h1.7v1.4h-1.7zM322.1 404.5h1.7v1.4h-1.7zM323.6 372.4h1.7v1.4h-1.7zM324.0 388.7h1.7v1.4h-1.7zM322.5 383.4h1.7v1.4h-1.7zM324.8 412.7h1.7v1.4h-1.7zM324.5 381.5h1.7v1.4h-1.7zM321.7 384.3h1.7v1.4h-1.7zM322.7 388.5h1.7v1.4h-1.7zM323.7 382.4h1.7v1.4h-1.7zM322.3 409.8h1.7v1.4h-1.7zM326.2 401.2h1.7v1.4h-1.7zM326.1 394.6h1.7v1.4h-1.7zM325.2 389.2h1.7v1.4h-1.7zM324.8 406.4h1.7v1.4h-1.7zM325.0 404.2h1.7v1.4h-1.7zM324.6 385.1h1.7v1.4h-1.7zM325.5 408.4h1.7v1.4h-1.7zM322.7 377.6h1.7v1.4h-1.7zM321.5 380.9h1.7v1.4h-1.7zM322.4 379.1h1.7v1.4h-1.7zM322.3 384.0h1.7v1.4h-1.7zM322.3 411.1h1.7v1.4h-1.7zM321.8 371.1h1.7v1.4h-1.7zM326.1 386.7h1.7v1.4h-1.7zM325.2 384.1h1.7v1.4h-1.7zM321.6 372.2h1.7v1.4h-1.7zM326.1 372.7h1.7v1.4h-1.7zM323.7 381.7h1.7v1.4h-1.7zM324.7 386.5h1.7v1.4h-1.7zM325.5 379.6h1.7v1.4h-1.7zM324.2 412.0h1.7v1.4h-1.7zM324.1 410.8h1.7v1.4h-1.7zM321.7 407.8h1.7v1.4h-1.7zM323.4 412.7h1.7v1.4h-1.7zM325.0 381.4h1.7v1.4h-1.7zM325.3 377.7h1.7v1.4h-1.7zM324.1 401.8h1.7v1.4h-1.7zM322.3 373.0h1.7v1.4h-1.7zM325.7 378.6h1.7v1.4h-1.7zM325.3 390.5h1.7v1.4h-1.7zM322.5 406.9h1.7v1.4h-1.7zM323.4 381.7h1.7v1.4h-1.7zM326.0 412.3h1.7v1.4h-1.7zM323.1 411.7h1.7v1.4h-1.7zM322.0 404.1h1.7v1.4h-1.7zM324.4 380.9h1.7v1.4h-1.7zM323.5 384.1h1.7v1.4h-1.7zM324.9 388.4h1.7v1.4h-1.7zM323.6 398.7h1.7v1.4h-1.7zM323.2 374.1h1.7v1.4h-1.7zM324.0 407.1h1.7v1.4h-1.7zM322.7 382.0h1.7v1.4h-1.7zM326.1 377.5h1.7v1.4h-1.7zM326.3 383.4h1.7v1.4h-1.7zM322.5 401.1h1.7v1.4h-1.7zM325.9 390.3h1.7v1.4h-1.7zM322.8 376.0h1.7v1.4h-1.7zM321.5 400.3h1.7v1.4h-1.7zM325.2 383.9h1.7v1.4h-1.7zM323.9 402.9h1.7v1.4h-1.7zM325.0 399.3h1.7v1.4h-1.7zM326.1 380.9h1.7v1.4h-1.7zM326.4 397.0h1.7v1.4h-1.7zM323.1 399.4h1.7v1.4h-1.7zM323.0 388.0h1.7v1.4h-1.7zM325.6 404.6h1.7v1.4h-1.7zM324.5 404.6h1.7v1.4h-1.7zM325.8 387.0h1.7v1.4h-1.7zM321.9 410.3h1.7v1.4h-1.7zM321.8 389.4h1.7v1.4h-1.7zM322.0 393.3h1.7v1.4h-1.7zM325.4 372.1h1.7v1.4h-1.7zM324.0 387.6h1.7v1.4h-1.7zM324.8 408.5h1.7v1.4h-1.7zM324.9 373.1h1.7v1.4h-1.7zM323.3 390.2h1.7v1.4h-1.7zM322.3 406.9h1.7v1.4h-1.7zM323.3 385.8h1.7v1.4h-1.7zM322.6 393.3h1.7v1.4h-1.7zM325.5 375.3h1.7v1.4h-1.7zM324.0 383.1h1.7v1.4h-1.7zM321.8 387.4h1.7v1.4h-1.7zM324.7 396.5h1.7v1.4h-1.7zM326.5 400.3h1.7v1.4h-1.7zM326.1 401.3h1.7v1.4h-1.7zM324.9 408.5h1.7v1.4h-1.7zM325.8 402.5h1.7v1.4h-1.7zM323.1 382.5h1.7v1.4h-1.7zM325.8 371.7h1.7v1.4h-1.7zM323.4 406.0h1.7v1.4h-1.7zM323.0 391.6h1.7v1.4h-1.7zM323.2 397.6h1.7v1.4h-1.7zM325.6 373.1h1.7v1.4h-1.7zM323.5 406.7h1.7v1.4h-1.7zM323.6 411.8h1.7v1.4h-1.7zM322.8 391.9h1.7v1.4h-1.7zM322.4 407.2h1.7v1.4h-1.7zM323.9 405.4h1.7v1.4h-1.7zM324.9 381.7h1.7v1.4h-1.7zM325.8 373.5h1.7v1.4h-1.7zM326.1 403.7h1.7v1.4h-1.7zM322.7 394.9h1.7v1.4h-1.7zM323.2 390.4h1.7v1.4h-1.7zM326.2 389.7h1.7v1.4h-1.7zM324.4 372.5h1.7v1.4h-1.7zM321.8 390.7h1.7v1.4h-1.7zM323.6 410.0h1.7v1.4h-1.7zM324.3 408.1h1.7v1.4h-1.7zM324.4 409.9h1.7v1.4h-1.7zM323.1 371.7h1.7v1.4h-1.7zM325.2 398.2h1.7v1.4h-1.7zM322.5 379.7h1.7v1.4h-1.7zM323.8 408.5h1.7v1.4h-1.7zM324.8 388.8h1.7v1.4h-1.7zM324.4 385.3h1.7v1.4h-1.7zM323.5 378.3h1.7v1.4h-1.7zM325.0 371.6h1.7v1.4h-1.7zM324.1 374.3h1.7v1.4h-1.7zM322.2 402.6h1.7v1.4h-1.7zM325.8 392.1h1.7v1.4h-1.7zM326.3 400.5h1.7v1.4h-1.7zM324.2 396.2h1.7v1.4h-1.7zM321.5 374.7h1.7v1.4h-1.7zM325.2 386.4h1.7v1.4h-1.7zM326.3 381.5h1.7v1.4h-1.7zM322.9 379.5h1.7v1.4h-1.7zM326.1 393.6h1.7v1.4h-1.7zM322.8 373.3h1.7v1.4h-1.7zM324.4 371.3h1.7v1.4h-1.7zM325.8 377.3h1.7v1.4h-1.7zM325.3 407.0h1.7v1.4h-1.7zM322.9 395.3h1.7v1.4h-1.7zM324.9 389.9h1.7v1.4h-1.7zM323.6 407.9h1.7v1.4h-1.7zM322.8 394.5h1.7v1.4h-1.7zM321.5 394.6h1.7v1.4h-1.7zM326.3 387.3h1.7v1.4h-1.7zM325.2 384.4h1.7v1.4h-1.7zM323.4 387.2h1.7v1.4h-1.7zM325.9 384.4h1.7v1.4h-1.7zM321.7 393.7h1.7v1.4h-1.7zM324.4 396.2h1.7v1.4h-1.7zM323.8 383.1h1.7v1.4h-1.7zM325.1 381.1h1.7v1.4h-1.7zM322.8 378.1h1.7v1.4h-1.7zM321.8 379.3h1.7v1.4h-1.7zM324.9 387.3h1.7v1.4h-1.7zM323.8 380.3h1.7v1.4h-1.7zM322.8 399.6h1.7v1.4h-1.7zM326.2 376.5h1.7v1.4h-1.7zM324.9 411.1h1.7v1.4h-1.7zM324.2 408.3h1.7v1.4h-1.7zM322.4 403.7h1.7v1.4h-1.7zM322.0 379.7h1.7v1.4h-1.7zM322.0 370.7h1.7v1.4h-1.7zM325.3 385.3h1.7v1.4h-1.7zM323.3 401.5h1.7v1.4h-1.7zM322.8 406.8h1.7v1.4h-1.7zM322.4 411.8h1.7v1.4h-1.7zM325.9 391.7h1.7v1.4h-1.7zM326.2 406.3h1.7v1.4h-1.7zM326.2 383.1h1.7v1.4h-1.7zM323.6 383.4h1.7v1.4h-1.7zM323.7 394.0h1.7v1.4h-1.7zM325.8 384.5h1.7v1.4h-1.7zM324.3 382.3h1.7v1.4h-1.7zM323.7 372.8h1.7v1.4h-1.7zM324.2 396.6h1.7v1.4h-1.7zM324.4 407.3h1.7v1.4h-1.7zM324.1 382.2h1.7v1.4h-1.7zM326.2 387.6h1.7v1.4h-1.7zM322.5 392.1h1.7v1.4h-1.7zM325.0 381.9h1.7v1.4h-1.7zM322.7 416.5h1.7v1.4h-1.7zM324.3 418.0h1.7v1.4h-1.7zM325.5 416.9h1.7v1.4h-1.7zM334.4 363.2h1.7v1.4h-1.7zM332.4 363.2h1.7v1.4h-1.7zM334.6 363.7h1.7v1.4h-1.7zM333.5 363.8h1.7v1.4h-1.7zM335.3 363.8h1.7v1.4h-1.7zM334.6 363.5h1.7v1.4h-1.7zM333.5 363.7h1.7v1.4h-1.7zM332.9 363.3h1.7v1.4h-1.7zM336.3 363.8h1.7v1.4h-1.7zM334.6 363.8h1.7v1.4h-1.7zM331.7 363.7h1.7v1.4h-1.7zM334.3 382.1h1.7v1.4h-1.7zM332.8 397.8h1.7v1.4h-1.7zM335.9 400.6h1.7v1.4h-1.7zM331.6 394.0h1.7v1.4h-1.7zM333.0 379.2h1.7v1.4h-1.7zM331.6 393.8h1.7v1.4h-1.7zM332.7 383.7h1.7v1.4h-1.7zM333.9 406.9h1.7v1.4h-1.7zM332.7 393.6h1.7v1.4h-1.7zM334.6 400.9h1.7v1.4h-1.7zM335.6 379.3h1.7v1.4h-1.7zM335.7 373.0h1.7v1.4h-1.7zM333.7 400.2h1.7v1.4h-1.7zM335.9 384.2h1.7v1.4h-1.7zM334.8 398.7h1.7v1.4h-1.7zM331.6 400.8h1.7v1.4h-1.7zM335.5 375.7h1.7v1.4h-1.7zM333.0 387.8h1.7v1.4h-1.7zM336.0 409.3h1.7v1.4h-1.7zM332.3 386.2h1.7v1.4h-1.7zM332.0 372.1h1.7v1.4h-1.7zM332.4 408.4h1.7v1.4h-1.7zM335.9 378.1h1.7v1.4h-1.7zM334.5 396.2h1.7v1.4h-1.7zM333.6 404.8h1.7v1.4h-1.7zM331.8 381.1h1.7v1.4h-1.7zM331.9 407.4h1.7v1.4h-1.7zM335.4 388.5h1.7v1.4h-1.7zM331.8 405.0h1.7v1.4h-1.7zM335.3 405.7h1.7v1.4h-1.7zM336.1 397.3h1.7v1.4h-1.7zM333.8 402.9h1.7v1.4h-1.7zM332.0 404.4h1.7v1.4h-1.7zM332.9 388.0h1.7v1.4h-1.7zM335.7 370.2h1.7v1.4h-1.7zM333.0 403.4h1.7v1.4h-1.7zM333.4 407.1h1.7v1.4h-1.7zM334.9 379.3h1.7v1.4h-1.7zM333.8 384.5h1.7v1.4h-1.7zM334.7 399.3h1.7v1.4h-1.7zM333.9 373.0h1.7v1.4h-1.7zM335.7 377.3h1.7v1.4h-1.7zM334.5 403.8h1.7v1.4h-1.7zM333.7 372.0h1.7v1.4h-1.7zM334.1 374.0h1.7v1.4h-1.7zM332.2 378.5h1.7v1.4h-1.7zM332.2 393.7h1.7v1.4h-1.7zM335.1 388.1h1.7v1.4h-1.7zM336.1 372.9h1.7v1.4h-1.7zM333.0 383.2h1.7v1.4h-1.7zM334.0 397.5h1.7v1.4h-1.7zM332.7 387.4h1.7v1.4h-1.7zM333.3 383.9h1.7v1.4h-1.7zM331.6 400.7h1.7v1.4h-1.7zM331.5 387.3h1.7v1.4h-1.7zM332.5 387.1h1.7v1.4h-1.7zM334.9 402.8h1.7v1.4h-1.7zM335.7 395.7h1.7v1.4h-1.7zM332.8 370.3h1.7v1.4h-1.7zM332.1 406.3h1.7v1.4h-1.7zM333.3 385.5h1.7v1.4h-1.7zM333.1 383.7h1.7v1.4h-1.7zM332.3 381.5h1.7v1.4h-1.7zM333.7 388.7h1.7v1.4h-1.7zM331.7 374.5h1.7v1.4h-1.7zM331.5 389.2h1.7v1.4h-1.7zM334.6 406.2h1.7v1.4h-1.7zM333.4 394.9h1.7v1.4h-1.7zM335.3 392.0h1.7v1.4h-1.7zM334.1 376.0h1.7v1.4h-1.7zM334.8 399.9h1.7v1.4h-1.7zM332.9 397.1h1.7v1.4h-1.7zM332.4 374.4h1.7v1.4h-1.7zM333.0 392.4h1.7v1.4h-1.7zM333.3 380.2h1.7v1.4h-1.7zM336.2 398.7h1.7v1.4h-1.7zM332.8 372.8h1.7v1.4h-1.7zM334.9 407.9h1.7v1.4h-1.7zM335.0 398.1h1.7v1.4h-1.7zM336.2 398.5h1.7v1.4h-1.7zM332.0 389.3h1.7v1.4h-1.7zM333.3 393.7h1.7v1.4h-1.7zM332.1 395.7h1.7v1.4h-1.7zM334.9 381.1h1.7v1.4h-1.7zM334.5 384.1h1.7v1.4h-1.7zM334.7 389.2h1.7v1.4h-1.7zM336.2 389.1h1.7v1.4h-1.7zM331.6 372.7h1.7v1.4h-1.7zM334.8 373.8h1.7v1.4h-1.7zM335.2 390.3h1.7v1.4h-1.7zM333.1 386.7h1.7v1.4h-1.7zM335.6 392.1h1.7v1.4h-1.7zM333.4 389.3h1.7v1.4h-1.7zM334.3 388.6h1.7v1.4h-1.7zM334.9 386.7h1.7v1.4h-1.7zM332.8 374.8h1.7v1.4h-1.7zM333.6 377.4h1.7v1.4h-1.7zM332.3 377.1h1.7v1.4h-1.7zM333.1 407.4h1.7v1.4h-1.7zM333.9 381.3h1.7v1.4h-1.7zM333.7 388.8h1.7v1.4h-1.7zM331.6 403.2h1.7v1.4h-1.7zM333.9 410.7h1.7v1.4h-1.7zM334.5 379.9h1.7v1.4h-1.7zM336.3 374.5h1.7v1.4h-1.7zM332.2 375.9h1.7v1.4h-1.7zM332.1 375.4h1.7v1.4h-1.7zM335.9 375.8h1.7v1.4h-1.7zM333.8 375.8h1.7v1.4h-1.7zM332.9 373.6h1.7v1.4h-1.7zM333.2 381.5h1.7v1.4h-1.7zM335.0 410.7h1.7v1.4h-1.7zM332.3 389.1h1.7v1.4h-1.7zM334.4 410.6h1.7v1.4h-1.7zM331.7 396.9h1.7v1.4h-1.7zM333.4 390.6h1.7v1.4h-1.7zM334.9 398.5h1.7v1.4h-1.7zM333.3 403.4h1.7v1.4h-1.7zM334.3 379.4h1.7v1.4h-1.7zM332.3 378.1h1.7v1.4h-1.7zM335.4 405.4h1.7v1.4h-1.7zM332.2 394.3h1.7v1.4h-1.7zM331.7 372.5h1.7v1.4h-1.7zM334.8 392.8h1.7v1.4h-1.7zM333.5 387.8h1.7v1.4h-1.7zM333.6 385.4h1.7v1.4h-1.7zM332.8 408.4h1.7v1.4h-1.7zM331.7 394.2h1.7v1.4h-1.7zM332.2 384.9h1.7v1.4h-1.7zM331.6 375.8h1.7v1.4h-1.7zM334.4 371.2h1.7v1.4h-1.7zM333.4 395.1h1.7v1.4h-1.7zM334.2 374.1h1.7v1.4h-1.7zM333.5 383.3h1.7v1.4h-1.7zM335.4 405.6h1.7v1.4h-1.7zM334.3 402.2h1.7v1.4h-1.7zM333.4 410.2h1.7v1.4h-1.7zM334.9 406.6h1.7v1.4h-1.7zM332.2 398.5h1.7v1.4h-1.7zM334.7 398.5h1.7v1.4h-1.7zM335.8 379.3h1.7v1.4h-1.7zM332.0 393.0h1.7v1.4h-1.7zM332.5 409.8h1.7v1.4h-1.7zM335.9 389.7h1.7v1.4h-1.7zM335.4 395.2h1.7v1.4h-1.7zM335.9 392.6h1.7v1.4h-1.7zM332.4 410.8h1.7v1.4h-1.7zM332.7 374.6h1.7v1.4h-1.7zM335.3 396.8h1.7v1.4h-1.7zM335.7 379.0h1.7v1.4h-1.7zM336.0 404.1h1.7v1.4h-1.7zM334.6 370.5h1.7v1.4h-1.7zM335.2 385.2h1.7v1.4h-1.7zM332.0 383.4h1.7v1.4h-1.7zM336.1 382.9h1.7v1.4h-1.7zM333.7 407.0h1.7v1.4h-1.7zM334.9 385.2h1.7v1.4h-1.7zM333.0 392.5h1.7v1.4h-1.7zM334.0 399.8h1.7v1.4h-1.7zM334.6 377.4h1.7v1.4h-1.7zM335.7 402.9h1.7v1.4h-1.7zM333.9 375.9h1.7v1.4h-1.7zM333.6 405.4h1.7v1.4h-1.7zM332.7 383.1h1.7v1.4h-1.7zM334.8 400.4h1.7v1.4h-1.7zM335.5 386.2h1.7v1.4h-1.7zM335.0 379.4h1.7v1.4h-1.7zM331.6 398.3h1.7v1.4h-1.7zM332.5 406.0h1.7v1.4h-1.7zM333.0 383.9h1.7v1.4h-1.7zM335.6 371.0h1.7v1.4h-1.7zM336.2 383.4h1.7v1.4h-1.7zM331.6 383.7h1.7v1.4h-1.7zM332.0 380.3h1.7v1.4h-1.7zM333.9 393.0h1.7v1.4h-1.7zM332.3 411.0h1.7v1.4h-1.7zM332.1 374.3h1.7v1.4h-1.7zM332.7 369.9h1.7v1.4h-1.7zM335.7 376.3h1.7v1.4h-1.7zM331.4 395.5h1.7v1.4h-1.7zM333.1 374.8h1.7v1.4h-1.7zM333.7 377.5h1.7v1.4h-1.7zM331.8 390.8h1.7v1.4h-1.7zM332.6 384.1h1.7v1.4h-1.7zM333.8 410.8h1.7v1.4h-1.7zM334.4 393.3h1.7v1.4h-1.7zM332.9 388.9h1.7v1.4h-1.7zM332.7 404.8h1.7v1.4h-1.7zM336.0 404.4h1.7v1.4h-1.7zM333.4 399.5h1.7v1.4h-1.7zM332.8 402.5h1.7v1.4h-1.7zM336.1 377.0h1.7v1.4h-1.7zM331.8 410.8h1.7v1.4h-1.7zM334.2 402.3h1.7v1.4h-1.7zM335.6 403.0h1.7v1.4h-1.7zM331.9 380.2h1.7v1.4h-1.7zM333.2 405.8h1.7v1.4h-1.7zM335.0 378.9h1.7v1.4h-1.7zM332.1 402.7h1.7v1.4h-1.7zM335.7 370.8h1.7v1.4h-1.7zM333.0 374.5h1.7v1.4h-1.7zM333.5 370.6h1.7v1.4h-1.7zM333.3 376.9h1.7v1.4h-1.7zM331.6 409.9h1.7v1.4h-1.7zM332.1 408.1h1.7v1.4h-1.7zM335.0 384.2h1.7v1.4h-1.7zM333.2 385.3h1.7v1.4h-1.7zM332.7 393.6h1.7v1.4h-1.7zM332.0 394.2h1.7v1.4h-1.7zM333.8 377.7h1.7v1.4h-1.7zM336.1 381.8h1.7v1.4h-1.7zM334.5 399.6h1.7v1.4h-1.7zM335.0 393.8h1.7v1.4h-1.7zM333.7 387.4h1.7v1.4h-1.7zM335.1 372.5h1.7v1.4h-1.7zM334.2 404.5h1.7v1.4h-1.7zM333.6 389.8h1.7v1.4h-1.7zM334.8 402.2h1.7v1.4h-1.7zM333.0 394.7h1.7v1.4h-1.7zM335.4 395.3h1.7v1.4h-1.7zM332.4 410.9h1.7v1.4h-1.7zM333.1 396.7h1.7v1.4h-1.7zM331.6 398.0h1.7v1.4h-1.7zM334.1 407.3h1.7v1.4h-1.7zM332.5 370.8h1.7v1.4h-1.7zM333.0 387.6h1.7v1.4h-1.7zM334.8 382.6h1.7v1.4h-1.7zM335.2 405.0h1.7v1.4h-1.7zM331.5 410.5h1.7v1.4h-1.7zM331.7 380.6h1.7v1.4h-1.7zM331.8 402.9h1.7v1.4h-1.7zM336.1 380.9h1.7v1.4h-1.7zM334.2 409.6h1.7v1.4h-1.7zM335.2 380.6h1.7v1.4h-1.7zM333.7 407.7h1.7v1.4h-1.7zM335.7 389.8h1.7v1.4h-1.7zM334.3 372.8h1.7v1.4h-1.7zM333.3 403.1h1.7v1.4h-1.7zM331.6 378.0h1.7v1.4h-1.7zM334.2 370.7h1.7v1.4h-1.7zM332.3 400.9h1.7v1.4h-1.7zM332.3 390.3h1.7v1.4h-1.7zM336.0 391.6h1.7v1.4h-1.7zM334.8 372.6h1.7v1.4h-1.7zM334.0 391.8h1.7v1.4h-1.7zM333.8 389.7h1.7v1.4h-1.7zM331.7 395.3h1.7v1.4h-1.7zM333.1 398.9h1.7v1.4h-1.7zM332.6 407.5h1.7v1.4h-1.7zM333.7 404.2h1.7v1.4h-1.7zM334.0 381.5h1.7v1.4h-1.7zM333.5 381.5h1.7v1.4h-1.7zM334.0 384.8h1.7v1.4h-1.7zM332.7 411.0h1.7v1.4h-1.7zM336.2 390.9h1.7v1.4h-1.7zM334.2 440.0h1.7v1.4h-1.7zM334.5 425.7h1.7v1.4h-1.7zM333.9 439.3h1.7v1.4h-1.7zM331.7 425.6h1.7v1.4h-1.7zM331.8 430.9h1.7v1.4h-1.7zM331.5 426.6h1.7v1.4h-1.7zM332.0 423.1h1.7v1.4h-1.7zM336.2 419.3h1.7v1.4h-1.7zM333.2 439.4h1.7v1.4h-1.7zM332.4 419.1h1.7v1.4h-1.7zM333.5 432.7h1.7v1.4h-1.7zM332.4 420.1h1.7v1.4h-1.7zM331.7 420.6h1.7v1.4h-1.7zM333.3 432.0h1.7v1.4h-1.7zM342.7 364.2h1.7v1.4h-1.7zM345.1 364.0h1.7v1.4h-1.7zM344.8 364.4h1.7v1.4h-1.7zM345.8 364.4h1.7v1.4h-1.7zM344.4 364.3h1.7v1.4h-1.7zM343.2 364.5h1.7v1.4h-1.7zM342.2 364.1h1.7v1.4h-1.7zM341.9 364.2h1.7v1.4h-1.7zM345.7 364.3h1.7v1.4h-1.7zM341.4 364.5h1.7v1.4h-1.7zM341.6 364.0h1.7v1.4h-1.7zM343.6 370.1h1.7v1.4h-1.7zM345.2 411.9h1.7v1.4h-1.7zM346.1 409.4h1.7v1.4h-1.7zM343.4 383.2h1.7v1.4h-1.7zM342.8 408.3h1.7v1.4h-1.7zM345.4 380.5h1.7v1.4h-1.7zM343.9 409.6h1.7v1.4h-1.7zM342.4 413.4h1.7v1.4h-1.7zM342.6 390.5h1.7v1.4h-1.7zM342.3 428.6h1.7v1.4h-1.7zM341.4 388.1h1.7v1.4h-1.7zM344.3 400.6h1.7v1.4h-1.7zM342.3 400.6h1.7v1.4h-1.7zM343.6 403.1h1.7v1.4h-1.7zM343.5 379.2h1.7v1.4h-1.7zM344.7 389.4h1.7v1.4h-1.7zM345.3 389.8h1.7v1.4h-1.7zM345.6 384.3h1.7v1.4h-1.7zM344.5 429.9h1.7v1.4h-1.7zM342.7 419.4h1.7v1.4h-1.7zM344.0 368.9h1.7v1.4h-1.7zM344.2 392.4h1.7v1.4h-1.7zM341.6 419.3h1.7v1.4h-1.7zM344.7 427.7h1.7v1.4h-1.7zM341.9 391.5h1.7v1.4h-1.7zM344.1 390.4h1.7v1.4h-1.7zM341.9 392.0h1.7v1.4h-1.7zM343.4 399.8h1.7v1.4h-1.7zM343.4 395.2h1.7v1.4h-1.7zM343.7 411.8h1.7v1.4h-1.7zM342.5 399.0h1.7v1.4h-1.7zM345.4 417.8h1.7v1.4h-1.7zM345.2 427.1h1.7v1.4h-1.7zM343.7 421.5h1.7v1.4h-1.7zM345.2 391.1h1.7v1.4h-1.7zM345.1 399.2h1.7v1.4h-1.7zM344.1 378.8h1.7v1.4h-1.7zM344.9 389.6h1.7v1.4h-1.7zM343.4 401.8h1.7v1.4h-1.7zM345.0 430.2h1.7v1.4h-1.7zM345.6 410.7h1.7v1.4h-1.7zM342.7 402.9h1.7v1.4h-1.7zM344.4 390.9h1.7v1.4h-1.7zM345.8 388.3h1.7v1.4h-1.7zM343.9 430.0h1.7v1.4h-1.7zM342.3 395.3h1.7v1.4h-1.7zM345.8 427.6h1.7v1.4h-1.7zM343.5 412.7h1.7v1.4h-1.7zM344.1 374.2h1.7v1.4h-1.7zM345.8 423.9h1.7v1.4h-1.7zM345.8 382.2h1.7v1.4h-1.7zM344.0 420.4h1.7v1.4h-1.7zM345.5 422.7h1.7v1.4h-1.7zM341.5 411.7h1.7v1.4h-1.7zM343.0 377.6h1.7v1.4h-1.7zM343.8 373.7h1.7v1.4h-1.7zM342.7 396.0h1.7v1.4h-1.7zM343.2 389.0h1.7v1.4h-1.7zM343.7 400.7h1.7v1.4h-1.7zM342.0 383.3h1.7v1.4h-1.7zM342.9 370.0h1.7v1.4h-1.7zM343.8 425.6h1.7v1.4h-1.7zM342.5 424.3h1.7v1.4h-1.7zM343.1 397.1h1.7v1.4h-1.7zM345.1 396.5h1.7v1.4h-1.7zM343.7 426.6h1.7v1.4h-1.7zM341.6 396.5h1.7v1.4h-1.7zM342.7 400.0h1.7v1.4h-1.7zM344.0 412.1h1.7v1.4h-1.7zM342.7 427.1h1.7v1.4h-1.7zM346.0 417.7h1.7v1.4h-1.7zM344.3 418.8h1.7v1.4h-1.7zM341.5 407.8h1.7v1.4h-1.7zM343.5 389.2h1.7v1.4h-1.7zM344.6 392.3h1.7v1.4h-1.7zM345.7 375.4h1.7v1.4h-1.7zM342.5 398.5h1.7v1.4h-1.7zM341.9 376.1h1.7v1.4h-1.7zM344.6 385.2h1.7v1.4h-1.7zM341.9 413.0h1.7v1.4h-1.7zM345.5 407.3h1.7v1.4h-1.7zM344.3 386.5h1.7v1.4h-1.7zM345.8 418.1h1.7v1.4h-1.7zM345.3 402.7h1.7v1.4h-1.7zM342.4 398.4h1.7v1.4h-1.7zM343.2 408.0h1.7v1.4h-1.7zM341.9 381.4h1.7v1.4h-1.7zM344.0 377.4h1.7v1.4h-1.7zM342.0 402.9h1.7v1.4h-1.7zM343.5 420.5h1.7v1.4h-1.7zM346.1 403.7h1.7v1.4h-1.7zM344.4 395.4h1.7v1.4h-1.7zM344.3 392.4h1.7v1.4h-1.7zM345.6 400.8h1.7v1.4h-1.7zM342.4 395.1h1.7v1.4h-1.7zM345.5 370.7h1.7v1.4h-1.7zM346.2 415.9h1.7v1.4h-1.7zM343.7 386.4h1.7v1.4h-1.7zM342.5 390.5h1.7v1.4h-1.7zM344.9 408.4h1.7v1.4h-1.7zM343.7 392.7h1.7v1.4h-1.7zM343.3 377.7h1.7v1.4h-1.7zM343.1 412.2h1.7v1.4h-1.7zM341.3 428.2h1.7v1.4h-1.7zM341.3 396.9h1.7v1.4h-1.7zM342.7 402.5h1.7v1.4h-1.7zM342.5 406.7h1.7v1.4h-1.7zM341.4 425.3h1.7v1.4h-1.7zM345.8 423.6h1.7v1.4h-1.7zM344.7 377.3h1.7v1.4h-1.7zM344.4 405.1h1.7v1.4h-1.7zM345.2 397.8h1.7v1.4h-1.7zM345.2 388.1h1.7v1.4h-1.7zM341.4 378.5h1.7v1.4h-1.7zM346.2 389.3h1.7v1.4h-1.7zM341.9 379.1h1.7v1.4h-1.7zM346.0 419.6h1.7v1.4h-1.7zM343.4 372.0h1.7v1.4h-1.7zM345.2 368.9h1.7v1.4h-1.7zM345.0 395.4h1.7v1.4h-1.7zM343.0 369.7h1.7v1.4h-1.7zM344.5 423.8h1.7v1.4h-1.7zM343.5 423.9h1.7v1.4h-1.7zM342.2 389.2h1.7v1.4h-1.7zM343.4 380.4h1.7v1.4h-1.7zM346.2 401.2h1.7v1.4h-1.7zM341.2 408.8h1.7v1.4h-1.7zM342.0 390.9h1.7v1.4h-1.7zM345.3 390.1h1.7v1.4h-1.7zM342.6 422.9h1.7v1.4h-1.7zM342.5 428.5h1.7v1.4h-1.7zM341.4 373.0h1.7v1.4h-1.7zM346.2 407.5h1.7v1.4h-1.7zM344.0 418.7h1.7v1.4h-1.7zM342.7 423.5h1.7v1.4h-1.7zM342.6 423.1h1.7v1.4h-1.7zM343.7 425.3h1.7v1.4h-1.7zM346.0 419.1h1.7v1.4h-1.7zM341.9 397.7h1.7v1.4h-1.7zM345.8 396.6h1.7v1.4h-1.7zM342.3 398.1h1.7v1.4h-1.7zM341.9 373.5h1.7v1.4h-1.7zM344.2 369.3h1.7v1.4h-1.7zM343.3 388.6h1.7v1.4h-1.7zM345.2 391.5h1.7v1.4h-1.7zM343.4 408.8h1.7v1.4h-1.7zM342.1 398.8h1.7v1.4h-1.7zM342.2 393.9h1.7v1.4h-1.7zM345.3 428.1h1.7v1.4h-1.7zM346.0 419.0h1.7v1.4h-1.7zM341.4 395.6h1.7v1.4h-1.7zM343.1 392.4h1.7v1.4h-1.7zM343.5 411.4h1.7v1.4h-1.7zM341.3 406.0h1.7v1.4h-1.7zM341.5 415.9h1.7v1.4h-1.7zM345.9 410.8h1.7v1.4h-1.7zM345.1 430.5h1.7v1.4h-1.7zM345.8 386.9h1.7v1.4h-1.7zM344.3 399.0h1.7v1.4h-1.7zM343.8 395.4h1.7v1.4h-1.7zM341.3 389.6h1.7v1.4h-1.7zM341.4 424.5h1.7v1.4h-1.7zM345.2 372.3h1.7v1.4h-1.7zM344.4 424.1h1.7v1.4h-1.7zM344.4 410.2h1.7v1.4h-1.7zM343.6 393.2h1.7v1.4h-1.7zM342.9 374.2h1.7v1.4h-1.7zM342.8 381.9h1.7v1.4h-1.7zM343.4 392.2h1.7v1.4h-1.7zM342.8 431.2h1.7v1.4h-1.7zM342.4 393.2h1.7v1.4h-1.7zM345.3 391.7h1.7v1.4h-1.7zM341.5 404.1h1.7v1.4h-1.7zM342.9 418.9h1.7v1.4h-1.7zM342.9 389.6h1.7v1.4h-1.7zM343.8 408.2h1.7v1.4h-1.7zM341.9 372.7h1.7v1.4h-1.7zM345.0 384.5h1.7v1.4h-1.7zM345.9 419.8h1.7v1.4h-1.7zM343.9 373.7h1.7v1.4h-1.7zM342.5 369.9h1.7v1.4h-1.7zM344.1 404.0h1.7v1.4h-1.7zM344.9 391.4h1.7v1.4h-1.7zM345.8 423.8h1.7v1.4h-1.7zM344.7 400.5h1.7v1.4h-1.7zM345.9 400.5h1.7v1.4h-1.7zM341.2 424.8h1.7v1.4h-1.7zM341.7 391.7h1.7v1.4h-1.7zM343.1 422.7h1.7v1.4h-1.7zM344.2 403.2h1.7v1.4h-1.7zM346.2 424.6h1.7v1.4h-1.7zM344.5 395.9h1.7v1.4h-1.7zM342.4 424.2h1.7v1.4h-1.7zM344.8 426.0h1.7v1.4h-1.7zM343.3 428.9h1.7v1.4h-1.7zM341.6 386.9h1.7v1.4h-1.7zM346.0 417.4h1.7v1.4h-1.7zM342.1 390.9h1.7v1.4h-1.7zM342.3 408.5h1.7v1.4h-1.7zM344.7 406.7h1.7v1.4h-1.7zM343.2 372.7h1.7v1.4h-1.7zM342.9 427.1h1.7v1.4h-1.7zM344.9 406.2h1.7v1.4h-1.7zM344.2 393.6h1.7v1.4h-1.7zM341.3 381.6h1.7v1.4h-1.7zM342.8 369.6h1.7v1.4h-1.7zM343.0 388.7h1.7v1.4h-1.7zM343.3 394.8h1.7v1.4h-1.7zM345.1 401.7h1.7v1.4h-1.7zM345.7 404.3h1.7v1.4h-1.7zM342.8 397.0h1.7v1.4h-1.7zM344.6 378.2h1.7v1.4h-1.7zM344.8 429.4h1.7v1.4h-1.7zM344.9 412.0h1.7v1.4h-1.7zM345.4 369.5h1.7v1.4h-1.7zM344.0 393.0h1.7v1.4h-1.7zM342.1 393.3h1.7v1.4h-1.7zM341.5 412.4h1.7v1.4h-1.7zM341.7 392.4h1.7v1.4h-1.7zM341.7 431.3h1.7v1.4h-1.7zM342.4 403.1h1.7v1.4h-1.7zM341.3 387.0h1.7v1.4h-1.7zM343.3 369.9h1.7v1.4h-1.7zM345.6 409.4h1.7v1.4h-1.7zM341.4 396.9h1.7v1.4h-1.7zM341.8 395.3h1.7v1.4h-1.7zM345.1 381.7h1.7v1.4h-1.7zM345.4 399.4h1.7v1.4h-1.7zM344.4 430.3h1.7v1.4h-1.7zM342.1 414.6h1.7v1.4h-1.7zM345.8 400.1h1.7v1.4h-1.7zM342.4 417.6h1.7v1.4h-1.7zM343.5 370.9h1.7v1.4h-1.7zM345.7 377.7h1.7v1.4h-1.7zM344.9 379.7h1.7v1.4h-1.7zM343.5 401.5h1.7v1.4h-1.7zM342.6 404.5h1.7v1.4h-1.7zM346.2 388.7h1.7v1.4h-1.7zM344.3 427.9h1.7v1.4h-1.7zM342.0 424.3h1.7v1.4h-1.7zM345.8 408.3h1.7v1.4h-1.7zM341.5 385.6h1.7v1.4h-1.7zM342.4 401.0h1.7v1.4h-1.7zM342.3 427.6h1.7v1.4h-1.7zM346.1 373.7h1.7v1.4h-1.7zM345.3 395.5h1.7v1.4h-1.7zM343.8 397.1h1.7v1.4h-1.7zM343.0 400.5h1.7v1.4h-1.7zM344.2 388.5h1.7v1.4h-1.7zM342.4 392.0h1.7v1.4h-1.7zM342.2 408.4h1.7v1.4h-1.7zM344.0 415.1h1.7v1.4h-1.7zM344.4 408.0h1.7v1.4h-1.7zM342.4 395.0h1.7v1.4h-1.7zM341.7 418.9h1.7v1.4h-1.7zM345.8 410.5h1.7v1.4h-1.7zM343.8 388.6h1.7v1.4h-1.7zM343.9 417.3h1.7v1.4h-1.7zM343.7 405.7h1.7v1.4h-1.7zM341.6 382.5h1.7v1.4h-1.7zM344.0 423.9h1.7v1.4h-1.7zM342.6 400.6h1.7v1.4h-1.7zM342.9 375.9h1.7v1.4h-1.7zM342.7 411.7h1.7v1.4h-1.7zM343.1 397.0h1.7v1.4h-1.7zM343.9 406.5h1.7v1.4h-1.7zM344.3 412.2h1.7v1.4h-1.7zM345.7 409.3h1.7v1.4h-1.7zM344.1 425.8h1.7v1.4h-1.7zM343.4 402.2h1.7v1.4h-1.7zM341.6 408.6h1.7v1.4h-1.7zM344.2 427.2h1.7v1.4h-1.7zM341.6 383.9h1.7v1.4h-1.7zM345.0 418.2h1.7v1.4h-1.7zM344.6 383.5h1.7v1.4h-1.7zM345.8 403.7h1.7v1.4h-1.7zM345.4 420.8h1.7v1.4h-1.7zM344.5 400.7h1.7v1.4h-1.7zM344.5 376.5h1.7v1.4h-1.7zM345.0 427.3h1.7v1.4h-1.7zM344.3 409.4h1.7v1.4h-1.7zM344.9 410.6h1.7v1.4h-1.7zM341.9 421.4h1.7v1.4h-1.7zM345.2 383.7h1.7v1.4h-1.7zM344.0 375.4h1.7v1.4h-1.7zM342.5 392.1h1.7v1.4h-1.7zM343.7 418.0h1.7v1.4h-1.7zM345.9 416.4h1.7v1.4h-1.7zM342.8 389.1h1.7v1.4h-1.7zM341.7 403.2h1.7v1.4h-1.7zM343.1 404.2h1.7v1.4h-1.7zM343.3 410.3h1.7v1.4h-1.7zM345.0 395.1h1.7v1.4h-1.7zM343.7 411.3h1.7v1.4h-1.7zM342.2 408.4h1.7v1.4h-1.7zM341.8 387.9h1.7v1.4h-1.7zM343.4 399.9h1.7v1.4h-1.7zM343.2 423.6h1.7v1.4h-1.7zM342.6 419.5h1.7v1.4h-1.7zM344.9 381.8h1.7v1.4h-1.7zM342.6 413.8h1.7v1.4h-1.7zM344.1 406.9h1.7v1.4h-1.7zM345.5 378.5h1.7v1.4h-1.7zM342.1 431.1h1.7v1.4h-1.7zM342.8 407.3h1.7v1.4h-1.7zM342.6 376.6h1.7v1.4h-1.7zM345.3 416.2h1.7v1.4h-1.7zM342.7 374.6h1.7v1.4h-1.7zM345.1 386.1h1.7v1.4h-1.7zM345.0 384.2h1.7v1.4h-1.7zM346.2 377.4h1.7v1.4h-1.7zM342.9 382.7h1.7v1.4h-1.7zM344.3 418.1h1.7v1.4h-1.7zM341.9 402.9h1.7v1.4h-1.7zM345.9 393.6h1.7v1.4h-1.7zM344.8 413.7h1.7v1.4h-1.7zM342.7 424.8h1.7v1.4h-1.7zM345.2 398.0h1.7v1.4h-1.7zM342.3 376.0h1.7v1.4h-1.7zM345.5 404.6h1.7v1.4h-1.7zM343.8 394.9h1.7v1.4h-1.7zM341.3 380.1h1.7v1.4h-1.7zM341.6 424.9h1.7v1.4h-1.7zM345.9 394.9h1.7v1.4h-1.7zM344.3 406.1h1.7v1.4h-1.7zM346.1 430.4h1.7v1.4h-1.7zM341.9 427.7h1.7v1.4h-1.7zM344.3 391.3h1.7v1.4h-1.7zM345.2 371.1h1.7v1.4h-1.7zM345.3 423.9h1.7v1.4h-1.7zM341.7 385.5h1.7v1.4h-1.7zM346.1 428.1h1.7v1.4h-1.7zM344.3 429.0h1.7v1.4h-1.7zM341.6 394.7h1.7v1.4h-1.7zM345.5 371.8h1.7v1.4h-1.7zM342.9 377.9h1.7v1.4h-1.7zM344.2 430.9h1.7v1.4h-1.7zM343.7 420.9h1.7v1.4h-1.7zM341.6 395.2h1.7v1.4h-1.7zM346.1 429.4h1.7v1.4h-1.7zM342.5 378.9h1.7v1.4h-1.7zM342.6 427.6h1.7v1.4h-1.7zM341.8 385.1h1.7v1.4h-1.7zM342.8 396.9h1.7v1.4h-1.7zM345.1 401.2h1.7v1.4h-1.7zM345.2 398.8h1.7v1.4h-1.7zM345.4 390.9h1.7v1.4h-1.7zM344.2 392.3h1.7v1.4h-1.7zM343.3 380.0h1.7v1.4h-1.7zM345.5 390.7h1.7v1.4h-1.7zM345.9 409.9h1.7v1.4h-1.7zM341.8 425.0h1.7v1.4h-1.7zM345.5 406.3h1.7v1.4h-1.7zM342.6 422.2h1.7v1.4h-1.7zM342.7 425.9h1.7v1.4h-1.7zM345.6 373.4h1.7v1.4h-1.7zM342.9 430.6h1.7v1.4h-1.7zM345.2 383.4h1.7v1.4h-1.7zM343.3 425.3h1.7v1.4h-1.7zM341.3 378.1h1.7v1.4h-1.7zM344.8 393.1h1.7v1.4h-1.7zM344.5 394.9h1.7v1.4h-1.7zM343.7 410.4h1.7v1.4h-1.7zM344.9 375.9h1.7v1.4h-1.7zM344.2 430.2h1.7v1.4h-1.7zM346.0 374.1h1.7v1.4h-1.7zM343.9 381.4h1.7v1.4h-1.7zM346.2 385.4h1.7v1.4h-1.7zM345.8 394.1h1.7v1.4h-1.7zM345.8 374.0h1.7v1.4h-1.7zM343.9 406.3h1.7v1.4h-1.7zM343.3 387.1h1.7v1.4h-1.7zM345.4 374.6h1.7v1.4h-1.7zM345.4 424.5h1.7v1.4h-1.7zM345.3 409.1h1.7v1.4h-1.7zM343.3 398.4h1.7v1.4h-1.7zM342.5 385.3h1.7v1.4h-1.7zM343.8 372.1h1.7v1.4h-1.7zM341.2 454.0h1.7v1.4h-1.7zM346.0 455.4h1.7v1.4h-1.7zM341.6 435.1h1.7v1.4h-1.7zM341.5 451.5h1.7v1.4h-1.7zM345.0 446.9h1.7v1.4h-1.7zM341.5 463.3h1.7v1.4h-1.7zM345.1 437.3h1.7v1.4h-1.7zM345.5 462.7h1.7v1.4h-1.7zM342.7 450.3h1.7v1.4h-1.7zM341.3 443.2h1.7v1.4h-1.7zM342.2 463.2h1.7v1.4h-1.7zM344.9 439.8h1.7v1.4h-1.7zM344.9 435.5h1.7v1.4h-1.7zM341.6 445.3h1.7v1.4h-1.7zM345.4 462.8h1.7v1.4h-1.7zM352.6 364.0h1.7v1.4h-1.7zM353.3 364.1h1.7v1.4h-1.7zM354.5 364.2h1.7v1.4h-1.7zM352.4 364.0h1.7v1.4h-1.7zM353.9 363.9h1.7v1.4h-1.7zM352.0 364.0h1.7v1.4h-1.7zM352.1 363.8h1.7v1.4h-1.7zM353.7 364.3h1.7v1.4h-1.7zM352.6 364.6h1.7v1.4h-1.7zM352.7 364.2h1.7v1.4h-1.7zM354.3 364.3h1.7v1.4h-1.7zM355.7 368.3h1.7v1.4h-1.7zM351.6 368.4h1.7v1.4h-1.7zM351.7 368.6h1.7v1.4h-1.7zM353.8 368.9h1.7v1.4h-1.7zM355.3 368.8h1.7v1.4h-1.7zM353.8 368.7h1.7v1.4h-1.7zM352.2 368.5h1.7v1.4h-1.7zM352.9 368.4h1.7v1.4h-1.7zM354.2 387.7h1.7v1.4h-1.7zM355.9 392.3h1.7v1.4h-1.7zM354.9 388.6h1.7v1.4h-1.7zM352.2 398.0h1.7v1.4h-1.7zM353.8 426.6h1.7v1.4h-1.7zM352.0 375.8h1.7v1.4h-1.7zM351.5 420.6h1.7v1.4h-1.7zM351.4 425.0h1.7v1.4h-1.7zM352.0 423.5h1.7v1.4h-1.7zM352.8 423.3h1.7v1.4h-1.7zM353.4 394.3h1.7v1.4h-1.7zM351.2 395.9h1.7v1.4h-1.7zM353.4 424.6h1.7v1.4h-1.7zM353.7 420.0h1.7v1.4h-1.7zM353.3 408.2h1.7v1.4h-1.7zM354.1 381.0h1.7v1.4h-1.7zM354.0 412.8h1.7v1.4h-1.7zM353.2 384.3h1.7v1.4h-1.7zM351.9 397.0h1.7v1.4h-1.7zM355.9 399.4h1.7v1.4h-1.7zM352.3 400.5h1.7v1.4h-1.7zM354.8 420.3h1.7v1.4h-1.7zM351.7 399.4h1.7v1.4h-1.7zM351.4 391.1h1.7v1.4h-1.7zM353.4 384.3h1.7v1.4h-1.7zM351.7 417.2h1.7v1.4h-1.7zM352.2 415.2h1.7v1.4h-1.7zM351.8 383.3h1.7v1.4h-1.7zM352.1 418.1h1.7v1.4h-1.7zM351.5 385.9h1.7v1.4h-1.7zM354.2 398.3h1.7v1.4h-1.7zM355.5 390.1h1.7v1.4h-1.7zM351.3 412.5h1.7v1.4h-1.7zM353.1 402.8h1.7v1.4h-1.7zM352.1 424.8h1.7v1.4h-1.7zM355.0 387.7h1.7v1.4h-1.7zM352.9 381.1h1.7v1.4h-1.7zM356.0 381.6h1.7v1.4h-1.7zM353.1 385.7h1.7v1.4h-1.7zM353.5 407.1h1.7v1.4h-1.7zM352.4 405.8h1.7v1.4h-1.7zM354.4 386.9h1.7v1.4h-1.7zM356.0 395.1h1.7v1.4h-1.7zM353.9 425.9h1.7v1.4h-1.7zM352.6 374.5h1.7v1.4h-1.7zM352.3 379.7h1.7v1.4h-1.7zM351.5 423.3h1.7v1.4h-1.7zM354.3 383.6h1.7v1.4h-1.7zM353.0 394.5h1.7v1.4h-1.7zM351.7 388.6h1.7v1.4h-1.7zM351.2 424.3h1.7v1.4h-1.7zM353.4 402.8h1.7v1.4h-1.7zM355.3 404.8h1.7v1.4h-1.7zM353.5 413.3h1.7v1.4h-1.7zM353.7 392.1h1.7v1.4h-1.7zM354.9 379.3h1.7v1.4h-1.7zM354.0 383.1h1.7v1.4h-1.7zM353.7 384.1h1.7v1.4h-1.7zM353.7 393.2h1.7v1.4h-1.7zM354.5 391.6h1.7v1.4h-1.7zM351.6 406.9h1.7v1.4h-1.7zM353.1 413.7h1.7v1.4h-1.7zM354.3 375.3h1.7v1.4h-1.7zM354.0 375.4h1.7v1.4h-1.7zM355.6 405.3h1.7v1.4h-1.7zM354.0 393.9h1.7v1.4h-1.7zM351.4 390.9h1.7v1.4h-1.7zM352.6 383.8h1.7v1.4h-1.7zM356.0 388.3h1.7v1.4h-1.7zM353.6 387.2h1.7v1.4h-1.7zM355.3 380.0h1.7v1.4h-1.7zM356.0 383.3h1.7v1.4h-1.7zM352.4 398.2h1.7v1.4h-1.7zM352.7 379.1h1.7v1.4h-1.7zM355.1 377.3h1.7v1.4h-1.7zM352.5 375.1h1.7v1.4h-1.7zM351.4 394.6h1.7v1.4h-1.7zM353.9 374.5h1.7v1.4h-1.7zM353.3 393.2h1.7v1.4h-1.7zM356.0 426.9h1.7v1.4h-1.7zM354.1 412.7h1.7v1.4h-1.7zM351.3 403.6h1.7v1.4h-1.7zM355.6 421.2h1.7v1.4h-1.7zM354.7 415.6h1.7v1.4h-1.7zM355.8 406.4h1.7v1.4h-1.7zM352.0 411.1h1.7v1.4h-1.7zM352.3 422.4h1.7v1.4h-1.7zM352.1 420.9h1.7v1.4h-1.7zM354.4 409.6h1.7v1.4h-1.7zM352.2 399.6h1.7v1.4h-1.7zM353.7 427.7h1.7v1.4h-1.7zM354.6 414.6h1.7v1.4h-1.7zM356.1 397.7h1.7v1.4h-1.7zM354.2 404.2h1.7v1.4h-1.7zM353.3 391.6h1.7v1.4h-1.7zM352.9 379.0h1.7v1.4h-1.7zM355.8 387.9h1.7v1.4h-1.7zM355.3 393.2h1.7v1.4h-1.7zM352.7 376.6h1.7v1.4h-1.7zM353.6 385.7h1.7v1.4h-1.7zM353.0 415.9h1.7v1.4h-1.7zM355.8 377.7h1.7v1.4h-1.7zM354.7 422.5h1.7v1.4h-1.7zM355.4 418.4h1.7v1.4h-1.7zM355.0 401.2h1.7v1.4h-1.7zM351.3 385.1h1.7v1.4h-1.7zM355.1 395.5h1.7v1.4h-1.7zM353.5 411.9h1.7v1.4h-1.7zM353.1 388.6h1.7v1.4h-1.7zM352.5 424.2h1.7v1.4h-1.7zM353.4 414.6h1.7v1.4h-1.7zM354.5 393.1h1.7v1.4h-1.7zM353.1 401.5h1.7v1.4h-1.7zM353.7 406.4h1.7v1.4h-1.7zM352.2 398.2h1.7v1.4h-1.7zM354.8 389.3h1.7v1.4h-1.7zM353.3 415.9h1.7v1.4h-1.7zM354.4 405.7h1.7v1.4h-1.7zM351.6 410.8h1.7v1.4h-1.7zM354.8 380.7h1.7v1.4h-1.7zM352.0 422.6h1.7v1.4h-1.7zM353.4 417.5h1.7v1.4h-1.7zM351.4 422.7h1.7v1.4h-1.7zM354.1 386.6h1.7v1.4h-1.7zM354.6 402.6h1.7v1.4h-1.7zM352.3 427.9h1.7v1.4h-1.7zM351.3 392.0h1.7v1.4h-1.7zM355.3 422.0h1.7v1.4h-1.7zM352.0 425.9h1.7v1.4h-1.7zM351.6 393.5h1.7v1.4h-1.7zM355.1 382.2h1.7v1.4h-1.7zM352.8 396.2h1.7v1.4h-1.7zM353.6 394.7h1.7v1.4h-1.7zM352.4 399.0h1.7v1.4h-1.7zM353.4 409.3h1.7v1.4h-1.7zM351.7 376.4h1.7v1.4h-1.7zM355.0 408.4h1.7v1.4h-1.7zM354.6 409.1h1.7v1.4h-1.7zM351.4 381.9h1.7v1.4h-1.7zM355.7 402.3h1.7v1.4h-1.7zM352.9 414.9h1.7v1.4h-1.7zM352.2 426.6h1.7v1.4h-1.7zM354.6 387.0h1.7v1.4h-1.7zM354.9 401.9h1.7v1.4h-1.7zM352.5 381.9h1.7v1.4h-1.7zM351.9 402.4h1.7v1.4h-1.7zM353.2 423.8h1.7v1.4h-1.7zM352.8 405.5h1.7v1.4h-1.7zM355.4 415.8h1.7v1.4h-1.7zM354.4 421.9h1.7v1.4h-1.7zM354.4 419.2h1.7v1.4h-1.7zM354.5 385.6h1.7v1.4h-1.7zM354.1 414.5h1.7v1.4h-1.7zM354.6 397.5h1.7v1.4h-1.7zM351.2 405.8h1.7v1.4h-1.7zM355.2 422.1h1.7v1.4h-1.7zM354.1 400.8h1.7v1.4h-1.7zM352.2 384.8h1.7v1.4h-1.7zM355.2 375.9h1.7v1.4h-1.7zM353.3 389.9h1.7v1.4h-1.7zM353.1 428.0h1.7v1.4h-1.7zM351.4 414.0h1.7v1.4h-1.7zM354.7 377.4h1.7v1.4h-1.7zM352.1 389.7h1.7v1.4h-1.7zM352.0 395.2h1.7v1.4h-1.7zM355.1 427.3h1.7v1.4h-1.7zM353.9 398.6h1.7v1.4h-1.7zM354.1 391.1h1.7v1.4h-1.7zM353.9 390.8h1.7v1.4h-1.7zM353.6 397.9h1.7v1.4h-1.7zM353.9 405.0h1.7v1.4h-1.7zM354.1 396.5h1.7v1.4h-1.7zM352.9 395.7h1.7v1.4h-1.7zM353.7 377.1h1.7v1.4h-1.7zM354.3 409.3h1.7v1.4h-1.7zM352.2 423.0h1.7v1.4h-1.7zM354.4 419.8h1.7v1.4h-1.7zM353.2 425.9h1.7v1.4h-1.7zM352.4 403.1h1.7v1.4h-1.7zM353.8 390.7h1.7v1.4h-1.7zM353.5 425.6h1.7v1.4h-1.7zM351.2 414.3h1.7v1.4h-1.7zM351.9 403.4h1.7v1.4h-1.7zM354.6 402.2h1.7v1.4h-1.7zM355.2 417.4h1.7v1.4h-1.7zM351.2 387.2h1.7v1.4h-1.7zM354.8 412.4h1.7v1.4h-1.7zM353.7 377.0h1.7v1.4h-1.7zM352.0 391.6h1.7v1.4h-1.7zM353.7 413.6h1.7v1.4h-1.7zM352.4 409.2h1.7v1.4h-1.7zM354.3 394.4h1.7v1.4h-1.7zM355.4 386.7h1.7v1.4h-1.7zM355.0 387.1h1.7v1.4h-1.7zM354.9 398.7h1.7v1.4h-1.7zM352.7 419.3h1.7v1.4h-1.7zM353.0 416.6h1.7v1.4h-1.7zM353.6 377.9h1.7v1.4h-1.7zM352.6 386.3h1.7v1.4h-1.7zM351.8 375.3h1.7v1.4h-1.7zM354.0 401.3h1.7v1.4h-1.7zM354.5 394.0h1.7v1.4h-1.7zM351.2 420.7h1.7v1.4h-1.7zM354.8 419.6h1.7v1.4h-1.7zM353.3 388.3h1.7v1.4h-1.7zM355.8 378.7h1.7v1.4h-1.7zM353.8 380.7h1.7v1.4h-1.7zM352.6 424.8h1.7v1.4h-1.7zM355.5 401.7h1.7v1.4h-1.7zM351.5 402.1h1.7v1.4h-1.7zM355.6 420.6h1.7v1.4h-1.7zM351.4 388.4h1.7v1.4h-1.7zM353.5 377.4h1.7v1.4h-1.7zM353.0 404.9h1.7v1.4h-1.7zM352.4 415.4h1.7v1.4h-1.7zM355.9 388.7h1.7v1.4h-1.7zM353.7 413.0h1.7v1.4h-1.7zM351.9 402.5h1.7v1.4h-1.7zM354.0 419.4h1.7v1.4h-1.7zM354.0 422.0h1.7v1.4h-1.7zM354.7 381.8h1.7v1.4h-1.7zM354.9 401.0h1.7v1.4h-1.7zM353.9 400.5h1.7v1.4h-1.7zM354.0 396.8h1.7v1.4h-1.7zM353.2 420.9h1.7v1.4h-1.7zM352.1 394.2h1.7v1.4h-1.7zM352.9 374.6h1.7v1.4h-1.7zM351.6 399.5h1.7v1.4h-1.7zM356.0 404.7h1.7v1.4h-1.7zM352.3 376.6h1.7v1.4h-1.7zM352.5 425.6h1.7v1.4h-1.7zM352.6 419.9h1.7v1.4h-1.7zM354.1 379.6h1.7v1.4h-1.7zM355.6 398.4h1.7v1.4h-1.7zM351.3 422.2h1.7v1.4h-1.7zM354.2 379.3h1.7v1.4h-1.7zM353.1 397.4h1.7v1.4h-1.7zM352.2 407.9h1.7v1.4h-1.7zM355.4 410.0h1.7v1.4h-1.7zM352.1 427.1h1.7v1.4h-1.7zM354.2 382.8h1.7v1.4h-1.7zM355.3 425.0h1.7v1.4h-1.7zM355.2 427.4h1.7v1.4h-1.7zM353.8 377.5h1.7v1.4h-1.7zM355.6 410.8h1.7v1.4h-1.7zM356.1 427.8h1.7v1.4h-1.7zM354.4 380.0h1.7v1.4h-1.7zM355.6 379.0h1.7v1.4h-1.7zM353.2 397.3h1.7v1.4h-1.7zM351.9 391.8h1.7v1.4h-1.7zM354.7 382.5h1.7v1.4h-1.7zM354.5 385.1h1.7v1.4h-1.7zM351.8 424.4h1.7v1.4h-1.7zM352.3 374.7h1.7v1.4h-1.7zM354.2 402.3h1.7v1.4h-1.7zM353.9 426.3h1.7v1.4h-1.7zM352.6 404.6h1.7v1.4h-1.7zM355.2 385.6h1.7v1.4h-1.7zM354.2 390.9h1.7v1.4h-1.7zM355.8 376.8h1.7v1.4h-1.7zM352.1 414.1h1.7v1.4h-1.7zM351.5 409.8h1.7v1.4h-1.7zM352.8 409.4h1.7v1.4h-1.7zM354.3 412.2h1.7v1.4h-1.7zM355.8 383.5h1.7v1.4h-1.7zM351.4 391.0h1.7v1.4h-1.7zM351.3 394.5h1.7v1.4h-1.7zM356.0 386.2h1.7v1.4h-1.7zM353.0 376.4h1.7v1.4h-1.7zM354.7 396.9h1.7v1.4h-1.7zM353.7 424.8h1.7v1.4h-1.7zM352.5 408.2h1.7v1.4h-1.7zM352.3 424.7h1.7v1.4h-1.7zM356.0 394.2h1.7v1.4h-1.7zM355.8 383.8h1.7v1.4h-1.7zM351.3 395.7h1.7v1.4h-1.7zM352.7 385.2h1.7v1.4h-1.7zM352.7 386.3h1.7v1.4h-1.7zM352.8 412.6h1.7v1.4h-1.7zM352.2 405.5h1.7v1.4h-1.7zM355.3 401.8h1.7v1.4h-1.7zM351.6 387.7h1.7v1.4h-1.7zM351.7 389.8h1.7v1.4h-1.7zM354.7 411.9h1.7v1.4h-1.7zM353.4 376.9h1.7v1.4h-1.7zM354.0 425.5h1.7v1.4h-1.7zM353.3 404.0h1.7v1.4h-1.7zM353.9 399.3h1.7v1.4h-1.7zM355.8 378.2h1.7v1.4h-1.7zM353.2 424.9h1.7v1.4h-1.7zM351.6 424.3h1.7v1.4h-1.7zM353.9 398.6h1.7v1.4h-1.7zM355.7 426.6h1.7v1.4h-1.7zM351.8 386.8h1.7v1.4h-1.7zM351.4 392.8h1.7v1.4h-1.7zM353.8 393.2h1.7v1.4h-1.7zM354.4 375.8h1.7v1.4h-1.7zM351.3 398.4h1.7v1.4h-1.7zM352.7 396.8h1.7v1.4h-1.7zM354.3 405.0h1.7v1.4h-1.7zM351.3 378.6h1.7v1.4h-1.7zM351.2 414.9h1.7v1.4h-1.7zM355.8 419.5h1.7v1.4h-1.7zM353.3 415.9h1.7v1.4h-1.7zM354.0 378.5h1.7v1.4h-1.7zM351.5 415.3h1.7v1.4h-1.7zM353.7 409.2h1.7v1.4h-1.7zM353.0 389.3h1.7v1.4h-1.7zM352.2 401.5h1.7v1.4h-1.7zM353.4 403.8h1.7v1.4h-1.7zM353.5 414.3h1.7v1.4h-1.7zM351.5 422.7h1.7v1.4h-1.7zM352.1 396.6h1.7v1.4h-1.7zM352.4 375.0h1.7v1.4h-1.7zM351.4 374.5h1.7v1.4h-1.7zM353.6 381.7h1.7v1.4h-1.7zM354.3 405.1h1.7v1.4h-1.7zM355.5 387.3h1.7v1.4h-1.7zM352.5 412.3h1.7v1.4h-1.7zM355.1 419.2h1.7v1.4h-1.7zM355.7 420.2h1.7v1.4h-1.7zM351.2 401.5h1.7v1.4h-1.7zM354.4 423.7h1.7v1.4h-1.7zM353.4 442.5h1.7v1.4h-1.7zM351.5 438.0h1.7v1.4h-1.7zM351.6 450.5h1.7v1.4h-1.7zM351.8 469.1h1.7v1.4h-1.7zM351.8 458.0h1.7v1.4h-1.7zM352.6 442.6h1.7v1.4h-1.7zM352.0 448.9h1.7v1.4h-1.7zM355.0 454.3h1.7v1.4h-1.7zM353.5 438.9h1.7v1.4h-1.7zM352.7 469.3h1.7v1.4h-1.7zM351.5 459.9h1.7v1.4h-1.7zM355.1 454.5h1.7v1.4h-1.7zM352.8 439.5h1.7v1.4h-1.7zM354.5 459.9h1.7v1.4h-1.7zM351.9 444.4h1.7v1.4h-1.7zM355.2 430.8h1.7v1.4h-1.7zM365.4 370.8h1.7v1.4h-1.7zM362.0 373.3h1.7v1.4h-1.7zM362.7 371.0h1.7v1.4h-1.7zM363.3 367.2h1.7v1.4h-1.7zM362.7 367.2h1.7v1.4h-1.7zM364.5 373.3h1.7v1.4h-1.7zM361.3 367.6h1.7v1.4h-1.7zM363.2 370.5h1.7v1.4h-1.7zM363.1 371.3h1.7v1.4h-1.7zM365.9 367.1h1.7v1.4h-1.7zM361.8 395.4h1.7v1.4h-1.7zM364.2 407.8h1.7v1.4h-1.7zM363.5 413.4h1.7v1.4h-1.7zM365.9 413.9h1.7v1.4h-1.7zM362.8 418.1h1.7v1.4h-1.7zM363.8 409.4h1.7v1.4h-1.7zM365.1 374.6h1.7v1.4h-1.7zM366.0 409.8h1.7v1.4h-1.7zM364.3 405.1h1.7v1.4h-1.7zM362.8 398.7h1.7v1.4h-1.7zM362.8 387.0h1.7v1.4h-1.7zM363.0 391.8h1.7v1.4h-1.7zM365.0 393.4h1.7v1.4h-1.7zM361.7 408.0h1.7v1.4h-1.7zM364.5 414.8h1.7v1.4h-1.7zM364.3 373.9h1.7v1.4h-1.7zM361.6 416.1h1.7v1.4h-1.7zM364.3 393.0h1.7v1.4h-1.7zM365.4 377.6h1.7v1.4h-1.7zM365.1 383.4h1.7v1.4h-1.7zM361.1 411.4h1.7v1.4h-1.7zM365.2 374.2h1.7v1.4h-1.7zM364.4 416.5h1.7v1.4h-1.7zM365.3 399.2h1.7v1.4h-1.7zM365.2 410.0h1.7v1.4h-1.7zM363.6 414.5h1.7v1.4h-1.7zM361.9 382.7h1.7v1.4h-1.7zM362.9 412.8h1.7v1.4h-1.7zM361.5 387.7h1.7v1.4h-1.7zM363.4 417.7h1.7v1.4h-1.7zM363.5 417.8h1.7v1.4h-1.7zM361.5 390.4h1.7v1.4h-1.7zM361.6 381.5h1.7v1.4h-1.7zM365.3 389.1h1.7v1.4h-1.7zM363.2 395.7h1.7v1.4h-1.7zM361.1 417.8h1.7v1.4h-1.7zM364.0 415.7h1.7v1.4h-1.7zM361.6 401.5h1.7v1.4h-1.7zM364.9 406.9h1.7v1.4h-1.7zM363.0 410.2h1.7v1.4h-1.7zM365.5 404.6h1.7v1.4h-1.7zM364.7 382.3h1.7v1.4h-1.7zM364.0 403.9h1.7v1.4h-1.7zM362.0 405.7h1.7v1.4h-1.7zM361.6 407.7h1.7v1.4h-1.7zM362.9 374.4h1.7v1.4h-1.7zM362.6 408.4h1.7v1.4h-1.7zM362.9 396.8h1.7v1.4h-1.7zM363.3 376.6h1.7v1.4h-1.7zM363.3 393.9h1.7v1.4h-1.7zM364.7 384.6h1.7v1.4h-1.7zM361.1 410.8h1.7v1.4h-1.7zM364.6 374.7h1.7v1.4h-1.7zM361.9 410.0h1.7v1.4h-1.7zM362.6 387.6h1.7v1.4h-1.7zM364.0 413.7h1.7v1.4h-1.7zM364.3 375.1h1.7v1.4h-1.7zM363.0 417.9h1.7v1.4h-1.7zM364.2 400.5h1.7v1.4h-1.7zM364.4 406.7h1.7v1.4h-1.7zM361.2 412.4h1.7v1.4h-1.7zM361.9 394.4h1.7v1.4h-1.7zM362.2 374.9h1.7v1.4h-1.7zM361.8 395.3h1.7v1.4h-1.7zM364.6 391.6h1.7v1.4h-1.7zM363.1 411.7h1.7v1.4h-1.7zM364.0 403.6h1.7v1.4h-1.7zM364.0 385.8h1.7v1.4h-1.7zM365.7 387.3h1.7v1.4h-1.7zM362.0 414.5h1.7v1.4h-1.7zM363.2 407.4h1.7v1.4h-1.7zM363.5 383.8h1.7v1.4h-1.7zM362.9 389.6h1.7v1.4h-1.7zM363.1 392.0h1.7v1.4h-1.7zM361.0 382.7h1.7v1.4h-1.7zM364.4 396.0h1.7v1.4h-1.7zM362.2 408.3h1.7v1.4h-1.7zM362.1 413.7h1.7v1.4h-1.7zM365.9 399.0h1.7v1.4h-1.7zM363.1 413.8h1.7v1.4h-1.7zM364.2 376.6h1.7v1.4h-1.7zM363.7 411.9h1.7v1.4h-1.7zM364.7 409.2h1.7v1.4h-1.7zM362.3 414.0h1.7v1.4h-1.7zM364.8 390.1h1.7v1.4h-1.7zM364.9 392.7h1.7v1.4h-1.7zM362.1 401.2h1.7v1.4h-1.7zM365.0 408.2h1.7v1.4h-1.7zM365.0 417.3h1.7v1.4h-1.7zM364.8 416.4h1.7v1.4h-1.7zM363.1 387.4h1.7v1.4h-1.7zM362.7 389.9h1.7v1.4h-1.7zM362.9 395.1h1.7v1.4h-1.7zM361.4 398.9h1.7v1.4h-1.7zM363.9 389.3h1.7v1.4h-1.7zM362.3 418.0h1.7v1.4h-1.7zM364.9 409.9h1.7v1.4h-1.7zM364.5 377.2h1.7v1.4h-1.7zM362.4 406.3h1.7v1.4h-1.7zM364.9 381.5h1.7v1.4h-1.7zM364.0 407.3h1.7v1.4h-1.7zM365.1 378.8h1.7v1.4h-1.7zM364.8 399.5h1.7v1.4h-1.7zM365.8 375.9h1.7v1.4h-1.7zM364.6 416.3h1.7v1.4h-1.7zM365.1 384.4h1.7v1.4h-1.7zM363.1 417.0h1.7v1.4h-1.7zM363.8 394.3h1.7v1.4h-1.7zM362.9 395.7h1.7v1.4h-1.7zM361.4 390.4h1.7v1.4h-1.7zM365.4 412.5h1.7v1.4h-1.7zM361.9 404.3h1.7v1.4h-1.7zM365.5 382.7h1.7v1.4h-1.7zM362.6 398.9h1.7v1.4h-1.7zM362.4 404.0h1.7v1.4h-1.7zM364.8 390.8h1.7v1.4h-1.7zM365.2 418.4h1.7v1.4h-1.7zM362.0 404.3h1.7v1.4h-1.7zM361.5 405.5h1.7v1.4h-1.7zM361.2 390.4h1.7v1.4h-1.7zM364.7 403.1h1.7v1.4h-1.7zM363.0 381.0h1.7v1.4h-1.7zM365.0 399.4h1.7v1.4h-1.7zM362.0 412.1h1.7v1.4h-1.7zM364.6 404.1h1.7v1.4h-1.7zM363.1 407.0h1.7v1.4h-1.7zM361.6 384.0h1.7v1.4h-1.7zM364.3 393.4h1.7v1.4h-1.7zM362.4 374.2h1.7v1.4h-1.7zM362.0 408.1h1.7v1.4h-1.7zM361.2 401.6h1.7v1.4h-1.7zM362.9 391.7h1.7v1.4h-1.7zM362.8 416.1h1.7v1.4h-1.7zM365.8 395.5h1.7v1.4h-1.7zM365.0 396.9h1.7v1.4h-1.7zM365.1 417.1h1.7v1.4h-1.7zM362.6 400.2h1.7v1.4h-1.7zM362.4 406.2h1.7v1.4h-1.7zM362.2 411.7h1.7v1.4h-1.7zM365.7 380.9h1.7v1.4h-1.7zM364.3 375.8h1.7v1.4h-1.7zM361.1 377.7h1.7v1.4h-1.7zM363.4 411.9h1.7v1.4h-1.7zM361.4 414.3h1.7v1.4h-1.7zM363.2 383.0h1.7v1.4h-1.7zM364.3 409.8h1.7v1.4h-1.7zM363.3 394.4h1.7v1.4h-1.7zM365.2 414.3h1.7v1.4h-1.7zM361.6 401.6h1.7v1.4h-1.7zM365.7 413.8h1.7v1.4h-1.7zM361.6 417.1h1.7v1.4h-1.7zM364.3 414.7h1.7v1.4h-1.7zM362.9 418.5h1.7v1.4h-1.7zM364.8 383.9h1.7v1.4h-1.7zM363.6 375.6h1.7v1.4h-1.7zM364.6 399.9h1.7v1.4h-1.7zM362.4 399.2h1.7v1.4h-1.7zM365.5 384.3h1.7v1.4h-1.7zM363.2 387.6h1.7v1.4h-1.7zM365.1 382.4h1.7v1.4h-1.7zM365.8 403.2h1.7v1.4h-1.7zM366.0 385.7h1.7v1.4h-1.7zM362.8 384.8h1.7v1.4h-1.7zM364.7 377.5h1.7v1.4h-1.7zM361.4 411.7h1.7v1.4h-1.7zM365.0 413.0h1.7v1.4h-1.7zM364.1 384.9h1.7v1.4h-1.7zM362.3 410.3h1.7v1.4h-1.7zM361.9 383.6h1.7v1.4h-1.7zM365.0 412.2h1.7v1.4h-1.7zM362.2 383.3h1.7v1.4h-1.7zM365.8 384.2h1.7v1.4h-1.7zM364.3 415.9h1.7v1.4h-1.7zM361.4 381.2h1.7v1.4h-1.7zM363.7 382.9h1.7v1.4h-1.7zM365.9 396.1h1.7v1.4h-1.7zM365.6 405.1h1.7v1.4h-1.7zM362.3 384.4h1.7v1.4h-1.7zM363.6 394.2h1.7v1.4h-1.7zM365.7 385.6h1.7v1.4h-1.7zM362.5 388.4h1.7v1.4h-1.7zM364.8 405.1h1.7v1.4h-1.7zM363.9 382.0h1.7v1.4h-1.7zM364.1 398.8h1.7v1.4h-1.7zM365.0 389.5h1.7v1.4h-1.7zM362.5 411.3h1.7v1.4h-1.7zM361.0 415.2h1.7v1.4h-1.7zM364.8 408.8h1.7v1.4h-1.7zM363.2 386.4h1.7v1.4h-1.7zM362.5 400.8h1.7v1.4h-1.7zM361.7 415.6h1.7v1.4h-1.7zM365.4 390.5h1.7v1.4h-1.7zM365.0 412.3h1.7v1.4h-1.7zM365.4 416.7h1.7v1.4h-1.7zM361.0 411.2h1.7v1.4h-1.7zM365.2 416.1h1.7v1.4h-1.7zM364.4 382.1h1.7v1.4h-1.7zM364.1 400.3h1.7v1.4h-1.7zM362.2 381.4h1.7v1.4h-1.7zM365.0 403.8h1.7v1.4h-1.7zM361.8 392.3h1.7v1.4h-1.7zM362.7 418.2h1.7v1.4h-1.7zM364.2 385.9h1.7v1.4h-1.7zM362.3 414.1h1.7v1.4h-1.7zM363.8 399.0h1.7v1.4h-1.7zM363.7 382.5h1.7v1.4h-1.7zM361.1 397.2h1.7v1.4h-1.7zM362.1 413.7h1.7v1.4h-1.7zM363.4 389.9h1.7v1.4h-1.7zM365.6 403.3h1.7v1.4h-1.7zM365.0 408.0h1.7v1.4h-1.7zM364.5 410.0h1.7v1.4h-1.7zM362.8 397.7h1.7v1.4h-1.7zM362.4 411.6h1.7v1.4h-1.7zM363.0 391.4h1.7v1.4h-1.7zM364.4 376.0h1.7v1.4h-1.7zM361.1 413.2h1.7v1.4h-1.7zM361.8 400.7h1.7v1.4h-1.7zM363.0 394.5h1.7v1.4h-1.7zM362.2 402.4h1.7v1.4h-1.7zM361.2 384.5h1.7v1.4h-1.7zM365.0 406.0h1.7v1.4h-1.7zM363.8 385.4h1.7v1.4h-1.7zM361.0 379.5h1.7v1.4h-1.7zM365.7 417.3h1.7v1.4h-1.7zM362.8 403.8h1.7v1.4h-1.7zM363.1 411.0h1.7v1.4h-1.7zM363.1 412.7h1.7v1.4h-1.7zM361.1 409.0h1.7v1.4h-1.7zM362.9 417.7h1.7v1.4h-1.7zM362.0 379.6h1.7v1.4h-1.7zM364.0 395.3h1.7v1.4h-1.7zM361.9 380.6h1.7v1.4h-1.7zM363.0 408.8h1.7v1.4h-1.7zM363.8 404.3h1.7v1.4h-1.7zM361.9 400.9h1.7v1.4h-1.7zM361.0 374.0h1.7v1.4h-1.7zM361.2 378.9h1.7v1.4h-1.7zM365.3 415.7h1.7v1.4h-1.7zM363.7 387.8h1.7v1.4h-1.7zM362.9 408.5h1.7v1.4h-1.7zM364.0 394.9h1.7v1.4h-1.7zM364.2 397.4h1.7v1.4h-1.7zM365.7 381.9h1.7v1.4h-1.7zM364.7 376.6h1.7v1.4h-1.7zM365.6 410.7h1.7v1.4h-1.7zM365.6 381.8h1.7v1.4h-1.7zM364.5 387.7h1.7v1.4h-1.7zM363.2 404.8h1.7v1.4h-1.7zM363.0 417.3h1.7v1.4h-1.7zM361.4 390.5h1.7v1.4h-1.7zM361.7 415.1h1.7v1.4h-1.7zM364.0 402.6h1.7v1.4h-1.7zM363.3 388.2h1.7v1.4h-1.7zM361.0 392.1h1.7v1.4h-1.7zM362.8 393.5h1.7v1.4h-1.7zM364.3 384.5h1.7v1.4h-1.7zM362.0 379.4h1.7v1.4h-1.7zM364.9 418.3h1.7v1.4h-1.7zM361.9 385.1h1.7v1.4h-1.7zM361.9 391.4h1.7v1.4h-1.7zM363.7 414.5h1.7v1.4h-1.7zM361.9 386.5h1.7v1.4h-1.7zM365.5 379.4h1.7v1.4h-1.7zM365.6 416.8h1.7v1.4h-1.7zM364.9 382.4h1.7v1.4h-1.7zM363.7 408.9h1.7v1.4h-1.7zM363.5 385.2h1.7v1.4h-1.7zM364.1 407.2h1.7v1.4h-1.7zM364.3 382.1h1.7v1.4h-1.7zM361.3 387.7h1.7v1.4h-1.7zM364.5 396.0h1.7v1.4h-1.7zM365.9 386.0h1.7v1.4h-1.7zM365.1 376.0h1.7v1.4h-1.7zM362.1 376.4h1.7v1.4h-1.7zM364.5 416.4h1.7v1.4h-1.7zM362.7 386.7h1.7v1.4h-1.7zM361.5 383.7h1.7v1.4h-1.7zM362.7 419.1h1.7v1.4h-1.7zM363.9 420.8h1.7v1.4h-1.7zM361.3 422.5h1.7v1.4h-1.7zM363.1 420.7h1.7v1.4h-1.7zM375.2 383.0h1.7v1.4h-1.7zM374.9 374.6h1.7v1.4h-1.7zM375.6 372.3h1.7v1.4h-1.7zM375.2 418.2h1.7v1.4h-1.7zM372.6 396.6h1.7v1.4h-1.7zM374.1 410.7h1.7v1.4h-1.7zM372.2 403.3h1.7v1.4h-1.7zM373.0 368.2h1.7v1.4h-1.7zM374.2 414.1h1.7v1.4h-1.7zM373.1 388.1h1.7v1.4h-1.7zM373.6 417.3h1.7v1.4h-1.7zM374.0 409.0h1.7v1.4h-1.7zM374.7 368.3h1.7v1.4h-1.7zM374.1 417.7h1.7v1.4h-1.7zM374.0 378.3h1.7v1.4h-1.7zM373.7 417.4h1.7v1.4h-1.7zM372.9 381.4h1.7v1.4h-1.7zM375.6 404.8h1.7v1.4h-1.7zM372.6 388.2h1.7v1.4h-1.7zM371.1 372.7h1.7v1.4h-1.7zM375.0 406.9h1.7v1.4h-1.7zM374.3 417.7h1.7v1.4h-1.7zM372.5 416.3h1.7v1.4h-1.7zM374.4 368.1h1.7v1.4h-1.7zM373.3 406.1h1.7v1.4h-1.7zM373.5 382.4h1.7v1.4h-1.7zM375.7 390.6h1.7v1.4h-1.7zM372.6 395.6h1.7v1.4h-1.7zM372.4 384.9h1.7v1.4h-1.7zM374.2 368.3h1.7v1.4h-1.7zM371.6 376.6h1.7v1.4h-1.7zM372.4 390.9h1.7v1.4h-1.7zM371.4 413.2h1.7v1.4h-1.7zM371.3 371.8h1.7v1.4h-1.7zM374.5 385.6h1.7v1.4h-1.7zM372.1 396.8h1.7v1.4h-1.7zM370.9 379.2h1.7v1.4h-1.7zM373.3 417.3h1.7v1.4h-1.7zM372.9 405.2h1.7v1.4h-1.7zM374.0 370.8h1.7v1.4h-1.7zM373.9 408.5h1.7v1.4h-1.7zM375.4 397.1h1.7v1.4h-1.7zM373.5 399.8h1.7v1.4h-1.7zM375.1 410.0h1.7v1.4h-1.7zM375.3 417.5h1.7v1.4h-1.7zM372.8 414.8h1.7v1.4h-1.7zM374.0 415.3h1.7v1.4h-1.7zM374.3 401.2h1.7v1.4h-1.7zM374.6 391.8h1.7v1.4h-1.7zM374.4 415.5h1.7v1.4h-1.7zM371.7 398.5h1.7v1.4h-1.7zM373.9 401.0h1.7v1.4h-1.7zM374.9 386.2h1.7v1.4h-1.7zM371.2 383.1h1.7v1.4h-1.7zM375.5 406.4h1.7v1.4h-1.7zM375.6 397.4h1.7v1.4h-1.7zM375.5 386.6h1.7v1.4h-1.7zM373.7 406.0h1.7v1.4h-1.7zM372.6 375.6h1.7v1.4h-1.7zM371.6 395.4h1.7v1.4h-1.7zM372.3 387.5h1.7v1.4h-1.7zM375.2 408.3h1.7v1.4h-1.7zM371.2 396.2h1.7v1.4h-1.7zM373.4 380.1h1.7v1.4h-1.7zM371.9 374.8h1.7v1.4h-1.7zM374.7 414.3h1.7v1.4h-1.7zM373.0 411.6h1.7v1.4h-1.7zM372.5 370.7h1.7v1.4h-1.7zM375.1 387.5h1.7v1.4h-1.7zM372.6 388.1h1.7v1.4h-1.7zM375.7 376.0h1.7v1.4h-1.7zM371.3 395.0h1.7v1.4h-1.7zM374.8 368.1h1.7v1.4h-1.7zM373.3 416.5h1.7v1.4h-1.7zM373.3 376.4h1.7v1.4h-1.7zM372.5 407.6h1.7v1.4h-1.7zM372.9 394.2h1.7v1.4h-1.7zM372.1 413.4h1.7v1.4h-1.7zM373.6 405.2h1.7v1.4h-1.7zM372.2 396.7h1.7v1.4h-1.7zM370.9 397.0h1.7v1.4h-1.7zM373.3 380.8h1.7v1.4h-1.7zM371.7 400.9h1.7v1.4h-1.7zM374.3 412.2h1.7v1.4h-1.7zM374.4 416.8h1.7v1.4h-1.7zM372.7 367.6h1.7v1.4h-1.7zM373.4 384.5h1.7v1.4h-1.7zM373.8 394.1h1.7v1.4h-1.7zM375.7 418.5h1.7v1.4h-1.7zM374.5 384.8h1.7v1.4h-1.7zM372.5 379.3h1.7v1.4h-1.7zM371.7 392.7h1.7v1.4h-1.7zM374.3 390.8h1.7v1.4h-1.7zM373.3 384.8h1.7v1.4h-1.7zM372.6 414.6h1.7v1.4h-1.7zM372.7 368.4h1.7v1.4h-1.7zM373.9 396.4h1.7v1.4h-1.7zM371.2 393.9h1.7v1.4h-1.7zM374.8 380.9h1.7v1.4h-1.7zM372.5 400.7h1.7v1.4h-1.7zM373.9 413.5h1.7v1.4h-1.7zM372.2 389.2h1.7v1.4h-1.7zM371.7 418.5h1.7v1.4h-1.7zM372.7 408.4h1.7v1.4h-1.7zM373.6 372.2h1.7v1.4h-1.7zM375.3 379.2h1.7v1.4h-1.7zM371.0 415.5h1.7v1.4h-1.7zM372.2 369.9h1.7v1.4h-1.7zM371.5 401.8h1.7v1.4h-1.7zM374.4 391.6h1.7v1.4h-1.7zM373.2 381.4h1.7v1.4h-1.7zM375.4 371.8h1.7v1.4h-1.7zM371.3 410.7h1.7v1.4h-1.7zM375.2 405.1h1.7v1.4h-1.7zM375.8 414.0h1.7v1.4h-1.7zM372.5 374.3h1.7v1.4h-1.7zM373.8 370.1h1.7v1.4h-1.7zM373.1 371.0h1.7v1.4h-1.7zM374.8 369.0h1.7v1.4h-1.7zM374.9 414.7h1.7v1.4h-1.7zM371.5 392.1h1.7v1.4h-1.7zM371.2 380.0h1.7v1.4h-1.7zM371.3 389.2h1.7v1.4h-1.7zM371.6 392.7h1.7v1.4h-1.7zM374.8 395.8h1.7v1.4h-1.7zM375.8 409.0h1.7v1.4h-1.7zM375.4 383.2h1.7v1.4h-1.7zM374.5 410.6h1.7v1.4h-1.7zM375.8 412.5h1.7v1.4h-1.7zM372.7 417.3h1.7v1.4h-1.7zM373.4 411.1h1.7v1.4h-1.7zM371.1 397.7h1.7v1.4h-1.7zM374.4 415.5h1.7v1.4h-1.7zM374.4 385.0h1.7v1.4h-1.7zM373.2 399.4h1.7v1.4h-1.7zM371.5 384.2h1.7v1.4h-1.7zM375.8 379.3h1.7v1.4h-1.7zM374.5 370.2h1.7v1.4h-1.7zM372.0 371.7h1.7v1.4h-1.7zM372.9 376.8h1.7v1.4h-1.7zM370.9 415.7h1.7v1.4h-1.7zM372.7 378.2h1.7v1.4h-1.7zM371.5 374.9h1.7v1.4h-1.7zM372.5 391.3h1.7v1.4h-1.7zM371.3 399.1h1.7v1.4h-1.7zM371.5 403.1h1.7v1.4h-1.7zM372.0 397.9h1.7v1.4h-1.7zM374.3 377.2h1.7v1.4h-1.7zM375.2 400.4h1.7v1.4h-1.7zM372.4 387.5h1.7v1.4h-1.7zM373.0 418.3h1.7v1.4h-1.7zM374.8 369.5h1.7v1.4h-1.7zM375.0 394.9h1.7v1.4h-1.7zM374.9 375.1h1.7v1.4h-1.7zM372.5 416.7h1.7v1.4h-1.7zM375.2 398.8h1.7v1.4h-1.7zM373.4 380.1h1.7v1.4h-1.7zM372.7 393.4h1.7v1.4h-1.7zM373.0 392.6h1.7v1.4h-1.7zM374.2 414.5h1.7v1.4h-1.7zM374.3 408.7h1.7v1.4h-1.7zM371.5 395.1h1.7v1.4h-1.7zM372.7 373.7h1.7v1.4h-1.7zM372.3 412.0h1.7v1.4h-1.7zM375.8 390.1h1.7v1.4h-1.7zM371.3 395.3h1.7v1.4h-1.7zM371.6 389.4h1.7v1.4h-1.7zM371.4 398.0h1.7v1.4h-1.7zM372.3 382.7h1.7v1.4h-1.7zM371.9 380.2h1.7v1.4h-1.7zM374.6 411.5h1.7v1.4h-1.7zM371.9 373.2h1.7v1.4h-1.7zM373.7 382.9h1.7v1.4h-1.7zM371.5 405.7h1.7v1.4h-1.7zM373.9 386.6h1.7v1.4h-1.7zM375.4 394.0h1.7v1.4h-1.7zM373.9 395.2h1.7v1.4h-1.7zM374.8 416.3h1.7v1.4h-1.7zM371.7 394.7h1.7v1.4h-1.7zM374.3 410.2h1.7v1.4h-1.7zM374.9 369.9h1.7v1.4h-1.7zM371.6 408.9h1.7v1.4h-1.7zM372.4 413.9h1.7v1.4h-1.7zM373.4 394.5h1.7v1.4h-1.7zM372.6 369.1h1.7v1.4h-1.7zM373.0 399.5h1.7v1.4h-1.7zM371.7 380.2h1.7v1.4h-1.7zM373.7 397.3h1.7v1.4h-1.7zM373.9 374.5h1.7v1.4h-1.7zM374.8 390.0h1.7v1.4h-1.7zM375.7 375.2h1.7v1.4h-1.7zM371.1 409.8h1.7v1.4h-1.7zM375.5 380.5h1.7v1.4h-1.7zM373.0 399.6h1.7v1.4h-1.7zM373.9 401.1h1.7v1.4h-1.7zM375.8 418.1h1.7v1.4h-1.7zM370.9 372.0h1.7v1.4h-1.7zM373.5 384.7h1.7v1.4h-1.7zM371.7 394.5h1.7v1.4h-1.7zM372.6 417.6h1.7v1.4h-1.7zM375.8 414.4h1.7v1.4h-1.7zM372.8 411.0h1.7v1.4h-1.7zM373.3 368.9h1.7v1.4h-1.7zM374.4 407.9h1.7v1.4h-1.7zM371.8 400.7h1.7v1.4h-1.7zM374.7 379.1h1.7v1.4h-1.7zM372.6 410.3h1.7v1.4h-1.7zM375.5 376.6h1.7v1.4h-1.7zM373.3 384.2h1.7v1.4h-1.7zM375.1 410.9h1.7v1.4h-1.7zM372.2 394.3h1.7v1.4h-1.7zM372.8 385.1h1.7v1.4h-1.7zM374.8 372.9h1.7v1.4h-1.7zM371.9 403.7h1.7v1.4h-1.7zM373.4 390.7h1.7v1.4h-1.7zM372.0 385.0h1.7v1.4h-1.7zM373.4 413.2h1.7v1.4h-1.7zM375.2 405.7h1.7v1.4h-1.7zM373.6 401.8h1.7v1.4h-1.7zM373.8 415.5h1.7v1.4h-1.7zM374.8 410.2h1.7v1.4h-1.7zM374.7 396.2h1.7v1.4h-1.7zM373.0 390.4h1.7v1.4h-1.7zM375.4 411.3h1.7v1.4h-1.7zM371.7 414.7h1.7v1.4h-1.7zM371.4 388.4h1.7v1.4h-1.7zM371.1 368.5h1.7v1.4h-1.7zM373.1 409.5h1.7v1.4h-1.7zM371.9 375.3h1.7v1.4h-1.7zM374.8 407.8h1.7v1.4h-1.7zM375.6 409.9h1.7v1.4h-1.7zM372.2 379.7h1.7v1.4h-1.7zM372.4 406.1h1.7v1.4h-1.7zM375.3 387.3h1.7v1.4h-1.7zM375.8 408.5h1.7v1.4h-1.7zM372.5 405.6h1.7v1.4h-1.7zM372.7 412.9h1.7v1.4h-1.7zM374.1 401.0h1.7v1.4h-1.7zM373.7 386.7h1.7v1.4h-1.7zM374.0 413.1h1.7v1.4h-1.7zM371.8 404.3h1.7v1.4h-1.7zM374.3 394.8h1.7v1.4h-1.7zM372.7 387.2h1.7v1.4h-1.7zM372.3 415.0h1.7v1.4h-1.7zM371.5 374.6h1.7v1.4h-1.7zM374.3 409.3h1.7v1.4h-1.7zM371.1 383.1h1.7v1.4h-1.7zM375.3 415.9h1.7v1.4h-1.7zM374.2 391.8h1.7v1.4h-1.7zM373.2 409.7h1.7v1.4h-1.7zM375.7 394.7h1.7v1.4h-1.7zM374.3 409.1h1.7v1.4h-1.7zM375.0 390.4h1.7v1.4h-1.7zM371.1 416.9h1.7v1.4h-1.7zM373.0 402.5h1.7v1.4h-1.7zM374.0 372.8h1.7v1.4h-1.7zM371.0 392.2h1.7v1.4h-1.7zM375.5 396.6h1.7v1.4h-1.7zM375.0 384.3h1.7v1.4h-1.7zM373.6 408.3h1.7v1.4h-1.7zM372.3 387.6h1.7v1.4h-1.7zM375.5 379.2h1.7v1.4h-1.7zM371.6 389.3h1.7v1.4h-1.7zM372.4 402.9h1.7v1.4h-1.7zM372.9 400.8h1.7v1.4h-1.7zM371.8 406.4h1.7v1.4h-1.7zM375.4 381.8h1.7v1.4h-1.7zM373.4 415.8h1.7v1.4h-1.7zM371.1 374.0h1.7v1.4h-1.7zM372.3 389.4h1.7v1.4h-1.7zM372.9 367.9h1.7v1.4h-1.7zM372.3 368.6h1.7v1.4h-1.7zM372.8 383.6h1.7v1.4h-1.7zM372.9 398.1h1.7v1.4h-1.7zM370.9 405.1h1.7v1.4h-1.7zM373.9 370.6h1.7v1.4h-1.7zM373.3 416.2h1.7v1.4h-1.7zM375.6 413.8h1.7v1.4h-1.7zM371.8 409.6h1.7v1.4h-1.7zM373.6 404.2h1.7v1.4h-1.7zM374.1 407.3h1.7v1.4h-1.7zM373.2 376.0h1.7v1.4h-1.7zM374.9 370.7h1.7v1.4h-1.7zM372.3 410.2h1.7v1.4h-1.7zM372.4 391.3h1.7v1.4h-1.7zM375.6 410.2h1.7v1.4h-1.7zM373.9 404.8h1.7v1.4h-1.7zM372.4 399.7h1.7v1.4h-1.7zM375.1 375.5h1.7v1.4h-1.7zM372.7 393.9h1.7v1.4h-1.7zM371.8 415.0h1.7v1.4h-1.7zM375.1 369.5h1.7v1.4h-1.7zM373.1 393.1h1.7v1.4h-1.7zM370.9 409.4h1.7v1.4h-1.7zM372.9 378.9h1.7v1.4h-1.7zM372.4 375.1h1.7v1.4h-1.7zM373.9 417.9h1.7v1.4h-1.7zM373.1 370.3h1.7v1.4h-1.7zM375.1 408.6h1.7v1.4h-1.7zM373.1 402.5h1.7v1.4h-1.7zM371.9 408.7h1.7v1.4h-1.7zM375.8 376.6h1.7v1.4h-1.7zM372.9 384.1h1.7v1.4h-1.7zM371.5 372.5h1.7v1.4h-1.7zM372.6 367.8h1.7v1.4h-1.7zM373.7 377.3h1.7v1.4h-1.7zM373.4 415.1h1.7v1.4h-1.7zM374.8 377.6h1.7v1.4h-1.7zM371.2 400.0h1.7v1.4h-1.7zM370.9 391.2h1.7v1.4h-1.7zM371.4 397.9h1.7v1.4h-1.7zM373.2 393.7h1.7v1.4h-1.7zM374.4 385.5h1.7v1.4h-1.7zM372.6 384.7h1.7v1.4h-1.7zM371.3 376.9h1.7v1.4h-1.7zM372.0 389.0h1.7v1.4h-1.7zM371.0 411.7h1.7v1.4h-1.7zM374.9 417.3h1.7v1.4h-1.7zM375.1 368.3h1.7v1.4h-1.7zM374.4 411.2h1.7v1.4h-1.7zM375.3 407.3h1.7v1.4h-1.7zM375.4 398.2h1.7v1.4h-1.7zM372.5 388.6h1.7v1.4h-1.7zM374.1 398.5h1.7v1.4h-1.7zM374.4 370.7h1.7v1.4h-1.7zM372.6 407.7h1.7v1.4h-1.7zM374.2 388.7h1.7v1.4h-1.7zM373.4 377.1h1.7v1.4h-1.7zM374.3 407.1h1.7v1.4h-1.7zM372.1 383.2h1.7v1.4h-1.7zM372.9 406.4h1.7v1.4h-1.7zM371.0 415.5h1.7v1.4h-1.7zM375.8 408.8h1.7v1.4h-1.7zM374.0 387.6h1.7v1.4h-1.7zM375.1 368.0h1.7v1.4h-1.7zM371.4 399.9h1.7v1.4h-1.7zM372.1 379.5h1.7v1.4h-1.7zM371.3 407.1h1.7v1.4h-1.7zM375.1 395.8h1.7v1.4h-1.7zM380.9 386.2h1.7v1.4h-1.7zM384.4 375.4h1.7v1.4h-1.7zM381.6 375.0h1.7v1.4h-1.7zM382.1 370.0h1.7v1.4h-1.7zM385.5 386.9h1.7v1.4h-1.7zM383.2 374.8h1.7v1.4h-1.7zM381.3 381.4h1.7v1.4h-1.7zM382.5 386.6h1.7v1.4h-1.7zM381.4 377.8h1.7v1.4h-1.7zM383.4 382.4h1.7v1.4h-1.7zM382.3 374.2h1.7v1.4h-1.7zM384.7 384.8h1.7v1.4h-1.7zM383.5 380.6h1.7v1.4h-1.7zM382.0 393.1h1.7v1.4h-1.7zM381.1 379.6h1.7v1.4h-1.7zM380.9 366.5h1.7v1.4h-1.7zM384.6 381.4h1.7v1.4h-1.7zM382.5 388.5h1.7v1.4h-1.7zM380.8 375.4h1.7v1.4h-1.7zM385.6 388.4h1.7v1.4h-1.7zM383.2 386.6h1.7v1.4h-1.7zM385.4 376.4h1.7v1.4h-1.7zM381.2 388.9h1.7v1.4h-1.7zM383.4 390.2h1.7v1.4h-1.7zM384.0 372.7h1.7v1.4h-1.7zM380.8 381.9h1.7v1.4h-1.7zM383.0 375.3h1.7v1.4h-1.7zM384.2 376.3h1.7v1.4h-1.7zM384.8 367.3h1.7v1.4h-1.7zM380.8 375.9h1.7v1.4h-1.7zM381.6 390.9h1.7v1.4h-1.7zM383.9 392.7h1.7v1.4h-1.7zM382.2 389.4h1.7v1.4h-1.7zM385.6 389.9h1.7v1.4h-1.7zM384.5 369.2h1.7v1.4h-1.7zM385.2 368.1h1.7v1.4h-1.7zM382.5 370.6h1.7v1.4h-1.7zM381.3 392.7h1.7v1.4h-1.7zM383.8 390.6h1.7v1.4h-1.7zM382.6 376.3h1.7v1.4h-1.7zM384.9 392.8h1.7v1.4h-1.7zM384.5 390.2h1.7v1.4h-1.7zM385.0 387.0h1.7v1.4h-1.7zM385.3 387.1h1.7v1.4h-1.7zM380.7 370.8h1.7v1.4h-1.7zM382.4 372.2h1.7v1.4h-1.7zM385.5 390.0h1.7v1.4h-1.7zM383.4 372.2h1.7v1.4h-1.7zM381.2 366.9h1.7v1.4h-1.7zM381.6 372.8h1.7v1.4h-1.7zM385.0 374.2h1.7v1.4h-1.7zM383.2 382.4h1.7v1.4h-1.7zM385.6 385.4h1.7v1.4h-1.7zM382.1 378.7h1.7v1.4h-1.7zM382.4 371.8h1.7v1.4h-1.7zM384.5 381.5h1.7v1.4h-1.7zM382.5 383.6h1.7v1.4h-1.7zM381.3 382.3h1.7v1.4h-1.7zM384.8 391.6h1.7v1.4h-1.7zM383.4 372.4h1.7v1.4h-1.7zM384.4 393.5h1.7v1.4h-1.7zM382.4 374.6h1.7v1.4h-1.7zM381.6 375.0h1.7v1.4h-1.7zM384.5 381.3h1.7v1.4h-1.7zM381.7 371.5h1.7v1.4h-1.7zM381.6 383.4h1.7v1.4h-1.7zM381.3 371.9h1.7v1.4h-1.7zM382.7 387.9h1.7v1.4h-1.7zM385.2 377.1h1.7v1.4h-1.7zM384.7 371.2h1.7v1.4h-1.7zM381.9 376.1h1.7v1.4h-1.7zM383.7 384.9h1.7v1.4h-1.7zM384.4 371.9h1.7v1.4h-1.7zM381.2 370.8h1.7v1.4h-1.7zM381.5 382.1h1.7v1.4h-1.7zM385.4 389.3h1.7v1.4h-1.7zM384.6 381.1h1.7v1.4h-1.7zM382.0 391.6h1.7v1.4h-1.7zM383.9 393.6h1.7v1.4h-1.7zM383.6 370.5h1.7v1.4h-1.7zM381.6 390.1h1.7v1.4h-1.7zM381.5 378.1h1.7v1.4h-1.7zM382.9 375.6h1.7v1.4h-1.7zM385.5 390.9h1.7v1.4h-1.7zM381.3 392.9h1.7v1.4h-1.7zM383.5 369.5h1.7v1.4h-1.7zM385.0 376.0h1.7v1.4h-1.7zM383.0 372.5h1.7v1.4h-1.7zM383.3 373.4h1.7v1.4h-1.7zM385.6 368.7h1.7v1.4h-1.7zM382.6 377.6h1.7v1.4h-1.7zM384.8 379.6h1.7v1.4h-1.7zM384.2 371.6h1.7v1.4h-1.7zM384.5 381.4h1.7v1.4h-1.7zM385.1 390.7h1.7v1.4h-1.7zM382.6 382.0h1.7v1.4h-1.7zM384.2 391.5h1.7v1.4h-1.7zM381.5 380.1h1.7v1.4h-1.7zM384.8 369.7h1.7v1.4h-1.7zM385.7 382.5h1.7v1.4h-1.7zM384.0 366.4h1.7v1.4h-1.7zM383.0 379.6h1.7v1.4h-1.7zM381.8 393.6h1.7v1.4h-1.7zM383.5 376.5h1.7v1.4h-1.7zM384.8 391.4h1.7v1.4h-1.7zM382.1 366.3h1.7v1.4h-1.7zM382.2 372.5h1.7v1.4h-1.7zM382.8 393.7h1.7v1.4h-1.7zM381.1 377.0h1.7v1.4h-1.7zM381.1 375.4h1.7v1.4h-1.7zM384.9 381.2h1.7v1.4h-1.7zM385.0 373.6h1.7v1.4h-1.7zM384.0 369.1h1.7v1.4h-1.7zM383.3 368.3h1.7v1.4h-1.7zM384.3 379.1h1.7v1.4h-1.7zM383.5 383.6h1.7v1.4h-1.7zM383.3 367.9h1.7v1.4h-1.7zM382.9 390.3h1.7v1.4h-1.7zM384.0 382.1h1.7v1.4h-1.7zM385.2 383.7h1.7v1.4h-1.7zM382.0 384.3h1.7v1.4h-1.7zM384.9 371.9h1.7v1.4h-1.7zM381.9 371.5h1.7v1.4h-1.7zM385.5 373.7h1.7v1.4h-1.7zM384.5 367.3h1.7v1.4h-1.7zM380.9 386.0h1.7v1.4h-1.7zM381.7 378.7h1.7v1.4h-1.7zM383.9 373.2h1.7v1.4h-1.7zM383.8 368.3h1.7v1.4h-1.7zM381.3 367.0h1.7v1.4h-1.7zM384.1 385.5h1.7v1.4h-1.7zM383.1 376.2h1.7v1.4h-1.7zM385.6 374.2h1.7v1.4h-1.7zM384.9 392.8h1.7v1.4h-1.7zM384.6 390.8h1.7v1.4h-1.7zM382.8 383.6h1.7v1.4h-1.7zM385.3 369.5h1.7v1.4h-1.7zM383.5 385.2h1.7v1.4h-1.7zM384.7 381.7h1.7v1.4h-1.7zM385.5 388.6h1.7v1.4h-1.7zM385.7 391.4h1.7v1.4h-1.7zM383.4 393.2h1.7v1.4h-1.7zM383.7 368.6h1.7v1.4h-1.7zM383.8 382.7h1.7v1.4h-1.7zM382.0 387.4h1.7v1.4h-1.7zM384.2 392.0h1.7v1.4h-1.7zM383.0 380.2h1.7v1.4h-1.7zM383.7 387.0h1.7v1.4h-1.7zM384.3 367.6h1.7v1.4h-1.7zM384.6 369.7h1.7v1.4h-1.7zM382.2 368.5h1.7v1.4h-1.7zM384.5 366.1h1.7v1.4h-1.7zM385.4 374.7h1.7v1.4h-1.7zM381.7 383.8h1.7v1.4h-1.7zM385.5 385.7h1.7v1.4h-1.7zM382.7 375.4h1.7v1.4h-1.7zM384.0 372.7h1.7v1.4h-1.7zM382.1 384.2h1.7v1.4h-1.7zM381.3 383.2h1.7v1.4h-1.7zM384.6 390.2h1.7v1.4h-1.7zM382.7 383.6h1.7v1.4h-1.7zM382.9 382.9h1.7v1.4h-1.7zM382.7 377.1h1.7v1.4h-1.7zM384.7 373.2h1.7v1.4h-1.7zM385.5 379.8h1.7v1.4h-1.7zM381.9 374.7h1.7v1.4h-1.7zM381.6 386.1h1.7v1.4h-1.7zM382.5 367.5h1.7v1.4h-1.7zM382.7 388.4h1.7v1.4h-1.7zM382.7 365.6h1.7v1.4h-1.7zM382.7 380.4h1.7v1.4h-1.7zM384.2 371.9h1.7v1.4h-1.7zM382.0 379.3h1.7v1.4h-1.7zM384.1 393.4h1.7v1.4h-1.7zM383.2 369.3h1.7v1.4h-1.7zM383.0 367.3h1.7v1.4h-1.7zM383.3 384.7h1.7v1.4h-1.7zM381.6 374.6h1.7v1.4h-1.7zM383.7 368.0h1.7v1.4h-1.7zM382.5 377.1h1.7v1.4h-1.7zM384.6 383.9h1.7v1.4h-1.7zM380.8 376.9h1.7v1.4h-1.7zM383.5 378.5h1.7v1.4h-1.7zM382.3 377.6h1.7v1.4h-1.7zM385.6 379.9h1.7v1.4h-1.7zM385.1 374.7h1.7v1.4h-1.7zM382.9 422.3h1.7v1.4h-1.7zM382.9 426.9h1.7v1.4h-1.7zM382.6 424.2h1.7v1.4h-1.7zM385.3 406.1h1.7v1.4h-1.7zM382.3 409.8h1.7v1.4h-1.7zM383.3 427.3h1.7v1.4h-1.7zM383.9 416.9h1.7v1.4h-1.7zM382.0 412.4h1.7v1.4h-1.7zM380.7 424.9h1.7v1.4h-1.7zM380.9 421.0h1.7v1.4h-1.7zM381.2 417.1h1.7v1.4h-1.7zM384.8 417.7h1.7v1.4h-1.7zM385.3 408.4h1.7v1.4h-1.7zM385.4 428.0h1.7v1.4h-1.7zM385.6 412.0h1.7v1.4h-1.7zM383.2 427.8h1.7v1.4h-1.7zM383.9 420.6h1.7v1.4h-1.7zM380.9 410.4h1.7v1.4h-1.7zM381.8 410.2h1.7v1.4h-1.7zM383.9 409.4h1.7v1.4h-1.7zM384.2 428.3h1.7v1.4h-1.7zM383.2 406.1h1.7v1.4h-1.7zM384.2 427.5h1.7v1.4h-1.7zM382.2 427.4h1.7v1.4h-1.7zM385.3 416.3h1.7v1.4h-1.7zM392.2 362.4h1.7v1.4h-1.7zM393.8 361.3h1.7v1.4h-1.7zM395.3 362.8h1.7v1.4h-1.7zM393.8 364.2h1.7v1.4h-1.7zM391.7 362.1h1.7v1.4h-1.7zM392.5 363.2h1.7v1.4h-1.7zM395.6 360.6h1.7v1.4h-1.7zM391.1 361.2h1.7v1.4h-1.7zM393.5 382.5h1.7v1.4h-1.7zM395.3 378.6h1.7v1.4h-1.7zM392.5 378.9h1.7v1.4h-1.7zM392.6 366.2h1.7v1.4h-1.7zM391.5 375.0h1.7v1.4h-1.7zM393.7 380.4h1.7v1.4h-1.7zM394.3 366.6h1.7v1.4h-1.7zM391.7 368.7h1.7v1.4h-1.7zM392.9 382.3h1.7v1.4h-1.7zM394.1 376.7h1.7v1.4h-1.7zM391.0 374.1h1.7v1.4h-1.7zM393.9 369.0h1.7v1.4h-1.7zM392.8 374.3h1.7v1.4h-1.7zM392.0 374.4h1.7v1.4h-1.7zM393.2 384.6h1.7v1.4h-1.7zM394.8 376.0h1.7v1.4h-1.7zM395.2 378.5h1.7v1.4h-1.7zM394.0 378.4h1.7v1.4h-1.7zM395.2 376.6h1.7v1.4h-1.7zM392.5 381.9h1.7v1.4h-1.7zM393.1 372.9h1.7v1.4h-1.7zM394.8 379.8h1.7v1.4h-1.7zM390.9 376.7h1.7v1.4h-1.7zM393.5 373.5h1.7v1.4h-1.7zM395.5 366.7h1.7v1.4h-1.7zM392.8 383.0h1.7v1.4h-1.7zM392.9 374.8h1.7v1.4h-1.7zM395.0 379.7h1.7v1.4h-1.7zM394.0 381.9h1.7v1.4h-1.7zM391.5 379.5h1.7v1.4h-1.7zM390.8 369.2h1.7v1.4h-1.7zM394.3 382.9h1.7v1.4h-1.7zM395.2 369.5h1.7v1.4h-1.7zM393.1 367.8h1.7v1.4h-1.7zM391.0 379.0h1.7v1.4h-1.7zM390.6 366.0h1.7v1.4h-1.7zM394.3 372.1h1.7v1.4h-1.7zM392.8 372.8h1.7v1.4h-1.7zM392.0 376.2h1.7v1.4h-1.7zM395.2 382.2h1.7v1.4h-1.7zM390.9 372.8h1.7v1.4h-1.7zM392.3 380.1h1.7v1.4h-1.7zM395.2 386.4h1.7v1.4h-1.7zM390.8 370.3h1.7v1.4h-1.7zM395.3 382.1h1.7v1.4h-1.7zM394.8 371.9h1.7v1.4h-1.7zM390.7 379.4h1.7v1.4h-1.7zM390.6 370.1h1.7v1.4h-1.7zM391.8 369.4h1.7v1.4h-1.7zM392.2 380.7h1.7v1.4h-1.7zM392.3 382.4h1.7v1.4h-1.7zM392.8 373.3h1.7v1.4h-1.7zM392.8 377.8h1.7v1.4h-1.7zM395.1 370.2h1.7v1.4h-1.7zM391.8 381.4h1.7v1.4h-1.7zM395.6 385.4h1.7v1.4h-1.7zM391.2 376.0h1.7v1.4h-1.7zM390.8 372.3h1.7v1.4h-1.7zM391.7 370.8h1.7v1.4h-1.7zM391.0 370.2h1.7v1.4h-1.7zM395.5 379.8h1.7v1.4h-1.7zM394.0 370.8h1.7v1.4h-1.7zM392.2 383.4h1.7v1.4h-1.7zM395.2 375.7h1.7v1.4h-1.7zM391.1 376.0h1.7v1.4h-1.7zM393.9 381.4h1.7v1.4h-1.7zM394.6 386.1h1.7v1.4h-1.7zM391.2 385.0h1.7v1.4h-1.7zM392.9 377.6h1.7v1.4h-1.7zM393.4 378.1h1.7v1.4h-1.7zM392.8 382.9h1.7v1.4h-1.7zM392.4 370.6h1.7v1.4h-1.7zM391.8 372.0h1.7v1.4h-1.7zM392.3 386.3h1.7v1.4h-1.7zM392.9 372.2h1.7v1.4h-1.7zM392.7 378.1h1.7v1.4h-1.7zM392.3 372.9h1.7v1.4h-1.7zM394.0 380.0h1.7v1.4h-1.7zM394.1 381.3h1.7v1.4h-1.7zM392.5 370.4h1.7v1.4h-1.7zM393.5 367.8h1.7v1.4h-1.7zM394.1 383.9h1.7v1.4h-1.7zM394.2 367.7h1.7v1.4h-1.7zM394.1 372.9h1.7v1.4h-1.7zM391.0 385.6h1.7v1.4h-1.7zM392.6 367.1h1.7v1.4h-1.7zM392.7 378.8h1.7v1.4h-1.7zM395.3 367.4h1.7v1.4h-1.7zM394.7 368.4h1.7v1.4h-1.7zM391.2 367.8h1.7v1.4h-1.7zM394.0 381.5h1.7v1.4h-1.7zM394.4 369.8h1.7v1.4h-1.7zM393.8 375.8h1.7v1.4h-1.7zM392.5 375.4h1.7v1.4h-1.7zM395.1 369.9h1.7v1.4h-1.7zM391.8 368.2h1.7v1.4h-1.7zM393.6 366.1h1.7v1.4h-1.7zM393.3 380.0h1.7v1.4h-1.7zM392.8 366.6h1.7v1.4h-1.7zM392.4 380.6h1.7v1.4h-1.7zM393.9 381.2h1.7v1.4h-1.7zM392.5 386.0h1.7v1.4h-1.7zM390.6 377.8h1.7v1.4h-1.7zM392.2 367.7h1.7v1.4h-1.7zM393.2 378.9h1.7v1.4h-1.7zM391.6 383.8h1.7v1.4h-1.7zM393.5 371.0h1.7v1.4h-1.7zM392.3 378.7h1.7v1.4h-1.7zM394.5 366.2h1.7v1.4h-1.7zM391.9 374.7h1.7v1.4h-1.7zM395.0 377.1h1.7v1.4h-1.7zM392.7 377.0h1.7v1.4h-1.7zM392.5 370.6h1.7v1.4h-1.7zM391.6 368.1h1.7v1.4h-1.7zM395.5 370.2h1.7v1.4h-1.7zM393.3 378.3h1.7v1.4h-1.7zM391.4 369.6h1.7v1.4h-1.7zM391.0 376.7h1.7v1.4h-1.7zM391.3 380.5h1.7v1.4h-1.7zM395.2 365.9h1.7v1.4h-1.7zM395.0 381.0h1.7v1.4h-1.7zM391.4 377.9h1.7v1.4h-1.7zM392.4 371.6h1.7v1.4h-1.7zM392.3 385.7h1.7v1.4h-1.7zM392.6 375.0h1.7v1.4h-1.7zM391.3 384.1h1.7v1.4h-1.7zM392.2 371.2h1.7v1.4h-1.7zM391.9 383.4h1.7v1.4h-1.7zM391.3 373.6h1.7v1.4h-1.7zM393.7 371.5h1.7v1.4h-1.7zM393.9 385.5h1.7v1.4h-1.7zM391.3 383.9h1.7v1.4h-1.7zM393.2 384.2h1.7v1.4h-1.7zM391.4 367.4h1.7v1.4h-1.7zM395.1 370.0h1.7v1.4h-1.7zM395.0 369.6h1.7v1.4h-1.7zM394.9 383.4h1.7v1.4h-1.7zM391.5 384.4h1.7v1.4h-1.7zM393.3 382.3h1.7v1.4h-1.7zM391.7 394.1h1.7v1.4h-1.7zM393.0 392.5h1.7v1.4h-1.7zM392.2 395.8h1.7v1.4h-1.7zM391.9 395.6h1.7v1.4h-1.7zM392.6 393.1h1.7v1.4h-1.7zM393.9 394.4h1.7v1.4h-1.7zM392.6 393.0h1.7v1.4h-1.7zM393.9 392.4h1.7v1.4h-1.7zM391.9 395.5h1.7v1.4h-1.7zM392.2 393.9h1.7v1.4h-1.7zM395.3 392.7h1.7v1.4h-1.7zM390.9 394.3h1.7v1.4h-1.7zM393.9 394.9h1.7v1.4h-1.7zM395.5 394.1h1.7v1.4h-1.7zM394.0 394.7h1.7v1.4h-1.7zM390.8 395.6h1.7v1.4h-1.7zM391.3 392.7h1.7v1.4h-1.7zM391.3 395.1h1.7v1.4h-1.7zM395.3 394.1h1.7v1.4h-1.7zM390.9 392.1h1.7v1.4h-1.7zM391.3 392.8h1.7v1.4h-1.7zM391.6 395.6h1.7v1.4h-1.7zM393.1 392.4h1.7v1.4h-1.7zM395.5 393.2h1.7v1.4h-1.7zM391.0 392.0h1.7v1.4h-1.7zM392.4 394.3h1.7v1.4h-1.7zM394.5 394.0h1.7v1.4h-1.7zM395.4 394.6h1.7v1.4h-1.7zM395.1 393.7h1.7v1.4h-1.7zM392.3 392.6h1.7v1.4h-1.7zM394.3 392.2h1.7v1.4h-1.7zM392.5 393.4h1.7v1.4h-1.7zM392.2 410.8h1.7v1.4h-1.7zM392.5 402.6h1.7v1.4h-1.7zM392.4 402.2h1.7v1.4h-1.7zM393.3 402.5h1.7v1.4h-1.7zM391.9 408.3h1.7v1.4h-1.7zM390.9 403.8h1.7v1.4h-1.7zM392.6 406.2h1.7v1.4h-1.7zM393.4 408.4h1.7v1.4h-1.7zM393.8 403.8h1.7v1.4h-1.7zM393.4 402.3h1.7v1.4h-1.7zM395.2 403.7h1.7v1.4h-1.7zM391.3 416.5h1.7v1.4h-1.7zM393.0 402.1h1.7v1.4h-1.7zM391.4 403.4h1.7v1.4h-1.7zM393.4 404.9h1.7v1.4h-1.7zM393.4 415.8h1.7v1.4h-1.7zM394.7 405.8h1.7v1.4h-1.7zM393.6 412.1h1.7v1.4h-1.7zM395.1 412.8h1.7v1.4h-1.7zM395.6 415.9h1.7v1.4h-1.7zM393.9 407.9h1.7v1.4h-1.7zM394.8 429.6h1.7v1.4h-1.7zM392.5 429.3h1.7v1.4h-1.7zM395.1 428.6h1.7v1.4h-1.7zM392.4 426.8h1.7v1.4h-1.7zM394.0 427.4h1.7v1.4h-1.7zM391.7 426.7h1.7v1.4h-1.7zM394.8 429.6h1.7v1.4h-1.7zM391.6 427.4h1.7v1.4h-1.7zM392.3 428.6h1.7v1.4h-1.7zM391.0 426.9h1.7v1.4h-1.7zM394.2 430.0h1.7v1.4h-1.7zM390.7 428.3h1.7v1.4h-1.7zM393.8 427.7h1.7v1.4h-1.7zM394.7 426.5h1.7v1.4h-1.7zM394.0 427.4h1.7v1.4h-1.7zM393.9 428.9h1.7v1.4h-1.7zM395.6 429.2h1.7v1.4h-1.7zM392.2 426.8h1.7v1.4h-1.7zM394.5 429.7h1.7v1.4h-1.7zM393.2 427.8h1.7v1.4h-1.7zM393.4 427.5h1.7v1.4h-1.7zM395.1 429.3h1.7v1.4h-1.7zM391.7 426.5h1.7v1.4h-1.7zM391.5 428.3h1.7v1.4h-1.7zM393.7 429.4h1.7v1.4h-1.7zM393.7 428.2h1.7v1.4h-1.7zM392.2 429.4h1.7v1.4h-1.7zM394.5 426.6h1.7v1.4h-1.7zM395.4 428.0h1.7v1.4h-1.7zM391.8 427.1h1.7v1.4h-1.7zM394.0 428.8h1.7v1.4h-1.7zM395.2 427.0h1.7v1.4h-1.7zM392.9 429.4h1.7v1.4h-1.7zM392.1 428.9h1.7v1.4h-1.7zM395.5 427.0h1.7v1.4h-1.7zM394.2 430.0h1.7v1.4h-1.7zM393.4 429.2h1.7v1.4h-1.7zM391.9 429.6h1.7v1.4h-1.7zM392.1 426.3h1.7v1.4h-1.7zM395.2 429.2h1.7v1.4h-1.7zM405.4 361.0h1.7v1.4h-1.7zM403.1 364.6h1.7v1.4h-1.7zM402.6 363.3h1.7v1.4h-1.7zM404.1 364.4h1.7v1.4h-1.7zM405.3 360.7h1.7v1.4h-1.7zM401.8 363.2h1.7v1.4h-1.7zM404.0 399.6h1.7v1.4h-1.7zM404.9 402.1h1.7v1.4h-1.7zM404.0 383.1h1.7v1.4h-1.7zM402.2 396.6h1.7v1.4h-1.7zM402.5 399.3h1.7v1.4h-1.7zM401.1 390.1h1.7v1.4h-1.7zM401.9 402.6h1.7v1.4h-1.7zM404.1 365.9h1.7v1.4h-1.7zM403.7 405.1h1.7v1.4h-1.7zM405.4 387.9h1.7v1.4h-1.7zM403.9 378.3h1.7v1.4h-1.7zM401.2 376.0h1.7v1.4h-1.7zM405.0 405.4h1.7v1.4h-1.7zM401.6 389.5h1.7v1.4h-1.7zM401.9 374.8h1.7v1.4h-1.7zM403.6 392.2h1.7v1.4h-1.7zM404.8 365.3h1.7v1.4h-1.7zM400.5 395.5h1.7v1.4h-1.7zM403.6 382.3h1.7v1.4h-1.7zM404.2 408.7h1.7v1.4h-1.7zM405.3 367.3h1.7v1.4h-1.7zM401.0 372.3h1.7v1.4h-1.7zM401.5 393.8h1.7v1.4h-1.7zM405.3 412.6h1.7v1.4h-1.7zM405.2 368.3h1.7v1.4h-1.7zM400.9 391.8h1.7v1.4h-1.7zM404.9 408.5h1.7v1.4h-1.7zM404.8 402.0h1.7v1.4h-1.7zM402.9 412.8h1.7v1.4h-1.7zM403.6 395.5h1.7v1.4h-1.7zM403.5 386.1h1.7v1.4h-1.7zM400.9 414.2h1.7v1.4h-1.7zM403.6 377.8h1.7v1.4h-1.7zM402.9 367.7h1.7v1.4h-1.7zM402.5 413.3h1.7v1.4h-1.7zM401.1 385.8h1.7v1.4h-1.7zM401.4 401.4h1.7v1.4h-1.7zM400.9 391.9h1.7v1.4h-1.7zM403.9 381.0h1.7v1.4h-1.7zM404.1 409.5h1.7v1.4h-1.7zM401.0 398.3h1.7v1.4h-1.7zM404.0 406.7h1.7v1.4h-1.7zM404.6 409.3h1.7v1.4h-1.7zM401.5 405.4h1.7v1.4h-1.7zM402.5 381.0h1.7v1.4h-1.7zM403.8 377.4h1.7v1.4h-1.7zM404.4 396.2h1.7v1.4h-1.7zM404.5 365.8h1.7v1.4h-1.7zM405.2 402.8h1.7v1.4h-1.7zM400.6 387.5h1.7v1.4h-1.7zM402.2 375.4h1.7v1.4h-1.7zM401.2 414.4h1.7v1.4h-1.7zM403.3 364.9h1.7v1.4h-1.7zM400.5 402.4h1.7v1.4h-1.7zM404.6 388.1h1.7v1.4h-1.7zM404.2 377.4h1.7v1.4h-1.7zM401.5 415.2h1.7v1.4h-1.7zM402.3 410.6h1.7v1.4h-1.7zM404.3 410.5h1.7v1.4h-1.7zM402.9 385.9h1.7v1.4h-1.7zM400.7 379.6h1.7v1.4h-1.7zM404.3 385.2h1.7v1.4h-1.7zM403.0 385.5h1.7v1.4h-1.7zM402.0 414.2h1.7v1.4h-1.7zM405.2 367.8h1.7v1.4h-1.7zM405.3 396.8h1.7v1.4h-1.7zM403.3 386.4h1.7v1.4h-1.7zM402.5 386.3h1.7v1.4h-1.7zM402.8 387.1h1.7v1.4h-1.7zM404.1 405.8h1.7v1.4h-1.7zM405.1 380.2h1.7v1.4h-1.7zM401.1 400.2h1.7v1.4h-1.7zM403.8 374.1h1.7v1.4h-1.7zM403.1 407.8h1.7v1.4h-1.7zM401.6 365.4h1.7v1.4h-1.7zM404.1 392.8h1.7v1.4h-1.7zM405.3 393.7h1.7v1.4h-1.7zM401.5 412.8h1.7v1.4h-1.7zM405.3 414.6h1.7v1.4h-1.7zM403.4 406.3h1.7v1.4h-1.7zM401.3 375.8h1.7v1.4h-1.7zM403.1 374.4h1.7v1.4h-1.7zM404.5 388.2h1.7v1.4h-1.7zM402.8 411.8h1.7v1.4h-1.7zM402.6 385.3h1.7v1.4h-1.7zM403.7 384.8h1.7v1.4h-1.7zM404.5 370.5h1.7v1.4h-1.7zM403.3 372.8h1.7v1.4h-1.7zM404.0 365.3h1.7v1.4h-1.7zM402.2 395.9h1.7v1.4h-1.7zM403.0 374.0h1.7v1.4h-1.7zM404.9 413.9h1.7v1.4h-1.7zM400.6 393.1h1.7v1.4h-1.7zM402.2 412.0h1.7v1.4h-1.7zM402.3 412.5h1.7v1.4h-1.7zM404.0 372.6h1.7v1.4h-1.7zM405.3 373.0h1.7v1.4h-1.7zM403.6 409.6h1.7v1.4h-1.7zM405.4 368.9h1.7v1.4h-1.7zM402.3 391.8h1.7v1.4h-1.7zM401.5 414.7h1.7v1.4h-1.7zM405.3 365.3h1.7v1.4h-1.7zM402.5 390.6h1.7v1.4h-1.7zM404.1 372.6h1.7v1.4h-1.7zM404.8 389.4h1.7v1.4h-1.7zM402.7 405.3h1.7v1.4h-1.7zM401.6 390.9h1.7v1.4h-1.7zM401.2 409.8h1.7v1.4h-1.7zM401.3 373.6h1.7v1.4h-1.7zM404.1 384.0h1.7v1.4h-1.7zM405.4 373.7h1.7v1.4h-1.7zM403.8 386.5h1.7v1.4h-1.7zM401.1 389.3h1.7v1.4h-1.7zM400.7 414.5h1.7v1.4h-1.7zM403.3 372.5h1.7v1.4h-1.7zM402.7 399.0h1.7v1.4h-1.7zM404.1 371.7h1.7v1.4h-1.7zM402.8 413.0h1.7v1.4h-1.7zM404.6 382.9h1.7v1.4h-1.7zM401.0 377.5h1.7v1.4h-1.7zM404.2 369.9h1.7v1.4h-1.7zM401.5 365.1h1.7v1.4h-1.7zM402.4 412.4h1.7v1.4h-1.7zM403.3 376.6h1.7v1.4h-1.7zM400.6 414.5h1.7v1.4h-1.7zM402.5 391.6h1.7v1.4h-1.7zM401.7 396.4h1.7v1.4h-1.7zM405.1 392.0h1.7v1.4h-1.7zM402.3 411.6h1.7v1.4h-1.7zM400.8 389.1h1.7v1.4h-1.7zM404.9 385.6h1.7v1.4h-1.7zM402.1 408.6h1.7v1.4h-1.7zM403.7 401.3h1.7v1.4h-1.7zM402.7 378.0h1.7v1.4h-1.7zM403.3 410.7h1.7v1.4h-1.7zM402.4 385.2h1.7v1.4h-1.7zM404.9 377.2h1.7v1.4h-1.7zM401.3 386.8h1.7v1.4h-1.7zM405.0 390.9h1.7v1.4h-1.7zM401.9 379.8h1.7v1.4h-1.7zM402.8 411.6h1.7v1.4h-1.7zM401.3 396.4h1.7v1.4h-1.7zM405.3 409.0h1.7v1.4h-1.7zM403.2 415.2h1.7v1.4h-1.7zM402.1 368.6h1.7v1.4h-1.7zM402.1 382.4h1.7v1.4h-1.7zM405.1 376.0h1.7v1.4h-1.7zM401.0 381.9h1.7v1.4h-1.7zM402.7 411.4h1.7v1.4h-1.7zM401.9 381.3h1.7v1.4h-1.7zM401.7 375.1h1.7v1.4h-1.7zM400.6 398.0h1.7v1.4h-1.7zM401.9 382.4h1.7v1.4h-1.7zM403.9 372.9h1.7v1.4h-1.7zM401.2 368.9h1.7v1.4h-1.7zM405.0 396.8h1.7v1.4h-1.7zM402.6 365.7h1.7v1.4h-1.7zM403.2 369.7h1.7v1.4h-1.7zM404.6 414.4h1.7v1.4h-1.7zM402.4 382.2h1.7v1.4h-1.7zM401.3 410.3h1.7v1.4h-1.7zM401.3 387.2h1.7v1.4h-1.7zM401.0 378.3h1.7v1.4h-1.7zM405.1 388.5h1.7v1.4h-1.7zM401.0 373.8h1.7v1.4h-1.7zM400.8 391.3h1.7v1.4h-1.7zM404.0 376.6h1.7v1.4h-1.7zM400.9 376.2h1.7v1.4h-1.7zM405.4 405.6h1.7v1.4h-1.7zM403.0 370.2h1.7v1.4h-1.7zM401.7 364.9h1.7v1.4h-1.7zM402.1 368.0h1.7v1.4h-1.7zM403.5 401.2h1.7v1.4h-1.7zM401.8 382.7h1.7v1.4h-1.7zM401.5 380.2h1.7v1.4h-1.7zM405.2 370.1h1.7v1.4h-1.7zM401.0 412.0h1.7v1.4h-1.7zM404.5 406.9h1.7v1.4h-1.7zM400.8 390.4h1.7v1.4h-1.7zM401.2 393.7h1.7v1.4h-1.7zM405.2 390.3h1.7v1.4h-1.7zM405.3 386.0h1.7v1.4h-1.7zM403.3 376.5h1.7v1.4h-1.7zM401.1 364.8h1.7v1.4h-1.7zM400.6 379.4h1.7v1.4h-1.7zM405.1 397.3h1.7v1.4h-1.7zM403.5 370.6h1.7v1.4h-1.7zM401.4 402.5h1.7v1.4h-1.7zM404.6 366.2h1.7v1.4h-1.7zM405.3 395.5h1.7v1.4h-1.7zM401.8 414.6h1.7v1.4h-1.7zM403.5 400.5h1.7v1.4h-1.7zM403.5 379.8h1.7v1.4h-1.7zM404.8 403.5h1.7v1.4h-1.7zM401.1 386.9h1.7v1.4h-1.7zM403.5 403.4h1.7v1.4h-1.7zM404.9 412.0h1.7v1.4h-1.7zM402.0 369.6h1.7v1.4h-1.7zM402.2 371.6h1.7v1.4h-1.7zM405.1 378.0h1.7v1.4h-1.7zM402.4 383.3h1.7v1.4h-1.7zM401.8 385.1h1.7v1.4h-1.7zM401.0 366.8h1.7v1.4h-1.7zM405.3 413.1h1.7v1.4h-1.7zM401.6 382.8h1.7v1.4h-1.7zM403.1 378.6h1.7v1.4h-1.7zM403.6 369.1h1.7v1.4h-1.7zM405.1 408.7h1.7v1.4h-1.7zM402.0 377.1h1.7v1.4h-1.7zM405.1 413.7h1.7v1.4h-1.7zM401.1 370.5h1.7v1.4h-1.7zM402.3 394.4h1.7v1.4h-1.7zM404.2 396.7h1.7v1.4h-1.7zM403.8 405.5h1.7v1.4h-1.7zM404.7 367.4h1.7v1.4h-1.7zM402.9 365.8h1.7v1.4h-1.7zM402.7 405.0h1.7v1.4h-1.7zM400.5 370.1h1.7v1.4h-1.7zM402.0 367.2h1.7v1.4h-1.7zM402.4 378.7h1.7v1.4h-1.7zM401.5 365.8h1.7v1.4h-1.7zM402.0 377.3h1.7v1.4h-1.7zM402.8 371.8h1.7v1.4h-1.7zM405.3 405.0h1.7v1.4h-1.7zM402.2 394.8h1.7v1.4h-1.7zM401.2 409.4h1.7v1.4h-1.7zM404.7 408.1h1.7v1.4h-1.7zM401.2 384.2h1.7v1.4h-1.7zM401.8 390.1h1.7v1.4h-1.7zM402.4 411.5h1.7v1.4h-1.7zM402.5 405.6h1.7v1.4h-1.7zM404.4 389.5h1.7v1.4h-1.7zM400.8 394.0h1.7v1.4h-1.7zM400.5 414.4h1.7v1.4h-1.7zM400.5 366.7h1.7v1.4h-1.7zM401.8 398.6h1.7v1.4h-1.7zM404.6 364.9h1.7v1.4h-1.7zM402.4 394.3h1.7v1.4h-1.7zM401.9 414.6h1.7v1.4h-1.7zM402.3 381.5h1.7v1.4h-1.7zM404.8 411.5h1.7v1.4h-1.7zM404.6 376.2h1.7v1.4h-1.7zM404.8 382.6h1.7v1.4h-1.7zM401.6 383.7h1.7v1.4h-1.7zM404.5 399.9h1.7v1.4h-1.7zM404.3 390.4h1.7v1.4h-1.7zM402.8 406.4h1.7v1.4h-1.7zM400.9 379.0h1.7v1.4h-1.7zM404.1 408.5h1.7v1.4h-1.7zM403.7 395.5h1.7v1.4h-1.7zM401.3 392.5h1.7v1.4h-1.7zM405.0 374.1h1.7v1.4h-1.7zM403.9 411.8h1.7v1.4h-1.7zM403.4 380.8h1.7v1.4h-1.7zM404.2 364.9h1.7v1.4h-1.7zM404.9 398.1h1.7v1.4h-1.7zM400.6 390.8h1.7v1.4h-1.7zM401.7 395.4h1.7v1.4h-1.7zM400.9 371.0h1.7v1.4h-1.7zM404.9 371.7h1.7v1.4h-1.7zM402.3 374.7h1.7v1.4h-1.7zM403.7 389.8h1.7v1.4h-1.7zM403.5 406.8h1.7v1.4h-1.7zM401.4 394.4h1.7v1.4h-1.7zM404.6 382.5h1.7v1.4h-1.7zM402.3 376.8h1.7v1.4h-1.7zM402.1 395.0h1.7v1.4h-1.7zM405.0 411.8h1.7v1.4h-1.7zM401.6 408.6h1.7v1.4h-1.7zM404.1 381.1h1.7v1.4h-1.7zM403.5 377.6h1.7v1.4h-1.7zM404.7 411.9h1.7v1.4h-1.7zM403.9 394.1h1.7v1.4h-1.7zM403.4 376.9h1.7v1.4h-1.7zM401.5 389.9h1.7v1.4h-1.7zM401.4 401.1h1.7v1.4h-1.7zM403.5 382.2h1.7v1.4h-1.7zM404.0 375.5h1.7v1.4h-1.7zM404.4 369.4h1.7v1.4h-1.7zM401.0 391.0h1.7v1.4h-1.7zM401.3 412.4h1.7v1.4h-1.7zM402.3 415.2h1.7v1.4h-1.7zM400.5 398.3h1.7v1.4h-1.7zM400.6 396.3h1.7v1.4h-1.7zM403.8 401.4h1.7v1.4h-1.7zM404.3 388.5h1.7v1.4h-1.7zM403.1 384.0h1.7v1.4h-1.7zM400.5 379.7h1.7v1.4h-1.7zM401.2 365.3h1.7v1.4h-1.7zM402.2 378.6h1.7v1.4h-1.7zM404.5 396.8h1.7v1.4h-1.7zM403.3 378.4h1.7v1.4h-1.7zM405.4 368.5h1.7v1.4h-1.7zM401.7 404.9h1.7v1.4h-1.7zM402.0 412.7h1.7v1.4h-1.7zM400.7 405.9h1.7v1.4h-1.7zM404.3 414.5h1.7v1.4h-1.7zM404.0 376.0h1.7v1.4h-1.7zM403.0 379.3h1.7v1.4h-1.7zM405.3 399.8h1.7v1.4h-1.7zM402.9 405.1h1.7v1.4h-1.7zM405.2 400.3h1.7v1.4h-1.7zM404.1 372.0h1.7v1.4h-1.7zM402.8 380.5h1.7v1.4h-1.7zM402.2 402.6h1.7v1.4h-1.7zM404.4 403.2h1.7v1.4h-1.7zM404.0 401.8h1.7v1.4h-1.7zM401.2 368.4h1.7v1.4h-1.7zM405.4 390.5h1.7v1.4h-1.7zM402.5 414.5h1.7v1.4h-1.7zM403.6 374.0h1.7v1.4h-1.7zM404.2 367.7h1.7v1.4h-1.7zM402.9 381.4h1.7v1.4h-1.7zM404.3 414.1h1.7v1.4h-1.7zM403.0 404.5h1.7v1.4h-1.7zM403.2 366.7h1.7v1.4h-1.7zM402.2 401.8h1.7v1.4h-1.7zM401.3 364.9h1.7v1.4h-1.7zM403.1 385.6h1.7v1.4h-1.7zM403.4 409.3h1.7v1.4h-1.7zM404.4 370.0h1.7v1.4h-1.7zM402.4 395.6h1.7v1.4h-1.7zM402.5 413.9h1.7v1.4h-1.7zM402.2 405.7h1.7v1.4h-1.7zM403.4 397.2h1.7v1.4h-1.7zM404.7 384.3h1.7v1.4h-1.7zM405.2 376.8h1.7v1.4h-1.7zM402.8 375.7h1.7v1.4h-1.7zM405.3 400.1h1.7v1.4h-1.7zM404.2 397.6h1.7v1.4h-1.7zM403.7 391.1h1.7v1.4h-1.7zM403.5 373.1h1.7v1.4h-1.7zM403.4 401.1h1.7v1.4h-1.7zM403.1 408.8h1.7v1.4h-1.7zM404.5 383.4h1.7v1.4h-1.7zM401.7 424.3h1.7v1.4h-1.7zM405.0 423.5h1.7v1.4h-1.7zM401.3 428.0h1.7v1.4h-1.7zM403.7 416.7h1.7v1.4h-1.7zM400.8 424.0h1.7v1.4h-1.7zM404.2 428.9h1.7v1.4h-1.7zM405.2 427.9h1.7v1.4h-1.7zM404.9 423.9h1.7v1.4h-1.7zM404.9 425.5h1.7v1.4h-1.7zM402.9 416.5h1.7v1.4h-1.7zM412.6 416.0h1.7v1.4h-1.7zM414.2 394.4h1.7v1.4h-1.7zM413.7 407.8h1.7v1.4h-1.7zM411.7 399.7h1.7v1.4h-1.7zM411.9 393.7h1.7v1.4h-1.7zM410.5 398.2h1.7v1.4h-1.7zM414.6 396.1h1.7v1.4h-1.7zM413.5 400.4h1.7v1.4h-1.7zM412.3 362.2h1.7v1.4h-1.7zM411.9 399.2h1.7v1.4h-1.7zM412.3 380.5h1.7v1.4h-1.7zM414.4 377.0h1.7v1.4h-1.7zM414.7 417.6h1.7v1.4h-1.7zM410.9 387.4h1.7v1.4h-1.7zM412.4 375.5h1.7v1.4h-1.7zM414.1 381.4h1.7v1.4h-1.7zM412.1 381.1h1.7v1.4h-1.7zM413.1 390.7h1.7v1.4h-1.7zM411.6 386.7h1.7v1.4h-1.7zM414.2 406.3h1.7v1.4h-1.7zM411.9 387.5h1.7v1.4h-1.7zM413.2 414.9h1.7v1.4h-1.7zM415.0 399.6h1.7v1.4h-1.7zM411.7 378.5h1.7v1.4h-1.7zM410.9 361.7h1.7v1.4h-1.7zM413.5 385.6h1.7v1.4h-1.7zM411.4 363.8h1.7v1.4h-1.7zM411.1 394.4h1.7v1.4h-1.7zM413.5 381.2h1.7v1.4h-1.7zM414.5 390.7h1.7v1.4h-1.7zM410.7 362.1h1.7v1.4h-1.7zM415.2 412.5h1.7v1.4h-1.7zM412.6 364.1h1.7v1.4h-1.7zM413.7 404.9h1.7v1.4h-1.7zM411.5 375.3h1.7v1.4h-1.7zM414.3 374.8h1.7v1.4h-1.7zM414.3 377.6h1.7v1.4h-1.7zM411.5 397.9h1.7v1.4h-1.7zM410.5 402.8h1.7v1.4h-1.7zM414.9 367.2h1.7v1.4h-1.7zM412.4 362.1h1.7v1.4h-1.7zM414.4 403.5h1.7v1.4h-1.7zM414.9 410.2h1.7v1.4h-1.7zM410.4 400.6h1.7v1.4h-1.7zM414.5 393.7h1.7v1.4h-1.7zM411.4 373.8h1.7v1.4h-1.7zM413.7 371.2h1.7v1.4h-1.7zM410.5 411.6h1.7v1.4h-1.7zM412.4 398.2h1.7v1.4h-1.7zM410.9 387.8h1.7v1.4h-1.7zM412.2 413.5h1.7v1.4h-1.7zM411.1 410.4h1.7v1.4h-1.7zM411.1 405.6h1.7v1.4h-1.7zM412.4 366.8h1.7v1.4h-1.7zM414.2 378.2h1.7v1.4h-1.7zM415.0 407.8h1.7v1.4h-1.7zM413.9 408.0h1.7v1.4h-1.7zM413.0 363.3h1.7v1.4h-1.7zM410.7 365.2h1.7v1.4h-1.7zM411.6 408.0h1.7v1.4h-1.7zM413.8 386.7h1.7v1.4h-1.7zM412.3 402.6h1.7v1.4h-1.7zM412.1 410.5h1.7v1.4h-1.7zM413.4 373.1h1.7v1.4h-1.7zM414.3 367.7h1.7v1.4h-1.7zM413.5 394.2h1.7v1.4h-1.7zM410.9 389.4h1.7v1.4h-1.7zM414.2 393.7h1.7v1.4h-1.7zM410.8 377.1h1.7v1.4h-1.7zM412.0 406.1h1.7v1.4h-1.7zM410.3 410.4h1.7v1.4h-1.7zM414.6 404.0h1.7v1.4h-1.7zM414.7 363.4h1.7v1.4h-1.7zM412.9 410.9h1.7v1.4h-1.7zM414.8 411.2h1.7v1.4h-1.7zM412.9 373.3h1.7v1.4h-1.7zM411.0 389.9h1.7v1.4h-1.7zM412.0 415.0h1.7v1.4h-1.7zM414.2 377.6h1.7v1.4h-1.7zM413.5 384.0h1.7v1.4h-1.7zM410.6 372.2h1.7v1.4h-1.7zM414.9 392.8h1.7v1.4h-1.7zM413.7 377.3h1.7v1.4h-1.7zM413.5 366.7h1.7v1.4h-1.7zM412.2 364.7h1.7v1.4h-1.7zM414.8 413.0h1.7v1.4h-1.7zM412.8 392.0h1.7v1.4h-1.7zM414.6 396.9h1.7v1.4h-1.7zM411.9 417.7h1.7v1.4h-1.7zM410.8 394.8h1.7v1.4h-1.7zM412.3 388.4h1.7v1.4h-1.7zM413.3 386.8h1.7v1.4h-1.7zM411.6 391.7h1.7v1.4h-1.7zM414.9 400.1h1.7v1.4h-1.7zM414.2 415.3h1.7v1.4h-1.7zM414.0 406.3h1.7v1.4h-1.7zM414.4 417.5h1.7v1.4h-1.7zM413.4 364.8h1.7v1.4h-1.7zM412.5 370.4h1.7v1.4h-1.7zM413.4 408.0h1.7v1.4h-1.7zM414.3 366.8h1.7v1.4h-1.7zM410.5 409.4h1.7v1.4h-1.7zM414.7 377.1h1.7v1.4h-1.7zM413.6 417.0h1.7v1.4h-1.7zM414.4 362.0h1.7v1.4h-1.7zM412.7 417.2h1.7v1.4h-1.7zM412.5 384.0h1.7v1.4h-1.7zM414.3 385.7h1.7v1.4h-1.7zM412.6 395.5h1.7v1.4h-1.7zM414.3 383.2h1.7v1.4h-1.7zM413.6 374.9h1.7v1.4h-1.7zM411.7 364.7h1.7v1.4h-1.7zM412.7 374.6h1.7v1.4h-1.7zM413.0 408.7h1.7v1.4h-1.7zM414.2 369.3h1.7v1.4h-1.7zM413.5 380.6h1.7v1.4h-1.7zM413.0 385.3h1.7v1.4h-1.7zM412.2 362.7h1.7v1.4h-1.7zM413.6 397.8h1.7v1.4h-1.7zM412.6 406.2h1.7v1.4h-1.7zM414.1 414.2h1.7v1.4h-1.7zM411.0 364.6h1.7v1.4h-1.7zM412.2 400.1h1.7v1.4h-1.7zM413.9 401.9h1.7v1.4h-1.7zM412.5 382.5h1.7v1.4h-1.7zM413.0 411.8h1.7v1.4h-1.7zM414.1 370.3h1.7v1.4h-1.7zM410.5 373.6h1.7v1.4h-1.7zM412.5 403.0h1.7v1.4h-1.7zM412.4 412.5h1.7v1.4h-1.7zM414.3 392.0h1.7v1.4h-1.7zM412.0 377.8h1.7v1.4h-1.7zM413.1 408.0h1.7v1.4h-1.7zM412.3 407.8h1.7v1.4h-1.7zM411.3 403.5h1.7v1.4h-1.7zM413.3 371.1h1.7v1.4h-1.7zM414.2 376.0h1.7v1.4h-1.7zM410.4 378.3h1.7v1.4h-1.7zM414.6 377.4h1.7v1.4h-1.7zM412.0 387.5h1.7v1.4h-1.7zM414.3 382.3h1.7v1.4h-1.7zM414.6 383.8h1.7v1.4h-1.7zM412.3 387.1h1.7v1.4h-1.7zM414.1 375.4h1.7v1.4h-1.7zM411.8 396.9h1.7v1.4h-1.7zM414.1 412.1h1.7v1.4h-1.7zM412.2 395.0h1.7v1.4h-1.7zM415.0 364.2h1.7v1.4h-1.7zM414.3 387.4h1.7v1.4h-1.7zM414.2 361.7h1.7v1.4h-1.7zM410.9 371.9h1.7v1.4h-1.7zM412.0 396.4h1.7v1.4h-1.7zM413.6 386.0h1.7v1.4h-1.7zM413.8 398.0h1.7v1.4h-1.7zM412.7 410.9h1.7v1.4h-1.7zM414.3 385.6h1.7v1.4h-1.7zM413.3 408.6h1.7v1.4h-1.7zM412.7 380.3h1.7v1.4h-1.7zM410.4 375.9h1.7v1.4h-1.7zM411.6 376.3h1.7v1.4h-1.7zM410.3 369.0h1.7v1.4h-1.7zM415.1 374.7h1.7v1.4h-1.7zM412.8 361.8h1.7v1.4h-1.7zM414.7 411.5h1.7v1.4h-1.7zM412.5 364.2h1.7v1.4h-1.7zM411.0 403.9h1.7v1.4h-1.7zM411.2 375.3h1.7v1.4h-1.7zM413.9 412.5h1.7v1.4h-1.7zM415.3 390.8h1.7v1.4h-1.7zM415.0 390.6h1.7v1.4h-1.7zM412.8 399.8h1.7v1.4h-1.7zM414.0 382.0h1.7v1.4h-1.7zM413.0 409.2h1.7v1.4h-1.7zM412.9 377.6h1.7v1.4h-1.7zM414.4 396.1h1.7v1.4h-1.7zM411.3 391.0h1.7v1.4h-1.7zM411.0 388.6h1.7v1.4h-1.7zM413.5 364.9h1.7v1.4h-1.7zM413.1 364.2h1.7v1.4h-1.7zM414.2 365.7h1.7v1.4h-1.7zM411.2 361.8h1.7v1.4h-1.7zM413.3 386.4h1.7v1.4h-1.7zM412.1 413.9h1.7v1.4h-1.7zM410.4 400.4h1.7v1.4h-1.7zM414.0 402.5h1.7v1.4h-1.7zM412.9 411.3h1.7v1.4h-1.7zM410.8 388.6h1.7v1.4h-1.7zM413.9 416.1h1.7v1.4h-1.7zM411.0 409.2h1.7v1.4h-1.7zM414.6 370.5h1.7v1.4h-1.7zM413.7 382.7h1.7v1.4h-1.7zM414.8 387.2h1.7v1.4h-1.7zM413.5 369.9h1.7v1.4h-1.7zM411.5 378.5h1.7v1.4h-1.7zM414.9 405.5h1.7v1.4h-1.7zM414.0 383.5h1.7v1.4h-1.7zM413.9 387.2h1.7v1.4h-1.7zM414.4 407.7h1.7v1.4h-1.7zM414.7 391.0h1.7v1.4h-1.7zM410.4 416.4h1.7v1.4h-1.7zM412.4 371.3h1.7v1.4h-1.7zM414.8 407.1h1.7v1.4h-1.7zM415.2 413.5h1.7v1.4h-1.7zM410.6 405.7h1.7v1.4h-1.7zM411.4 396.9h1.7v1.4h-1.7zM413.9 396.5h1.7v1.4h-1.7zM411.4 390.5h1.7v1.4h-1.7zM415.3 401.5h1.7v1.4h-1.7zM415.3 363.0h1.7v1.4h-1.7zM410.6 405.4h1.7v1.4h-1.7zM411.7 375.8h1.7v1.4h-1.7zM413.9 388.0h1.7v1.4h-1.7zM411.7 363.2h1.7v1.4h-1.7zM411.0 371.1h1.7v1.4h-1.7zM412.4 391.8h1.7v1.4h-1.7zM410.3 365.7h1.7v1.4h-1.7zM413.2 375.3h1.7v1.4h-1.7zM410.8 364.2h1.7v1.4h-1.7zM412.6 363.0h1.7v1.4h-1.7zM412.3 368.8h1.7v1.4h-1.7zM413.4 411.5h1.7v1.4h-1.7zM412.3 378.2h1.7v1.4h-1.7zM412.6 371.2h1.7v1.4h-1.7zM412.0 393.0h1.7v1.4h-1.7zM413.0 367.8h1.7v1.4h-1.7zM410.8 403.4h1.7v1.4h-1.7zM414.4 383.8h1.7v1.4h-1.7zM410.4 378.0h1.7v1.4h-1.7zM413.2 387.4h1.7v1.4h-1.7zM411.3 366.4h1.7v1.4h-1.7zM412.8 400.8h1.7v1.4h-1.7zM410.8 372.8h1.7v1.4h-1.7zM415.1 409.2h1.7v1.4h-1.7zM414.0 389.0h1.7v1.4h-1.7zM412.8 371.8h1.7v1.4h-1.7zM413.7 372.7h1.7v1.4h-1.7zM411.8 390.2h1.7v1.4h-1.7zM411.4 391.2h1.7v1.4h-1.7zM412.5 412.1h1.7v1.4h-1.7zM411.5 370.3h1.7v1.4h-1.7zM410.3 394.0h1.7v1.4h-1.7zM412.8 361.9h1.7v1.4h-1.7zM412.4 397.0h1.7v1.4h-1.7zM413.2 366.5h1.7v1.4h-1.7zM414.2 396.8h1.7v1.4h-1.7zM411.6 380.4h1.7v1.4h-1.7zM412.3 368.0h1.7v1.4h-1.7zM411.8 396.8h1.7v1.4h-1.7zM410.6 407.6h1.7v1.4h-1.7zM411.9 401.0h1.7v1.4h-1.7zM410.5 405.6h1.7v1.4h-1.7zM413.0 406.5h1.7v1.4h-1.7zM414.5 399.9h1.7v1.4h-1.7zM412.7 370.7h1.7v1.4h-1.7zM414.0 396.1h1.7v1.4h-1.7zM413.3 371.3h1.7v1.4h-1.7zM412.2 401.1h1.7v1.4h-1.7zM411.0 414.4h1.7v1.4h-1.7zM412.8 366.7h1.7v1.4h-1.7zM411.2 417.4h1.7v1.4h-1.7zM411.3 403.9h1.7v1.4h-1.7zM412.4 407.2h1.7v1.4h-1.7zM411.6 411.1h1.7v1.4h-1.7zM410.8 372.3h1.7v1.4h-1.7zM410.9 404.7h1.7v1.4h-1.7zM410.9 411.4h1.7v1.4h-1.7zM415.0 382.3h1.7v1.4h-1.7zM413.2 409.5h1.7v1.4h-1.7zM414.6 371.6h1.7v1.4h-1.7zM414.6 400.2h1.7v1.4h-1.7zM412.1 386.7h1.7v1.4h-1.7zM414.1 395.9h1.7v1.4h-1.7zM411.3 414.6h1.7v1.4h-1.7zM414.5 394.9h1.7v1.4h-1.7zM414.6 378.4h1.7v1.4h-1.7zM414.2 383.7h1.7v1.4h-1.7zM415.2 368.7h1.7v1.4h-1.7zM412.9 401.1h1.7v1.4h-1.7zM410.7 388.8h1.7v1.4h-1.7zM411.8 392.6h1.7v1.4h-1.7zM413.7 374.9h1.7v1.4h-1.7zM412.0 382.0h1.7v1.4h-1.7zM413.3 398.0h1.7v1.4h-1.7zM412.0 376.0h1.7v1.4h-1.7zM411.8 395.9h1.7v1.4h-1.7zM413.0 387.5h1.7v1.4h-1.7zM411.7 405.8h1.7v1.4h-1.7zM413.0 370.4h1.7v1.4h-1.7zM412.7 415.6h1.7v1.4h-1.7zM414.2 362.0h1.7v1.4h-1.7zM414.0 369.0h1.7v1.4h-1.7zM412.1 361.7h1.7v1.4h-1.7zM412.3 370.2h1.7v1.4h-1.7zM413.3 398.3h1.7v1.4h-1.7zM411.1 377.4h1.7v1.4h-1.7zM415.3 364.3h1.7v1.4h-1.7zM413.5 400.6h1.7v1.4h-1.7zM413.2 386.5h1.7v1.4h-1.7zM413.9 390.6h1.7v1.4h-1.7zM411.6 411.5h1.7v1.4h-1.7zM411.9 399.1h1.7v1.4h-1.7zM413.7 413.5h1.7v1.4h-1.7zM412.9 392.7h1.7v1.4h-1.7zM412.5 417.3h1.7v1.4h-1.7zM412.6 413.9h1.7v1.4h-1.7zM411.8 372.0h1.7v1.4h-1.7zM411.3 362.4h1.7v1.4h-1.7zM411.5 398.0h1.7v1.4h-1.7zM411.8 381.4h1.7v1.4h-1.7zM413.0 384.2h1.7v1.4h-1.7zM410.9 362.0h1.7v1.4h-1.7zM413.1 404.8h1.7v1.4h-1.7zM411.7 392.0h1.7v1.4h-1.7zM411.5 387.0h1.7v1.4h-1.7zM413.4 381.7h1.7v1.4h-1.7zM414.7 415.9h1.7v1.4h-1.7zM410.8 400.0h1.7v1.4h-1.7zM411.7 412.3h1.7v1.4h-1.7zM415.0 405.7h1.7v1.4h-1.7zM412.5 414.0h1.7v1.4h-1.7zM410.7 369.5h1.7v1.4h-1.7zM411.2 392.7h1.7v1.4h-1.7zM412.0 386.6h1.7v1.4h-1.7zM413.4 414.2h1.7v1.4h-1.7zM414.8 383.3h1.7v1.4h-1.7zM414.5 400.2h1.7v1.4h-1.7zM414.1 369.1h1.7v1.4h-1.7zM413.4 377.0h1.7v1.4h-1.7zM410.7 404.0h1.7v1.4h-1.7zM411.3 363.8h1.7v1.4h-1.7zM415.2 389.7h1.7v1.4h-1.7zM412.7 398.8h1.7v1.4h-1.7zM410.5 369.6h1.7v1.4h-1.7zM411.3 387.8h1.7v1.4h-1.7zM410.6 368.6h1.7v1.4h-1.7zM410.3 401.3h1.7v1.4h-1.7zM411.5 361.7h1.7v1.4h-1.7zM411.0 403.4h1.7v1.4h-1.7zM413.4 379.9h1.7v1.4h-1.7zM410.5 403.8h1.7v1.4h-1.7zM414.4 380.3h1.7v1.4h-1.7zM414.8 406.3h1.7v1.4h-1.7zM410.4 390.7h1.7v1.4h-1.7zM414.3 375.0h1.7v1.4h-1.7zM413.6 415.7h1.7v1.4h-1.7zM414.4 387.0h1.7v1.4h-1.7zM411.0 380.9h1.7v1.4h-1.7zM414.7 379.3h1.7v1.4h-1.7zM413.3 409.7h1.7v1.4h-1.7zM412.7 399.4h1.7v1.4h-1.7zM411.7 362.9h1.7v1.4h-1.7zM415.3 415.6h1.7v1.4h-1.7zM412.9 379.3h1.7v1.4h-1.7zM413.5 413.5h1.7v1.4h-1.7zM412.6 376.0h1.7v1.4h-1.7zM413.5 376.6h1.7v1.4h-1.7zM412.0 411.9h1.7v1.4h-1.7zM411.0 411.0h1.7v1.4h-1.7zM411.5 399.5h1.7v1.4h-1.7zM411.7 383.7h1.7v1.4h-1.7zM413.7 369.0h1.7v1.4h-1.7zM412.9 364.4h1.7v1.4h-1.7zM413.8 376.4h1.7v1.4h-1.7zM413.3 386.3h1.7v1.4h-1.7zM413.2 417.2h1.7v1.4h-1.7zM410.3 403.8h1.7v1.4h-1.7zM414.7 406.3h1.7v1.4h-1.7zM411.3 364.5h1.7v1.4h-1.7zM410.3 381.2h1.7v1.4h-1.7zM412.7 401.3h1.7v1.4h-1.7zM414.6 388.8h1.7v1.4h-1.7zM412.1 398.0h1.7v1.4h-1.7zM413.5 424.4h1.7v1.4h-1.7zM410.7 424.3h1.7v1.4h-1.7zM413.5 428.0h1.7v1.4h-1.7zM415.1 428.2h1.7v1.4h-1.7zM412.9 439.7h1.7v1.4h-1.7zM414.2 439.8h1.7v1.4h-1.7z"/>
<path d="M206.40,365.50 L216.27,363.50 L226.14,366.50 L236.01,369.00 L245.88,371.40 L255.75,373.00 L265.62,375.40 L275.49,376.40 L285.36,378.30 L295.23,380.30 L305.10,380.00 L314.97,380.30 L324.84,379.70 L334.71,381.90 L344.58,382.70 L354.45,383.40 L364.32,383.10 L374.19,381.10 L384.06,378.90 L393.93,377.10 L403.80,378.90 L413.67,380.70" fill="none" stroke="#000" stroke-width="1.5" stroke-linejoin="round"/>
<line x1="206.40" y1="363.30" x2="206.40" y2="367.70" stroke="#000" stroke-width="1.0"/>
<rect x="204.50" y="363.90" width="3.80" height="3.20" fill="#000"/>
<line x1="216.27" y1="361.50" x2="216.27" y2="365.50" stroke="#000" stroke-width="1.0"/>
<rect x="214.37" y="361.90" width="3.80" height="3.20" fill="#000"/>
<line x1="226.14" y1="365.30" x2="226.14" y2="367.70" stroke="#000" stroke-width="1.0"/>
<rect x="224.24" y="364.90" width="3.80" height="3.20" fill="#000"/>
<line x1="236.01" y1="368.00" x2="236.01" y2="370.00" stroke="#000" stroke-width="1.0"/>
<rect x="234.11" y="367.40" width="3.80" height="3.20" fill="#000"/>
<line x1="245.88" y1="370.40" x2="245.88" y2="372.40" stroke="#000" stroke-width="1.0"/>
<rect x="243.98" y="369.80" width="3.80" height="3.20" fill="#000"/>
<line x1="255.75" y1="372.00" x2="255.75" y2="374.00" stroke="#000" stroke-width="1.0"/>
<rect x="253.85" y="371.40" width="3.80" height="3.20" fill="#000"/>
<line x1="265.62" y1="374.50" x2="265.62" y2="376.30" stroke="#000" stroke-width="1.0"/>
<rect x="263.72" y="373.80" width="3.80" height="3.20" fill="#000"/>
<line x1="275.49" y1="375.50" x2="275.49" y2="377.30" stroke="#000" stroke-width="1.0"/>
<rect x="273.59" y="374.80" width="3.80" height="3.20" fill="#000"/>
<line x1="285.36" y1="377.40" x2="285.36" y2="379.20" stroke="#000" stroke-width="1.0"/>
<rect x="283.46" y="376.70" width="3.80" height="3.20" fill="#000"/>
<line x1="295.23" y1="379.40" x2="295.23" y2="381.20" stroke="#000" stroke-width="1.0"/>
<rect x="293.33" y="378.70" width="3.80" height="3.20" fill="#000"/>
<line x1="305.10" y1="379.10" x2="305.10" y2="380.90" stroke="#000" stroke-width="1.0"/>
<rect x="303.20" y="378.40" width="3.80" height="3.20" fill="#000"/>
<line x1="314.97" y1="379.40" x2="314.97" y2="381.20" stroke="#000" stroke-width="1.0"/>
<rect x="313.07" y="378.70" width="3.80" height="3.20" fill="#000"/>
<line x1="324.84" y1="378.80" x2="324.84" y2="380.60" stroke="#000" stroke-width="1.0"/>
<rect x="322.94" y="378.10" width="3.80" height="3.20" fill="#000"/>
<line x1="334.71" y1="381.00" x2="334.71" y2="382.80" stroke="#000" stroke-width="1.0"/>
<rect x="332.81" y="380.30" width="3.80" height="3.20" fill="#000"/>
<line x1="344.58" y1="381.80" x2="344.58" y2="383.60" stroke="#000" stroke-width="1.0"/>
<rect x="342.68" y="381.10" width="3.80" height="3.20" fill="#000"/>
<line x1="354.45" y1="382.50" x2="354.45" y2="384.30" stroke="#000" stroke-width="1.0"/>
<rect x="352.55" y="381.80" width="3.80" height="3.20" fill="#000"/>
<line x1="364.32" y1="382.20" x2="364.32" y2="384.00" stroke="#000" stroke-width="1.0"/>
<rect x="362.42" y="381.50" width="3.80" height="3.20" fill="#000"/>
<line x1="374.19" y1="380.20" x2="374.19" y2="382.00" stroke="#000" stroke-width="1.0"/>
<rect x="372.29" y="379.50" width="3.80" height="3.20" fill="#000"/>
<line x1="384.06" y1="378.00" x2="384.06" y2="379.80" stroke="#000" stroke-width="1.0"/>
<rect x="382.16" y="377.30" width="3.80" height="3.20" fill="#000"/>
<line x1="393.93" y1="376.20" x2="393.93" y2="378.00" stroke="#000" stroke-width="1.0"/>
<rect x="392.03" y="375.50" width="3.80" height="3.20" fill="#000"/>
<line x1="403.80" y1="378.00" x2="403.80" y2="379.80" stroke="#000" stroke-width="1.0"/>
<rect x="401.90" y="377.30" width="3.80" height="3.20" fill="#000"/>
<line x1="413.67" y1="379.80" x2="413.67" y2="381.60" stroke="#000" stroke-width="1.0"/>
<rect x="411.77" y="379.10" width="3.80" height="3.20" fill="#000"/>
<line x1="349.40" y1="334.20" x2="349.40" y2="480.00" stroke="#c8c8c8" stroke-width="0.9"/>
<line x1="399.20" y1="334.20" x2="399.20" y2="480.00" stroke="#c8c8c8" stroke-width="0.9"/>
<text x="275.00" y="345.30" font-size="8.2" text-anchor="middle" fill="#8c8c8c" font-family="&quot;Liberation Sans&quot;, sans-serif">Initial learning</text>
<text x="352.00" y="345.30" font-size="8.2" text-anchor="start" fill="#8c8c8c" font-family="&quot;Liberation Sans&quot;, sans-serif">Revaluation</text>
<text x="400.20" y="341.90" font-size="8.2" text-anchor="start" fill="#8c8c8c" font-family="&quot;Liberation Sans&quot;, sans-serif">Rev-</text>
<text x="400.00" y="348.20" font-size="8.2" text-anchor="start" fill="#8c8c8c" font-family="&quot;Liberation Sans&quot;, sans-serif">ersal</text>
<line x1="197.00" y1="334.20" x2="197.00" y2="480.50" stroke="#262626" stroke-width="1.0"/>
<line x1="196.50" y1="480.00" x2="423.70" y2="480.00" stroke="#262626" stroke-width="1.0"/>
<line x1="197.00" y1="480.00" x2="199.60" y2="480.00" stroke="#262626" stroke-width="1.0"/>
<line x1="197.00" y1="472.32" x2="198.40" y2="472.32" stroke="#262626" stroke-width="0.7"/>
<line x1="197.00" y1="467.83" x2="198.40" y2="467.83" stroke="#262626" stroke-width="0.7"/>
<line x1="197.00" y1="464.65" x2="198.40" y2="464.65" stroke="#262626" stroke-width="0.7"/>
<line x1="197.00" y1="462.18" x2="198.40" y2="462.18" stroke="#262626" stroke-width="0.7"/>
<line x1="197.00" y1="460.16" x2="198.40" y2="460.16" stroke="#262626" stroke-width="0.7"/>
<line x1="197.00" y1="458.45" x2="198.40" y2="458.45" stroke="#262626" stroke-width="0.7"/>
<line x1="197.00" y1="456.97" x2="198.40" y2="456.97" stroke="#262626" stroke-width="0.7"/>
<line x1="197.00" y1="455.67" x2="198.40" y2="455.67" stroke="#262626" stroke-width="0.7"/>
<line x1="197.00" y1="454.50" x2="199.60" y2="454.50" stroke="#262626" stroke-width="1.0"/>
<line x1="197.00" y1="446.82" x2="198.40" y2="446.82" stroke="#262626" stroke-width="0.7"/>
<line x1="197.00" y1="442.33" x2="198.40" y2="442.33" stroke="#262626" stroke-width="0.7"/>
<line x1="197.00" y1="439.15" x2="198.40" y2="439.15" stroke="#262626" stroke-width="0.7"/>
<line x1="197.00" y1="436.68" x2="198.40" y2="436.68" stroke="#262626" stroke-width="0.7"/>
<line x1="197.00" y1="434.66" x2="198.40" y2="434.66" stroke="#262626" stroke-width="0.7"/>
<line x1="197.00" y1="432.95" x2="198.40" y2="432.95" stroke="#262626" stroke-width="0.7"/>
<line x1="197.00" y1="431.47" x2="198.40" y2="431.47" stroke="#262626" stroke-width="0.7"/>
<line x1="197.00" y1="430.17" x2="198.40" y2="430.17" stroke="#262626" stroke-width="0.7"/>
<line x1="197.00" y1="429.00" x2="199.60" y2="429.00" stroke="#262626" stroke-width="1.0"/>
<line x1="197.00" y1="421.32" x2="198.40" y2="421.32" stroke="#262626" stroke-width="0.7"/>
<line x1="197.00" y1="416.83" x2="198.40" y2="416.83" stroke="#262626" stroke-width="0.7"/>
<line x1="197.00" y1="413.65" x2="198.40" y2="413.65" stroke="#262626" stroke-width="0.7"/>
<line x1="197.00" y1="411.18" x2="198.40" y2="411.18" stroke="#262626" stroke-width="0.7"/>
<line x1="197.00" y1="409.16" x2="198.40" y2="409.16" stroke="#262626" stroke-width="0.7"/>
<line x1="197.00" y1="407.45" x2="198.40" y2="407.45" stroke="#262626" stroke-width="0.7"/>
<line x1="197.00" y1="405.97" x2="198.40" y2="405.97" stroke="#262626" stroke-width="0.7"/>
<line x1="197.00" y1="404.67" x2="198.40" y2="404.67" stroke="#262626" stroke-width="0.7"/>
<line x1="197.00" y1="403.50" x2="199.60" y2="403.50" stroke="#262626" stroke-width="1.0"/>
<line x1="197.00" y1="395.82" x2="198.40" y2="395.82" stroke="#262626" stroke-width="0.7"/>
<line x1="197.00" y1="391.33" x2="198.40" y2="391.33" stroke="#262626" stroke-width="0.7"/>
<line x1="197.00" y1="388.15" x2="198.40" y2="388.15" stroke="#262626" stroke-width="0.7"/>
<line x1="197.00" y1="385.68" x2="198.40" y2="385.68" stroke="#262626" stroke-width="0.7"/>
<line x1="197.00" y1="383.66" x2="198.40" y2="383.66" stroke="#262626" stroke-width="0.7"/>
<line x1="197.00" y1="381.95" x2="198.40" y2="381.95" stroke="#262626" stroke-width="0.7"/>
<line x1="197.00" y1="380.47" x2="198.40" y2="380.47" stroke="#262626" stroke-width="0.7"/>
<line x1="197.00" y1="379.17" x2="198.40" y2="379.17" stroke="#262626" stroke-width="0.7"/>
<line x1="197.00" y1="378.00" x2="199.60" y2="378.00" stroke="#262626" stroke-width="1.0"/>
<line x1="197.00" y1="370.32" x2="198.40" y2="370.32" stroke="#262626" stroke-width="0.7"/>
<line x1="197.00" y1="365.83" x2="198.40" y2="365.83" stroke="#262626" stroke-width="0.7"/>
<line x1="197.00" y1="362.65" x2="198.40" y2="362.65" stroke="#262626" stroke-width="0.7"/>
<line x1="197.00" y1="360.18" x2="198.40" y2="360.18" stroke="#262626" stroke-width="0.7"/>
<line x1="197.00" y1="358.16" x2="198.40" y2="358.16" stroke="#262626" stroke-width="0.7"/>
<line x1="197.00" y1="356.45" x2="198.40" y2="356.45" stroke="#262626" stroke-width="0.7"/>
<line x1="197.00" y1="354.97" x2="198.40" y2="354.97" stroke="#262626" stroke-width="0.7"/>
<line x1="197.00" y1="353.67" x2="198.40" y2="353.67" stroke="#262626" stroke-width="0.7"/>
<line x1="197.00" y1="352.50" x2="199.60" y2="352.50" stroke="#262626" stroke-width="1.0"/>
<line x1="197.00" y1="344.82" x2="198.40" y2="344.82" stroke="#262626" stroke-width="0.7"/>
<line x1="197.00" y1="340.33" x2="198.40" y2="340.33" stroke="#262626" stroke-width="0.7"/>
<line x1="197.00" y1="337.15" x2="198.40" y2="337.15" stroke="#262626" stroke-width="0.7"/>
<line x1="197.00" y1="334.68" x2="198.40" y2="334.68" stroke="#262626" stroke-width="0.7"/>
<text x="193.00" y="355.70" font-size="9.2" text-anchor="end" fill="#262626" font-family="&quot;Liberation Sans&quot;, sans-serif">10</text>
<text x="193.00" y="381.20" font-size="9.2" text-anchor="end" fill="#262626" font-family="&quot;Liberation Sans&quot;, sans-serif">1</text>
<text x="193.00" y="406.70" font-size="9.2" text-anchor="end" fill="#262626" font-family="&quot;Liberation Sans&quot;, sans-serif">0.1</text>
<text x="193.00" y="432.20" font-size="9.2" text-anchor="end" fill="#262626" font-family="&quot;Liberation Sans&quot;, sans-serif">0.01</text>
<text x="193.00" y="457.70" font-size="9.2" text-anchor="end" fill="#262626" font-family="&quot;Liberation Sans&quot;, sans-serif">0.001</text>
<text x="193.00" y="483.20" font-size="9.2" text-anchor="end" fill="#262626" font-family="&quot;Liberation Sans&quot;, sans-serif">0.0001</text>
<line x1="206.40" y1="480.00" x2="206.40" y2="477.40" stroke="#262626" stroke-width="1.0"/>
<text x="206.40" y="491.80" font-size="9.2" text-anchor="middle" fill="#262626" font-family="&quot;Liberation Sans&quot;, sans-serif">1</text>
<line x1="344.58" y1="480.00" x2="344.58" y2="477.40" stroke="#262626" stroke-width="1.0"/>
<text x="344.58" y="491.80" font-size="9.2" text-anchor="middle" fill="#262626" font-family="&quot;Liberation Sans&quot;, sans-serif">15</text>
<line x1="393.93" y1="480.00" x2="393.93" y2="477.40" stroke="#262626" stroke-width="1.0"/>
<text x="393.93" y="491.80" font-size="9.2" text-anchor="middle" fill="#262626" font-family="&quot;Liberation Sans&quot;, sans-serif">20</text>
<line x1="413.67" y1="480.00" x2="413.67" y2="477.40" stroke="#262626" stroke-width="1.0"/>
<text x="413.67" y="491.80" font-size="9.2" text-anchor="middle" fill="#262626" font-family="&quot;Liberation Sans&quot;, sans-serif">22</text>
<text x="310.50" y="503.90" font-size="10.4" text-anchor="middle" fill="#262626" font-family="&quot;Liberation Sans&quot;, sans-serif">Training session</text>
<text x="160.80" y="406.00" font-size="10.4" text-anchor="middle" fill="#262626" font-family="&quot;Liberation Sans&quot;, sans-serif" transform="rotate(-90 160.80 406.00)">Normalised error score</text>
<defs><clipPath id="hmclip"><rect x="503.80" y="334.30" width="89.50" height="146.30"/></clipPath><filter id="hmblur" x="-5%" y="-5%" width="110%" height="110%"><feGaussianBlur stdDeviation="0.55"/></filter></defs>
<g clip-path="url(#hmclip)"><g filter="url(#hmblur)">
<rect x="500.80" y="331.30" width="95.50" height="152.30" fill="#352a87"/>
<rect x="500.80" y="331.30" width="8.26" height="12.13" fill="#2152d2"/>
<rect x="508.06" y="331.30" width="5.26" height="12.13" fill="#3046be"/>
<rect x="512.32" y="331.30" width="5.26" height="12.13" fill="#353eae"/>
<rect x="516.59" y="331.30" width="5.26" height="12.13" fill="#353eae"/>
<rect x="520.85" y="331.30" width="5.26" height="12.13" fill="#36349a"/>
<rect x="525.11" y="331.30" width="5.26" height="12.13" fill="#362e8e"/>
<rect x="529.37" y="331.30" width="5.26" height="12.13" fill="#352a87"/>
<rect x="533.63" y="331.30" width="5.26" height="12.13" fill="#352a87"/>
<rect x="537.90" y="331.30" width="5.26" height="12.13" fill="#352a87"/>
<rect x="542.16" y="331.30" width="5.26" height="12.13" fill="#352a87"/>
<rect x="546.42" y="331.30" width="5.26" height="12.13" fill="#352a87"/>
<rect x="550.68" y="331.30" width="5.26" height="12.13" fill="#352a87"/>
<rect x="554.94" y="331.30" width="5.26" height="12.13" fill="#352a87"/>
<rect x="559.20" y="331.30" width="5.26" height="12.13" fill="#352a87"/>
<rect x="563.47" y="331.30" width="5.26" height="12.13" fill="#352a87"/>
<rect x="567.73" y="331.30" width="5.26" height="12.13" fill="#352a87"/>
<rect x="571.99" y="331.30" width="5.26" height="12.13" fill="#352a87"/>
<rect x="576.25" y="331.30" width="5.26" height="12.13" fill="#352a87"/>
<rect x="580.51" y="331.30" width="5.26" height="12.13" fill="#363195"/>
<rect x="584.78" y="331.30" width="5.26" height="12.13" fill="#353cac"/>
<rect x="589.04" y="331.30" width="8.26" height="12.13" fill="#353cac"/>
<rect x="500.80" y="342.43" width="8.26" height="9.13" fill="#36369f"/>
<rect x="508.06" y="342.43" width="5.26" height="9.13" fill="#36369f"/>
<rect x="512.32" y="342.43" width="5.26" height="9.13" fill="#363093"/>
<rect x="516.59" y="342.43" width="5.26" height="9.13" fill="#352d8c"/>
<rect x="520.85" y="342.43" width="5.26" height="9.13" fill="#352a87"/>
<rect x="525.11" y="342.43" width="5.26" height="9.13" fill="#352a87"/>
<rect x="529.37" y="342.43" width="5.26" height="9.13" fill="#352a87"/>
<rect x="533.63" y="342.43" width="5.26" height="9.13" fill="#352a87"/>
<rect x="537.90" y="342.43" width="5.26" height="9.13" fill="#352a87"/>
<rect x="542.16" y="342.43" width="5.26" height="9.13" fill="#352a87"/>
<rect x="546.42" y="342.43" width="5.26" height="9.13" fill="#352a87"/>
<rect x="550.68" y="342.43" width="5.26" height="9.13" fill="#352a87"/>
<rect x="554.94" y="342.43" width="5.26" height="9.13" fill="#352a87"/>
<rect x="559.20" y="342.43" width="5.26" height="9.13" fill="#352a87"/>
<rect x="563.47" y="342.43" width="5.26" height="9.13" fill="#352a87"/>
<rect x="567.73" y="342.43" width="5.26" height="9.13" fill="#352a87"/>
<rect x="571.99" y="342.43" width="5.26" height="9.13" fill="#352a87"/>
<rect x="576.25" y="342.43" width="5.26" height="9.13" fill="#352a87"/>
<rect x="580.51" y="342.43" width="5.26" height="9.13" fill="#352a87"/>
<rect x="584.78" y="342.43" width="5.26" height="9.13" fill="#352a87"/>
<rect x="589.04" y="342.43" width="8.26" height="9.13" fill="#352a87"/>
<rect x="500.80" y="350.56" width="8.26" height="9.13" fill="#363195"/>
<rect x="508.06" y="350.56" width="5.26" height="9.13" fill="#352d8c"/>
<rect x="512.32" y="350.56" width="5.26" height="9.13" fill="#352a87"/>
<rect x="516.59" y="350.56" width="5.26" height="9.13" fill="#352a87"/>
<rect x="520.85" y="350.56" width="5.26" height="9.13" fill="#352a87"/>
<rect x="525.11" y="350.56" width="5.26" height="9.13" fill="#352a87"/>
<rect x="529.37" y="350.56" width="5.26" height="9.13" fill="#352a87"/>
<rect x="533.63" y="350.56" width="5.26" height="9.13" fill="#352a87"/>
<rect x="537.90" y="350.56" width="5.26" height="9.13" fill="#352a87"/>
<rect x="542.16" y="350.56" width="5.26" height="9.13" fill="#352a87"/>
<rect x="546.42" y="350.56" width="5.26" height="9.13" fill="#352a87"/>
<rect x="550.68" y="350.56" width="5.26" height="9.13" fill="#352a87"/>
<rect x="554.94" y="350.56" width="5.26" height="9.13" fill="#352a87"/>
<rect x="559.20" y="350.56" width="5.26" height="9.13" fill="#352a87"/>
<rect x="563.47" y="350.56" width="5.26" height="9.13" fill="#352a87"/>
<rect x="567.73" y="350.56" width="5.26" height="9.13" fill="#352a87"/>
<rect x="571.99" y="350.56" width="5.26" height="9.13" fill="#352a87"/>
<rect x="576.25" y="350.56" width="5.26" height="9.13" fill="#352a87"/>
<rect x="580.51" y="350.56" width="5.26" height="9.13" fill="#352a87"/>
<rect x="584.78" y="350.56" width="5.26" height="9.13" fill="#352a87"/>
<rect x="589.04" y="350.56" width="8.26" height="9.13" fill="#352a87"/>
<rect x="500.80" y="358.68" width="8.26" height="9.13" fill="#2152d2"/>
<rect x="508.06" y="358.68" width="5.26" height="9.13" fill="#284dca"/>
<rect x="512.32" y="358.68" width="5.26" height="9.13" fill="#353eae"/>
<rect x="516.59" y="358.68" width="5.26" height="9.13" fill="#353eae"/>
<rect x="520.85" y="358.68" width="5.26" height="9.13" fill="#362f91"/>
<rect x="525.11" y="358.68" width="5.26" height="9.13" fill="#352a87"/>
<rect x="529.37" y="358.68" width="5.26" height="9.13" fill="#352a87"/>
<rect x="533.63" y="358.68" width="5.26" height="9.13" fill="#352a87"/>
<rect x="537.90" y="358.68" width="5.26" height="9.13" fill="#352a87"/>
<rect x="542.16" y="358.68" width="5.26" height="9.13" fill="#352a87"/>
<rect x="546.42" y="358.68" width="5.26" height="9.13" fill="#352a87"/>
<rect x="550.68" y="358.68" width="5.26" height="9.13" fill="#352a87"/>
<rect x="554.94" y="358.68" width="5.26" height="9.13" fill="#352a87"/>
<rect x="559.20" y="358.68" width="5.26" height="9.13" fill="#352a87"/>
<rect x="563.47" y="358.68" width="5.26" height="9.13" fill="#352a87"/>
<rect x="567.73" y="358.68" width="5.26" height="9.13" fill="#352a87"/>
<rect x="571.99" y="358.68" width="5.26" height="9.13" fill="#352a87"/>
<rect x="576.25" y="358.68" width="5.26" height="9.13" fill="#362f91"/>
<rect x="580.51" y="358.68" width="5.26" height="9.13" fill="#353cac"/>
<rect x="584.78" y="358.68" width="5.26" height="9.13" fill="#353cac"/>
<rect x="589.04" y="358.68" width="8.26" height="9.13" fill="#353cac"/>
<rect x="500.80" y="366.81" width="8.26" height="9.13" fill="#352a87"/>
<rect x="508.06" y="366.81" width="5.26" height="9.13" fill="#352a87"/>
<rect x="512.32" y="366.81" width="5.26" height="9.13" fill="#352a87"/>
<rect x="516.59" y="366.81" width="5.26" height="9.13" fill="#352a87"/>
<rect x="520.85" y="366.81" width="5.26" height="9.13" fill="#352a87"/>
<rect x="525.11" y="366.81" width="5.26" height="9.13" fill="#352a87"/>
<rect x="529.37" y="366.81" width="5.26" height="9.13" fill="#352a87"/>
<rect x="533.63" y="366.81" width="5.26" height="9.13" fill="#352a87"/>
<rect x="537.90" y="366.81" width="5.26" height="9.13" fill="#352a87"/>
<rect x="542.16" y="366.81" width="5.26" height="9.13" fill="#352a87"/>
<rect x="546.42" y="366.81" width="5.26" height="9.13" fill="#352a87"/>
<rect x="550.68" y="366.81" width="5.26" height="9.13" fill="#352a87"/>
<rect x="554.94" y="366.81" width="5.26" height="9.13" fill="#352a87"/>
<rect x="559.20" y="366.81" width="5.26" height="9.13" fill="#352a87"/>
<rect x="563.47" y="366.81" width="5.26" height="9.13" fill="#352a87"/>
<rect x="567.73" y="366.81" width="5.26" height="9.13" fill="#352a87"/>
<rect x="571.99" y="366.81" width="5.26" height="9.13" fill="#352a87"/>
<rect x="576.25" y="366.81" width="5.26" height="9.13" fill="#352a87"/>
<rect x="580.51" y="366.81" width="5.26" height="9.13" fill="#352a87"/>
<rect x="584.78" y="366.81" width="5.26" height="9.13" fill="#352a87"/>
<rect x="589.04" y="366.81" width="8.26" height="9.13" fill="#352a87"/>
<rect x="500.80" y="374.94" width="8.26" height="9.13" fill="#352a87"/>
<rect x="508.06" y="374.94" width="5.26" height="9.13" fill="#352a87"/>
<rect x="512.32" y="374.94" width="5.26" height="9.13" fill="#352a87"/>
<rect x="516.59" y="374.94" width="5.26" height="9.13" fill="#352a87"/>
<rect x="520.85" y="374.94" width="5.26" height="9.13" fill="#352a87"/>
<rect x="525.11" y="374.94" width="5.26" height="9.13" fill="#352a87"/>
<rect x="529.37" y="374.94" width="5.26" height="9.13" fill="#352a87"/>
<rect x="533.63" y="374.94" width="5.26" height="9.13" fill="#352a87"/>
<rect x="537.90" y="374.94" width="5.26" height="9.13" fill="#352a87"/>
<rect x="542.16" y="374.94" width="5.26" height="9.13" fill="#352a87"/>
<rect x="546.42" y="374.94" width="5.26" height="9.13" fill="#352a87"/>
<rect x="550.68" y="374.94" width="5.26" height="9.13" fill="#352a87"/>
<rect x="554.94" y="374.94" width="5.26" height="9.13" fill="#352a87"/>
<rect x="559.20" y="374.94" width="5.26" height="9.13" fill="#352a87"/>
<rect x="563.47" y="374.94" width="5.26" height="9.13" fill="#352a87"/>
<rect x="567.73" y="374.94" width="5.26" height="9.13" fill="#352a87"/>
<rect x="571.99" y="374.94" width="5.26" height="9.13" fill="#352a87"/>
<rect x="576.25" y="374.94" width="5.26" height="9.13" fill="#352a87"/>
<rect x="580.51" y="374.94" width="5.26" height="9.13" fill="#352a87"/>
<rect x="584.78" y="374.94" width="5.26" height="9.13" fill="#352a87"/>
<rect x="589.04" y="374.94" width="8.26" height="9.13" fill="#352a87"/>
<rect x="500.80" y="383.07" width="8.26" height="9.13" fill="#0364e1"/>
<rect x="508.06" y="383.07" width="5.26" height="9.13" fill="#1c55d6"/>
<rect x="512.32" y="383.07" width="5.26" height="9.13" fill="#2d48c3"/>
<rect x="516.59" y="383.07" width="5.26" height="9.13" fill="#3340b3"/>
<rect x="520.85" y="383.07" width="5.26" height="9.13" fill="#36369f"/>
<rect x="525.11" y="383.07" width="5.26" height="9.13" fill="#362f91"/>
<rect x="529.37" y="383.07" width="5.26" height="9.13" fill="#352a87"/>
<rect x="533.63" y="383.07" width="5.26" height="9.13" fill="#352a87"/>
<rect x="537.90" y="383.07" width="5.26" height="9.13" fill="#352a87"/>
<rect x="542.16" y="383.07" width="5.26" height="9.13" fill="#352a87"/>
<rect x="546.42" y="383.07" width="5.26" height="9.13" fill="#352a87"/>
<rect x="550.68" y="383.07" width="5.26" height="9.13" fill="#352a87"/>
<rect x="554.94" y="383.07" width="5.26" height="9.13" fill="#352a87"/>
<rect x="559.20" y="383.07" width="5.26" height="9.13" fill="#352a87"/>
<rect x="563.47" y="383.07" width="5.26" height="9.13" fill="#352a87"/>
<rect x="567.73" y="383.07" width="5.26" height="9.13" fill="#352a87"/>
<rect x="571.99" y="383.07" width="5.26" height="9.13" fill="#36349a"/>
<rect x="576.25" y="383.07" width="5.26" height="9.13" fill="#36349a"/>
<rect x="580.51" y="383.07" width="5.26" height="9.13" fill="#36349a"/>
<rect x="584.78" y="383.07" width="5.26" height="9.13" fill="#3243b8"/>
<rect x="589.04" y="383.07" width="8.26" height="9.13" fill="#3243b8"/>
<rect x="500.80" y="391.19" width="8.26" height="9.13" fill="#1483d5"/>
<rect x="508.06" y="391.19" width="5.26" height="9.13" fill="#137dd8"/>
<rect x="512.32" y="391.19" width="5.26" height="9.13" fill="#117ad9"/>
<rect x="516.59" y="391.19" width="5.26" height="9.13" fill="#0e77db"/>
<rect x="520.85" y="391.19" width="5.26" height="9.13" fill="#0770df"/>
<rect x="525.11" y="391.19" width="5.26" height="9.13" fill="#0266e1"/>
<rect x="529.37" y="391.19" width="5.26" height="9.13" fill="#1857d8"/>
<rect x="533.63" y="391.19" width="5.26" height="9.13" fill="#2c4ac5"/>
<rect x="537.90" y="391.19" width="5.26" height="9.13" fill="#343fb1"/>
<rect x="542.16" y="391.19" width="5.26" height="9.13" fill="#36349a"/>
<rect x="546.42" y="391.19" width="5.26" height="9.13" fill="#362e8e"/>
<rect x="550.68" y="391.19" width="5.26" height="9.13" fill="#352a87"/>
<rect x="554.94" y="391.19" width="5.26" height="9.13" fill="#352a87"/>
<rect x="559.20" y="391.19" width="5.26" height="9.13" fill="#352a87"/>
<rect x="563.47" y="391.19" width="5.26" height="9.13" fill="#352a87"/>
<rect x="567.73" y="391.19" width="5.26" height="9.13" fill="#352a87"/>
<rect x="571.99" y="391.19" width="5.26" height="9.13" fill="#352a87"/>
<rect x="576.25" y="391.19" width="5.26" height="9.13" fill="#352a87"/>
<rect x="580.51" y="391.19" width="5.26" height="9.13" fill="#352a87"/>
<rect x="584.78" y="391.19" width="5.26" height="9.13" fill="#352a87"/>
<rect x="589.04" y="391.19" width="8.26" height="9.13" fill="#352a87"/>
<rect x="500.80" y="399.32" width="8.26" height="9.13" fill="#36369f"/>
<rect x="508.06" y="399.32" width="5.26" height="9.13" fill="#363195"/>
<rect x="512.32" y="399.32" width="5.26" height="9.13" fill="#363195"/>
<rect x="516.59" y="399.32" width="5.26" height="9.13" fill="#363195"/>
<rect x="520.85" y="399.32" width="5.26" height="9.13" fill="#352d8c"/>
<rect x="525.11" y="399.32" width="5.26" height="9.13" fill="#352a87"/>
<rect x="529.37" y="399.32" width="5.26" height="9.13" fill="#352a87"/>
<rect x="533.63" y="399.32" width="5.26" height="9.13" fill="#352a87"/>
<rect x="537.90" y="399.32" width="5.26" height="9.13" fill="#352a87"/>
<rect x="542.16" y="399.32" width="5.26" height="9.13" fill="#352a87"/>
<rect x="546.42" y="399.32" width="5.26" height="9.13" fill="#352a87"/>
<rect x="550.68" y="399.32" width="5.26" height="9.13" fill="#352a87"/>
<rect x="554.94" y="399.32" width="5.26" height="9.13" fill="#352a87"/>
<rect x="559.20" y="399.32" width="5.26" height="9.13" fill="#352a87"/>
<rect x="563.47" y="399.32" width="5.26" height="9.13" fill="#352a87"/>
<rect x="567.73" y="399.32" width="5.26" height="9.13" fill="#352a87"/>
<rect x="571.99" y="399.32" width="5.26" height="9.13" fill="#352a87"/>
<rect x="576.25" y="399.32" width="5.26" height="9.13" fill="#352a87"/>
<rect x="580.51" y="399.32" width="5.26" height="9.13" fill="#352a87"/>
<rect x="584.78" y="399.32" width="5.26" height="9.13" fill="#352a87"/>
<rect x="589.04" y="399.32" width="8.26" height="9.13" fill="#352a87"/>
<rect x="500.80" y="407.45" width="8.26" height="9.13" fill="#1078da"/>
<rect x="508.06" y="407.45" width="5.26" height="9.13" fill="#0972de"/>
<rect x="512.32" y="407.45" width="5.26" height="9.13" fill="#036ae1"/>
<rect x="516.59" y="407.45" width="5.26" height="9.13" fill="#0562e0"/>
<rect x="520.85" y="407.45" width="5.26" height="9.13" fill="#1c55d6"/>
<rect x="525.11" y="407.45" width="5.26" height="9.13" fill="#2d48c3"/>
<rect x="529.37" y="407.45" width="5.26" height="9.13" fill="#353eae"/>
<rect x="533.63" y="407.45" width="5.26" height="9.13" fill="#363195"/>
<rect x="537.90" y="407.45" width="5.26" height="9.13" fill="#352a87"/>
<rect x="542.16" y="407.45" width="5.26" height="9.13" fill="#352a87"/>
<rect x="546.42" y="407.45" width="5.26" height="9.13" fill="#352a87"/>
<rect x="550.68" y="407.45" width="5.26" height="9.13" fill="#352a87"/>
<rect x="554.94" y="407.45" width="5.26" height="9.13" fill="#352a87"/>
<rect x="559.20" y="407.45" width="5.26" height="9.13" fill="#352a87"/>
<rect x="563.47" y="407.45" width="5.26" height="9.13" fill="#352a87"/>
<rect x="567.73" y="407.45" width="5.26" height="9.13" fill="#36369f"/>
<rect x="571.99" y="407.45" width="5.26" height="9.13" fill="#36369f"/>
<rect x="576.25" y="407.45" width="5.26" height="9.13" fill="#36369f"/>
<rect x="580.51" y="407.45" width="5.26" height="9.13" fill="#343fb1"/>
<rect x="584.78" y="407.45" width="5.26" height="9.13" fill="#343fb1"/>
<rect x="589.04" y="407.45" width="8.26" height="9.13" fill="#264ecd"/>
<rect x="500.80" y="415.58" width="8.26" height="9.13" fill="#125adc"/>
<rect x="508.06" y="415.58" width="5.26" height="9.13" fill="#1c55d6"/>
<rect x="512.32" y="415.58" width="5.26" height="9.13" fill="#264ecd"/>
<rect x="516.59" y="415.58" width="5.26" height="9.13" fill="#264ecd"/>
<rect x="520.85" y="415.58" width="5.26" height="9.13" fill="#3046be"/>
<rect x="525.11" y="415.58" width="5.26" height="9.13" fill="#3046be"/>
<rect x="529.37" y="415.58" width="5.26" height="9.13" fill="#353cac"/>
<rect x="533.63" y="415.58" width="5.26" height="9.13" fill="#353cac"/>
<rect x="537.90" y="415.58" width="5.26" height="9.13" fill="#36349a"/>
<rect x="542.16" y="415.58" width="5.26" height="9.13" fill="#362e8e"/>
<rect x="546.42" y="415.58" width="5.26" height="9.13" fill="#352a87"/>
<rect x="550.68" y="415.58" width="5.26" height="9.13" fill="#352a87"/>
<rect x="554.94" y="415.58" width="5.26" height="9.13" fill="#352a87"/>
<rect x="559.20" y="415.58" width="5.26" height="9.13" fill="#352a87"/>
<rect x="563.47" y="415.58" width="5.26" height="9.13" fill="#352a87"/>
<rect x="567.73" y="415.58" width="5.26" height="9.13" fill="#352a87"/>
<rect x="571.99" y="415.58" width="5.26" height="9.13" fill="#352a87"/>
<rect x="576.25" y="415.58" width="5.26" height="9.13" fill="#352a87"/>
<rect x="580.51" y="415.58" width="5.26" height="9.13" fill="#352a87"/>
<rect x="584.78" y="415.58" width="5.26" height="9.13" fill="#352a87"/>
<rect x="589.04" y="415.58" width="8.26" height="9.13" fill="#352a87"/>
<rect x="500.80" y="423.71" width="8.26" height="9.13" fill="#125adc"/>
<rect x="508.06" y="423.71" width="5.26" height="9.13" fill="#264ecd"/>
<rect x="512.32" y="423.71" width="5.26" height="9.13" fill="#264ecd"/>
<rect x="516.59" y="423.71" width="5.26" height="9.13" fill="#3243b8"/>
<rect x="520.85" y="423.71" width="5.26" height="9.13" fill="#3243b8"/>
<rect x="525.11" y="423.71" width="5.26" height="9.13" fill="#3243b8"/>
<rect x="529.37" y="423.71" width="5.26" height="9.13" fill="#36369f"/>
<rect x="533.63" y="423.71" width="5.26" height="9.13" fill="#36369f"/>
<rect x="537.90" y="423.71" width="5.26" height="9.13" fill="#362e8e"/>
<rect x="542.16" y="423.71" width="5.26" height="9.13" fill="#352a87"/>
<rect x="546.42" y="423.71" width="5.26" height="9.13" fill="#352a87"/>
<rect x="550.68" y="423.71" width="5.26" height="9.13" fill="#352a87"/>
<rect x="554.94" y="423.71" width="5.26" height="9.13" fill="#352a87"/>
<rect x="559.20" y="423.71" width="5.26" height="9.13" fill="#352a87"/>
<rect x="563.47" y="423.71" width="5.26" height="9.13" fill="#352a87"/>
<rect x="567.73" y="423.71" width="5.26" height="9.13" fill="#352a87"/>
<rect x="571.99" y="423.71" width="5.26" height="9.13" fill="#352a87"/>
<rect x="576.25" y="423.71" width="5.26" height="9.13" fill="#352a87"/>
<rect x="580.51" y="423.71" width="5.26" height="9.13" fill="#352a87"/>
<rect x="584.78" y="423.71" width="5.26" height="9.13" fill="#352a87"/>
<rect x="589.04" y="423.71" width="8.26" height="9.13" fill="#352a87"/>
<rect x="500.80" y="431.83" width="8.26" height="9.13" fill="#31b8a2"/>
<rect x="508.06" y="431.83" width="5.26" height="9.13" fill="#12afb7"/>
<rect x="512.32" y="431.83" width="5.26" height="9.13" fill="#069ece"/>
<rect x="516.59" y="431.83" width="5.26" height="9.13" fill="#118cd2"/>
<rect x="520.85" y="431.83" width="5.26" height="9.13" fill="#0f78db"/>
<rect x="525.11" y="431.83" width="5.26" height="9.13" fill="#046ce0"/>
<rect x="529.37" y="431.83" width="5.26" height="9.13" fill="#1857d8"/>
<rect x="533.63" y="431.83" width="5.26" height="9.13" fill="#3046be"/>
<rect x="537.90" y="431.83" width="5.26" height="9.13" fill="#363195"/>
<rect x="542.16" y="431.83" width="5.26" height="9.13" fill="#363093"/>
<rect x="546.42" y="431.83" width="5.26" height="9.13" fill="#363093"/>
<rect x="550.68" y="431.83" width="5.26" height="9.13" fill="#363093"/>
<rect x="554.94" y="431.83" width="5.26" height="9.13" fill="#3639a4"/>
<rect x="559.20" y="431.83" width="5.26" height="9.13" fill="#3243b8"/>
<rect x="563.47" y="431.83" width="5.26" height="9.13" fill="#2152d2"/>
<rect x="567.73" y="431.83" width="5.26" height="9.13" fill="#0a5fdf"/>
<rect x="571.99" y="431.83" width="5.26" height="9.13" fill="#046ce0"/>
<rect x="576.25" y="431.83" width="5.26" height="9.13" fill="#0d75dc"/>
<rect x="580.51" y="431.83" width="5.26" height="9.13" fill="#1078da"/>
<rect x="584.78" y="431.83" width="5.26" height="9.13" fill="#137dd8"/>
<rect x="589.04" y="431.83" width="8.26" height="9.13" fill="#1483d5"/>
<rect x="500.80" y="439.96" width="8.26" height="9.13" fill="#137dd8"/>
<rect x="508.06" y="439.96" width="5.26" height="9.13" fill="#0f78db"/>
<rect x="512.32" y="439.96" width="5.26" height="9.13" fill="#0770df"/>
<rect x="516.59" y="439.96" width="5.26" height="9.13" fill="#0267e1"/>
<rect x="520.85" y="439.96" width="5.26" height="9.13" fill="#1857d8"/>
<rect x="525.11" y="439.96" width="5.26" height="9.13" fill="#3046be"/>
<rect x="529.37" y="439.96" width="5.26" height="9.13" fill="#3639a4"/>
<rect x="533.63" y="439.96" width="5.26" height="9.13" fill="#352d8c"/>
<rect x="537.90" y="439.96" width="5.26" height="9.13" fill="#352a87"/>
<rect x="542.16" y="439.96" width="5.26" height="9.13" fill="#352a87"/>
<rect x="546.42" y="439.96" width="5.26" height="9.13" fill="#352a87"/>
<rect x="550.68" y="439.96" width="5.26" height="9.13" fill="#352a87"/>
<rect x="554.94" y="439.96" width="5.26" height="9.13" fill="#352a87"/>
<rect x="559.20" y="439.96" width="5.26" height="9.13" fill="#36369f"/>
<rect x="563.47" y="439.96" width="5.26" height="9.13" fill="#3340b3"/>
<rect x="567.73" y="439.96" width="5.26" height="9.13" fill="#264ecd"/>
<rect x="571.99" y="439.96" width="5.26" height="9.13" fill="#264ecd"/>
<rect x="576.25" y="439.96" width="5.26" height="9.13" fill="#1c55d6"/>
<rect x="580.51" y="439.96" width="5.26" height="9.13" fill="#1c55d6"/>
<rect x="584.78" y="439.96" width="5.26" height="9.13" fill="#0562e0"/>
<rect x="589.04" y="439.96" width="8.26" height="9.13" fill="#0267e1"/>
<rect x="500.80" y="448.09" width="8.26" height="9.13" fill="#0f78db"/>
<rect x="508.06" y="448.09" width="5.26" height="9.13" fill="#0a72de"/>
<rect x="512.32" y="448.09" width="5.26" height="9.13" fill="#046ce0"/>
<rect x="516.59" y="448.09" width="5.26" height="9.13" fill="#0364e1"/>
<rect x="520.85" y="448.09" width="5.26" height="9.13" fill="#1c55d6"/>
<rect x="525.11" y="448.09" width="5.26" height="9.13" fill="#3243b8"/>
<rect x="529.37" y="448.09" width="5.26" height="9.13" fill="#36369f"/>
<rect x="533.63" y="448.09" width="5.26" height="9.13" fill="#352a87"/>
<rect x="537.90" y="448.09" width="5.26" height="9.13" fill="#352a87"/>
<rect x="542.16" y="448.09" width="5.26" height="9.13" fill="#352a87"/>
<rect x="546.42" y="448.09" width="5.26" height="9.13" fill="#352a87"/>
<rect x="550.68" y="448.09" width="5.26" height="9.13" fill="#352a87"/>
<rect x="554.94" y="448.09" width="5.26" height="9.13" fill="#352a87"/>
<rect x="559.20" y="448.09" width="5.26" height="9.13" fill="#352a87"/>
<rect x="563.47" y="448.09" width="5.26" height="9.13" fill="#36369f"/>
<rect x="567.73" y="448.09" width="5.26" height="9.13" fill="#3243b8"/>
<rect x="571.99" y="448.09" width="5.26" height="9.13" fill="#3243b8"/>
<rect x="576.25" y="448.09" width="5.26" height="9.13" fill="#3243b8"/>
<rect x="580.51" y="448.09" width="5.26" height="9.13" fill="#264ecd"/>
<rect x="584.78" y="448.09" width="5.26" height="9.13" fill="#264ecd"/>
<rect x="589.04" y="448.09" width="8.26" height="9.13" fill="#1c55d6"/>
<rect x="500.80" y="456.22" width="8.26" height="9.13" fill="#f7da24"/>
<rect x="508.06" y="456.22" width="5.26" height="9.13" fill="#b7bd64"/>
<rect x="512.32" y="456.22" width="5.26" height="9.13" fill="#50bc90"/>
<rect x="516.59" y="456.22" width="5.26" height="9.13" fill="#12afb7"/>
<rect x="520.85" y="456.22" width="5.26" height="9.13" fill="#06a2cb"/>
<rect x="525.11" y="456.22" width="5.26" height="9.13" fill="#1487d3"/>
<rect x="529.37" y="456.22" width="5.26" height="9.13" fill="#0c74dd"/>
<rect x="533.63" y="456.22" width="5.26" height="9.13" fill="#0a5fdf"/>
<rect x="537.90" y="456.22" width="5.26" height="9.13" fill="#3340b3"/>
<rect x="542.16" y="456.22" width="5.26" height="9.13" fill="#352d8c"/>
<rect x="546.42" y="456.22" width="5.26" height="9.13" fill="#352d8c"/>
<rect x="550.68" y="456.22" width="5.26" height="9.13" fill="#352d8c"/>
<rect x="554.94" y="456.22" width="5.26" height="9.13" fill="#3639a4"/>
<rect x="559.20" y="456.22" width="5.26" height="9.13" fill="#2c4ac5"/>
<rect x="563.47" y="456.22" width="5.26" height="9.13" fill="#0562e0"/>
<rect x="567.73" y="456.22" width="5.26" height="9.13" fill="#0d75dc"/>
<rect x="571.99" y="456.22" width="5.26" height="9.13" fill="#137fd6"/>
<rect x="576.25" y="456.22" width="5.26" height="9.13" fill="#118cd2"/>
<rect x="580.51" y="456.22" width="5.26" height="9.13" fill="#069ece"/>
<rect x="584.78" y="456.22" width="5.26" height="9.13" fill="#08aac0"/>
<rect x="589.04" y="456.22" width="8.26" height="9.13" fill="#20b4ad"/>
<rect x="500.80" y="464.34" width="8.26" height="9.13" fill="#127bd9"/>
<rect x="508.06" y="464.34" width="5.26" height="9.13" fill="#0d75dc"/>
<rect x="512.32" y="464.34" width="5.26" height="9.13" fill="#056ee0"/>
<rect x="516.59" y="464.34" width="5.26" height="9.13" fill="#0364e1"/>
<rect x="520.85" y="464.34" width="5.26" height="9.13" fill="#1c55d6"/>
<rect x="525.11" y="464.34" width="5.26" height="9.13" fill="#3243b8"/>
<rect x="529.37" y="464.34" width="5.26" height="9.13" fill="#3639a4"/>
<rect x="533.63" y="464.34" width="5.26" height="9.13" fill="#352a87"/>
<rect x="537.90" y="464.34" width="5.26" height="9.13" fill="#352a87"/>
<rect x="542.16" y="464.34" width="5.26" height="9.13" fill="#352a87"/>
<rect x="546.42" y="464.34" width="5.26" height="9.13" fill="#352a87"/>
<rect x="550.68" y="464.34" width="5.26" height="9.13" fill="#352a87"/>
<rect x="554.94" y="464.34" width="5.26" height="9.13" fill="#352a87"/>
<rect x="559.20" y="464.34" width="5.26" height="9.13" fill="#352a87"/>
<rect x="563.47" y="464.34" width="5.26" height="9.13" fill="#36369f"/>
<rect x="567.73" y="464.34" width="5.26" height="9.13" fill="#3340b3"/>
<rect x="571.99" y="464.34" width="5.26" height="9.13" fill="#3340b3"/>
<rect x="576.25" y="464.34" width="5.26" height="9.13" fill="#264ecd"/>
<rect x="580.51" y="464.34" width="5.26" height="9.13" fill="#264ecd"/>
<rect x="584.78" y="464.34" width="5.26" height="9.13" fill="#125adc"/>
<rect x="589.04" y="464.34" width="8.26" height="9.13" fill="#125adc"/>
<rect x="500.80" y="472.47" width="8.26" height="12.13" fill="#127bd9"/>
<rect x="508.06" y="472.47" width="5.26" height="12.13" fill="#0c74dd"/>
<rect x="512.32" y="472.47" width="5.26" height="12.13" fill="#036ae1"/>
<rect x="516.59" y="472.47" width="5.26" height="12.13" fill="#0a5fdf"/>
<rect x="520.85" y="472.47" width="5.26" height="12.13" fill="#264ecd"/>
<rect x="525.11" y="472.47" width="5.26" height="12.13" fill="#3340b3"/>
<rect x="529.37" y="472.47" width="5.26" height="12.13" fill="#36369f"/>
<rect x="533.63" y="472.47" width="5.26" height="12.13" fill="#352a87"/>
<rect x="537.90" y="472.47" width="5.26" height="12.13" fill="#352a87"/>
<rect x="542.16" y="472.47" width="5.26" height="12.13" fill="#352a87"/>
<rect x="546.42" y="472.47" width="5.26" height="12.13" fill="#352a87"/>
<rect x="550.68" y="472.47" width="5.26" height="12.13" fill="#352a87"/>
<rect x="554.94" y="472.47" width="5.26" height="12.13" fill="#352a87"/>
<rect x="559.20" y="472.47" width="5.26" height="12.13" fill="#352a87"/>
<rect x="563.47" y="472.47" width="5.26" height="12.13" fill="#352a87"/>
<rect x="567.73" y="472.47" width="5.26" height="12.13" fill="#3639a4"/>
<rect x="571.99" y="472.47" width="5.26" height="12.13" fill="#3639a4"/>
<rect x="576.25" y="472.47" width="5.26" height="12.13" fill="#3639a4"/>
<rect x="580.51" y="472.47" width="5.26" height="12.13" fill="#3340b3"/>
<rect x="584.78" y="472.47" width="5.26" height="12.13" fill="#3340b3"/>
<rect x="589.04" y="472.47" width="8.26" height="12.13" fill="#264ecd"/>
</g></g>
<rect x="503.80" y="381.57" width="89.50" height="3.00" fill="#fff"/>
<rect x="503.80" y="430.33" width="89.50" height="3.00" fill="#fff"/>
<line x1="503.80" y1="334.30" x2="593.30" y2="334.30" stroke="#262a6a" stroke-width="0.8"/>
<line x1="593.30" y1="334.30" x2="593.30" y2="480.60" stroke="#262626" stroke-width="0.9"/>
<text x="595.80" y="341.86" font-size="10.0" text-anchor="start" fill="#000" font-family="&quot;Liberation Sans&quot;, sans-serif">H</text>
<text x="595.80" y="349.99" font-size="10.0" text-anchor="start" fill="#000" font-family="&quot;Liberation Sans&quot;, sans-serif">I</text>
<text x="595.80" y="358.12" font-size="10.0" text-anchor="start" fill="#000" font-family="&quot;Liberation Sans&quot;, sans-serif">J</text>
<text x="595.80" y="366.25" font-size="10.0" text-anchor="start" fill="#000" font-family="&quot;Liberation Sans&quot;, sans-serif">K</text>
<text x="595.80" y="374.38" font-size="10.0" text-anchor="start" fill="#000" font-family="&quot;Liberation Sans&quot;, sans-serif">L</text>
<text x="595.80" y="382.50" font-size="10.0" text-anchor="start" fill="#000" font-family="&quot;Liberation Sans&quot;, sans-serif">M</text>
<text x="595.80" y="390.63" font-size="10.0" text-anchor="start" fill="#000" font-family="&quot;Liberation Sans&quot;, sans-serif">H</text>
<text x="595.80" y="398.76" font-size="10.0" text-anchor="start" fill="#000" font-family="&quot;Liberation Sans&quot;, sans-serif">I</text>
<text x="595.80" y="406.89" font-size="10.0" text-anchor="start" fill="#000" font-family="&quot;Liberation Sans&quot;, sans-serif">J</text>
<text x="595.80" y="415.01" font-size="10.0" text-anchor="start" fill="#000" font-family="&quot;Liberation Sans&quot;, sans-serif">K</text>
<text x="595.80" y="423.14" font-size="10.0" text-anchor="start" fill="#000" font-family="&quot;Liberation Sans&quot;, sans-serif">L</text>
<text x="595.80" y="431.27" font-size="10.0" text-anchor="start" fill="#000" font-family="&quot;Liberation Sans&quot;, sans-serif">M</text>
<text x="595.80" y="439.40" font-size="10.0" text-anchor="start" fill="#000" font-family="&quot;Liberation Sans&quot;, sans-serif">H</text>
<text x="595.80" y="447.53" font-size="10.0" text-anchor="start" fill="#000" font-family="&quot;Liberation Sans&quot;, sans-serif">I</text>
<text x="595.80" y="455.65" font-size="10.0" text-anchor="start" fill="#000" font-family="&quot;Liberation Sans&quot;, sans-serif">J</text>
<text x="595.80" y="463.78" font-size="10.0" text-anchor="start" fill="#000" font-family="&quot;Liberation Sans&quot;, sans-serif">K</text>
<text x="595.80" y="471.91" font-size="10.0" text-anchor="start" fill="#000" font-family="&quot;Liberation Sans&quot;, sans-serif">L</text>
<text x="595.80" y="480.04" font-size="10.0" text-anchor="start" fill="#000" font-family="&quot;Liberation Sans&quot;, sans-serif">M</text>
<text x="503.80" y="492.30" font-size="9.6" text-anchor="middle" fill="#262626" font-family="&quot;Liberation Sans&quot;, sans-serif">-50%</text>
<text x="548.55" y="492.30" font-size="9.6" text-anchor="middle" fill="#262626" font-family="&quot;Liberation Sans&quot;, sans-serif">0%</text>
<text x="593.30" y="492.30" font-size="9.6" text-anchor="middle" fill="#262626" font-family="&quot;Liberation Sans&quot;, sans-serif">50%</text>
<text x="549.70" y="504.50" font-size="10.45" text-anchor="middle" fill="#262626" font-family="&quot;Liberation Sans&quot;, sans-serif">Perturbation from optimised value</text>
<text x="481.60" y="406.50" font-size="10.0" text-anchor="middle" fill="#262626" font-family="&quot;Liberation Sans&quot;, sans-serif" transform="rotate(-90 481.60 406.50)">Parameter</text>
<text x="614.90" y="407.00" font-size="10.5" text-anchor="middle" fill="#262626" font-family="&quot;Liberation Sans&quot;, sans-serif" transform="rotate(-90 614.90 407.00)">Rat</text>
<text x="492.00" y="366.50" font-size="22" text-anchor="middle" fill="#000" font-family="&quot;Liberation Serif&quot;, serif" font-style="italic">α</text>
<text x="493.50" y="415.00" font-size="22" text-anchor="middle" fill="#000" font-family="&quot;Liberation Serif&quot;, serif" font-style="italic">γ</text>
<text x="494.50" y="464.50" font-size="21" text-anchor="middle" fill="#000" font-family="&quot;Liberation Serif&quot;, serif" font-style="italic">ϵ</text>
<defs><linearGradient id="par2" x1="0" y1="1" x2="0" y2="0"><stop offset="0.0000" stop-color="#352a87"/><stop offset="0.0312" stop-color="#36369f"/><stop offset="0.0625" stop-color="#3243b9"/><stop offset="0.0938" stop-color="#2152d3"/><stop offset="0.1250" stop-color="#0462e0"/><stop offset="0.1562" stop-color="#046ce0"/><stop offset="0.1875" stop-color="#0c74dd"/><stop offset="0.2188" stop-color="#127cd8"/><stop offset="0.2500" stop-color="#1484d4"/><stop offset="0.2812" stop-color="#118dd2"/><stop offset="0.3125" stop-color="#0a97d1"/><stop offset="0.3438" stop-color="#069fce"/><stop offset="0.3750" stop-color="#06a6c7"/><stop offset="0.4062" stop-color="#09abbf"/><stop offset="0.4375" stop-color="#13b0b6"/><stop offset="0.4688" stop-color="#21b4ac"/><stop offset="0.5000" stop-color="#33b8a1"/><stop offset="0.5312" stop-color="#47bb95"/><stop offset="0.5625" stop-color="#5ebe89"/><stop offset="0.5938" stop-color="#75bf7e"/><stop offset="0.6250" stop-color="#8bbf75"/><stop offset="0.6562" stop-color="#9fbe6d"/><stop offset="0.6875" stop-color="#b1bd66"/><stop offset="0.7188" stop-color="#c2bc5f"/><stop offset="0.7500" stop-color="#d3bb58"/><stop offset="0.7812" stop-color="#e3b951"/><stop offset="0.8125" stop-color="#f2b949"/><stop offset="0.8438" stop-color="#febf3c"/><stop offset="0.8750" stop-color="#fec932"/><stop offset="0.9062" stop-color="#f9d329"/><stop offset="0.9375" stop-color="#f5de21"/><stop offset="0.9688" stop-color="#f5eb18"/><stop offset="1.0000" stop-color="#f9fb0e"/></linearGradient></defs>
<rect x="623.00" y="334.90" width="12.30" height="145.60" fill="url(#par2)" stroke="#262626" stroke-width="0.5"/>
<line x1="633.70" y1="480.50" x2="635.30" y2="480.50" stroke="#262626" stroke-width="0.7"/>
<text x="638.00" y="483.70" font-size="9.0" text-anchor="start" fill="#262626" font-family="&quot;Liberation Sans&quot;, sans-serif">1</text>
<line x1="633.70" y1="457.89" x2="635.30" y2="457.89" stroke="#262626" stroke-width="0.7"/>
<text x="638.00" y="461.09" font-size="9.0" text-anchor="start" fill="#262626" font-family="&quot;Liberation Sans&quot;, sans-serif">1.5</text>
<line x1="633.70" y1="435.28" x2="635.30" y2="435.28" stroke="#262626" stroke-width="0.7"/>
<text x="638.00" y="438.48" font-size="9.0" text-anchor="start" fill="#262626" font-family="&quot;Liberation Sans&quot;, sans-serif">2</text>
<line x1="633.70" y1="412.67" x2="635.30" y2="412.67" stroke="#262626" stroke-width="0.7"/>
<text x="638.00" y="415.87" font-size="9.0" text-anchor="start" fill="#262626" font-family="&quot;Liberation Sans&quot;, sans-serif">2.5</text>
<line x1="633.70" y1="390.07" x2="635.30" y2="390.07" stroke="#262626" stroke-width="0.7"/>
<text x="638.00" y="393.27" font-size="9.0" text-anchor="start" fill="#262626" font-family="&quot;Liberation Sans&quot;, sans-serif">3</text>
<line x1="633.70" y1="367.46" x2="635.30" y2="367.46" stroke="#262626" stroke-width="0.7"/>
<text x="638.00" y="370.66" font-size="9.0" text-anchor="start" fill="#262626" font-family="&quot;Liberation Sans&quot;, sans-serif">3.5</text>
<line x1="633.70" y1="344.85" x2="635.30" y2="344.85" stroke="#262626" stroke-width="0.7"/>
<text x="638.00" y="348.05" font-size="9.0" text-anchor="start" fill="#262626" font-family="&quot;Liberation Sans&quot;, sans-serif">4</text>
<text x="660.60" y="407.00" font-size="8.9" text-anchor="middle" fill="#262626" font-family="&quot;Liberation Sans&quot;, sans-serif" transform="rotate(-90 660.60 407.00)">Normalised</text>
<text x="670.20" y="407.00" font-size="8.9" text-anchor="middle" fill="#262626" font-family="&quot;Liberation Sans&quot;, sans-serif" transform="rotate(-90 670.20 407.00)">error score</text>
</svg>
</body></html>
